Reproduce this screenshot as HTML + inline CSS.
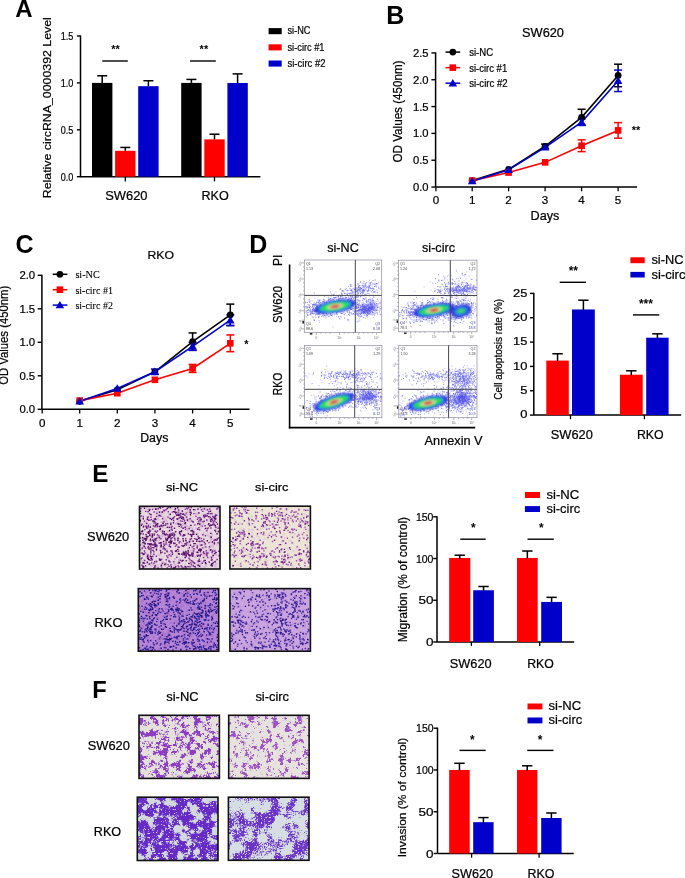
<!DOCTYPE html>
<html><head><meta charset="utf-8"><style>
html,body{margin:0;padding:0;background:#fff;}
svg{display:block;will-change:transform;filter:blur(0.35px);}
</style></head><body>
<svg width="685" height="878" viewBox="0 0 685 878">
<defs><filter id="soft" x="-5%" y="-5%" width="110%" height="110%"><feGaussianBlur stdDeviation="0.45"/></filter><filter id="fblur" x="-20%" y="-20%" width="140%" height="140%"><feGaussianBlur stdDeviation="0.9"/></filter></defs>
<rect width="685" height="878" fill="#fff"/>
<text x="15.3" y="17.1" font-size="24" text-anchor="start" font-family="Liberation Sans, sans-serif" font-weight="bold" fill="#000" >A</text>
<line x1="80.5" y1="35.4" x2="80.5" y2="177.29999999999998" stroke="#000" stroke-width="1.5"/>
<line x1="80.5" y1="176.7" x2="260.4" y2="176.7" stroke="#000" stroke-width="1.5"/>
<line x1="76.9" y1="36.0" x2="80.5" y2="36.0" stroke="#000" stroke-width="1.4"/>
<text x="73.4" y="39.8" font-size="10.6" text-anchor="end" font-family="Liberation Sans, sans-serif" textLength="12.6" lengthAdjust="spacingAndGlyphs" fill="#000" stroke="#000" stroke-width="0.22">1.5</text>
<line x1="76.9" y1="82.89999999999999" x2="80.5" y2="82.89999999999999" stroke="#000" stroke-width="1.4"/>
<text x="73.4" y="86.69999999999999" font-size="10.6" text-anchor="end" font-family="Liberation Sans, sans-serif" textLength="12.6" lengthAdjust="spacingAndGlyphs" fill="#000" stroke="#000" stroke-width="0.22">1.0</text>
<line x1="76.9" y1="129.79999999999998" x2="80.5" y2="129.79999999999998" stroke="#000" stroke-width="1.4"/>
<text x="73.4" y="133.6" font-size="10.6" text-anchor="end" font-family="Liberation Sans, sans-serif" textLength="12.6" lengthAdjust="spacingAndGlyphs" fill="#000" stroke="#000" stroke-width="0.22">0.5</text>
<line x1="76.9" y1="176.7" x2="80.5" y2="176.7" stroke="#000" stroke-width="1.4"/>
<text x="73.4" y="180.5" font-size="10.6" text-anchor="end" font-family="Liberation Sans, sans-serif" textLength="12.6" lengthAdjust="spacingAndGlyphs" fill="#000" stroke="#000" stroke-width="0.22">0.0</text>
<text transform="translate(51.2,17.2) rotate(-90)" font-size="11.8" text-anchor="end" font-family="Liberation Sans, sans-serif" textLength="181" lengthAdjust="spacingAndGlyphs" fill="#000" stroke="#000" stroke-width="0.22">Relative circRNA_0000392 Level</text>
<rect x="92.0" y="82.89999999999999" width="20.4" height="93.8" fill="#000"/>
<line x1="102.2" y1="75.77119999999998" x2="102.2" y2="82.89999999999999" stroke="#000" stroke-width="1.5"/>
<line x1="97.2" y1="75.77119999999998" x2="107.2" y2="75.77119999999998" stroke="#000" stroke-width="1.5"/>
<rect x="115.1" y="150.81119999999999" width="20.4" height="25.888800000000003" fill="#ff0000"/>
<line x1="125.3" y1="147.43439999999998" x2="125.3" y2="150.81119999999999" stroke="#000" stroke-width="1.5"/>
<line x1="120.3" y1="147.43439999999998" x2="130.3" y2="147.43439999999998" stroke="#000" stroke-width="1.5"/>
<rect x="138.2" y="86.18299999999999" width="20.4" height="90.517" fill="#0000ca"/>
<line x1="148.39999999999998" y1="80.7426" x2="148.39999999999998" y2="86.18299999999999" stroke="#000" stroke-width="1.5"/>
<line x1="143.39999999999998" y1="80.7426" x2="153.39999999999998" y2="80.7426" stroke="#000" stroke-width="1.5"/>
<rect x="181.2" y="82.89999999999999" width="20.4" height="93.8" fill="#000"/>
<line x1="191.39999999999998" y1="79.4294" x2="191.39999999999998" y2="82.89999999999999" stroke="#000" stroke-width="1.5"/>
<line x1="186.39999999999998" y1="79.4294" x2="196.39999999999998" y2="79.4294" stroke="#000" stroke-width="1.5"/>
<rect x="204.3" y="139.36759999999998" width="20.4" height="37.33240000000001" fill="#ff0000"/>
<line x1="214.5" y1="134.2086" x2="214.5" y2="139.36759999999998" stroke="#000" stroke-width="1.5"/>
<line x1="209.5" y1="134.2086" x2="219.5" y2="134.2086" stroke="#000" stroke-width="1.5"/>
<rect x="227.4" y="82.9938" width="20.4" height="93.7062" fill="#0000ca"/>
<line x1="237.6" y1="73.89519999999999" x2="237.6" y2="82.9938" stroke="#000" stroke-width="1.5"/>
<line x1="232.6" y1="73.89519999999999" x2="242.6" y2="73.89519999999999" stroke="#000" stroke-width="1.5"/>
<line x1="125.3" y1="176.7" x2="125.3" y2="181.4" stroke="#000" stroke-width="1.3"/>
<line x1="214.5" y1="176.7" x2="214.5" y2="181.4" stroke="#000" stroke-width="1.3"/>
<text x="126.4" y="199.7" font-size="12.3" text-anchor="middle" font-family="Liberation Sans, sans-serif" textLength="42.3" lengthAdjust="spacingAndGlyphs" fill="#000" stroke="#000" stroke-width="0.22">SW620</text>
<text x="215.1" y="199.8" font-size="12.3" text-anchor="middle" font-family="Liberation Sans, sans-serif" textLength="27.3" lengthAdjust="spacingAndGlyphs" fill="#000" stroke="#000" stroke-width="0.22">RKO</text>
<line x1="102.3" y1="61" x2="127.8" y2="61" stroke="#000" stroke-width="1.4"/>
<text x="115.6" y="53.2" font-size="11" text-anchor="middle" font-family="Liberation Sans, sans-serif" font-weight="bold" fill="#000" >**</text>
<line x1="190.1" y1="61" x2="215.8" y2="61" stroke="#000" stroke-width="1.4"/>
<text x="203.9" y="53.2" font-size="11" text-anchor="middle" font-family="Liberation Sans, sans-serif" font-weight="bold" fill="#000" >**</text>
<rect x="268.6" y="28.1" width="13.1" height="6.1" fill="#000"/>
<text x="287.5" y="34.4" font-size="11.6" text-anchor="start" font-family="Liberation Sans, sans-serif" textLength="23" lengthAdjust="spacingAndGlyphs" fill="#000" stroke="#000" stroke-width="0.22">si-NC</text>
<rect x="268.6" y="44.3" width="13.1" height="6.1" fill="#ff0000"/>
<text x="287.5" y="50.599999999999994" font-size="11.6" text-anchor="start" font-family="Liberation Sans, sans-serif" textLength="37" lengthAdjust="spacingAndGlyphs" fill="#000" stroke="#000" stroke-width="0.22">si-circ #1</text>
<rect x="268.6" y="60.5" width="13.1" height="6.1" fill="#0000ca"/>
<text x="287.5" y="66.8" font-size="11.6" text-anchor="start" font-family="Liberation Sans, sans-serif" textLength="38" lengthAdjust="spacingAndGlyphs" fill="#000" stroke="#000" stroke-width="0.22">si-circ #2</text>
<text x="386.3" y="24.1" font-size="25" text-anchor="start" font-family="Liberation Sans, sans-serif" font-weight="bold" fill="#000" >B</text>
<text x="543.0" y="36.5" font-size="12.4" text-anchor="middle" font-family="Liberation Sans, sans-serif" textLength="42" lengthAdjust="spacingAndGlyphs" fill="#000" stroke="#000" stroke-width="0.22">SW620</text>
<line x1="435.6" y1="52.32500000000001" x2="435.6" y2="187.05" stroke="#000" stroke-width="1.5"/>
<line x1="435.6" y1="187.05" x2="637.1" y2="187.05" stroke="#000" stroke-width="1.5"/>
<line x1="431.40000000000003" y1="187.05" x2="435.6" y2="187.05" stroke="#000" stroke-width="1.4"/>
<text x="428.6" y="191.05" font-size="11.4" text-anchor="end" font-family="Liberation Sans, sans-serif" textLength="15.6" lengthAdjust="spacingAndGlyphs" fill="#000" stroke="#000" stroke-width="0.22">0.0</text>
<line x1="431.40000000000003" y1="160.22500000000002" x2="435.6" y2="160.22500000000002" stroke="#000" stroke-width="1.4"/>
<text x="428.6" y="164.22500000000002" font-size="11.4" text-anchor="end" font-family="Liberation Sans, sans-serif" textLength="15.6" lengthAdjust="spacingAndGlyphs" fill="#000" stroke="#000" stroke-width="0.22">0.5</text>
<line x1="431.40000000000003" y1="133.4" x2="435.6" y2="133.4" stroke="#000" stroke-width="1.4"/>
<text x="428.6" y="137.4" font-size="11.4" text-anchor="end" font-family="Liberation Sans, sans-serif" textLength="15.6" lengthAdjust="spacingAndGlyphs" fill="#000" stroke="#000" stroke-width="0.22">1.0</text>
<line x1="431.40000000000003" y1="106.57500000000002" x2="435.6" y2="106.57500000000002" stroke="#000" stroke-width="1.4"/>
<text x="428.6" y="110.57500000000002" font-size="11.4" text-anchor="end" font-family="Liberation Sans, sans-serif" textLength="15.6" lengthAdjust="spacingAndGlyphs" fill="#000" stroke="#000" stroke-width="0.22">1.5</text>
<line x1="431.40000000000003" y1="79.75000000000001" x2="435.6" y2="79.75000000000001" stroke="#000" stroke-width="1.4"/>
<text x="428.6" y="83.75000000000001" font-size="11.4" text-anchor="end" font-family="Liberation Sans, sans-serif" textLength="15.6" lengthAdjust="spacingAndGlyphs" fill="#000" stroke="#000" stroke-width="0.22">2.0</text>
<line x1="431.40000000000003" y1="52.92500000000001" x2="435.6" y2="52.92500000000001" stroke="#000" stroke-width="1.4"/>
<text x="428.6" y="56.92500000000001" font-size="11.4" text-anchor="end" font-family="Liberation Sans, sans-serif" textLength="15.6" lengthAdjust="spacingAndGlyphs" fill="#000" stroke="#000" stroke-width="0.22">2.5</text>
<line x1="435.9" y1="187.05" x2="435.9" y2="191.3" stroke="#000" stroke-width="1.3"/>
<text x="435.9" y="204.4" font-size="11.6" text-anchor="middle" font-family="Liberation Sans, sans-serif" fill="#000" stroke="#000" stroke-width="0.22">0</text>
<line x1="472.2" y1="187.05" x2="472.2" y2="191.3" stroke="#000" stroke-width="1.3"/>
<text x="472.2" y="204.4" font-size="11.6" text-anchor="middle" font-family="Liberation Sans, sans-serif" fill="#000" stroke="#000" stroke-width="0.22">1</text>
<line x1="508.6" y1="187.05" x2="508.6" y2="191.3" stroke="#000" stroke-width="1.3"/>
<text x="508.6" y="204.4" font-size="11.6" text-anchor="middle" font-family="Liberation Sans, sans-serif" fill="#000" stroke="#000" stroke-width="0.22">2</text>
<line x1="545.1" y1="187.05" x2="545.1" y2="191.3" stroke="#000" stroke-width="1.3"/>
<text x="545.1" y="204.4" font-size="11.6" text-anchor="middle" font-family="Liberation Sans, sans-serif" fill="#000" stroke="#000" stroke-width="0.22">3</text>
<line x1="581.6" y1="187.05" x2="581.6" y2="191.3" stroke="#000" stroke-width="1.3"/>
<text x="581.6" y="204.4" font-size="11.6" text-anchor="middle" font-family="Liberation Sans, sans-serif" fill="#000" stroke="#000" stroke-width="0.22">4</text>
<line x1="618.1" y1="187.05" x2="618.1" y2="191.3" stroke="#000" stroke-width="1.3"/>
<text x="618.1" y="204.4" font-size="11.6" text-anchor="middle" font-family="Liberation Sans, sans-serif" fill="#000" stroke="#000" stroke-width="0.22">5</text>
<text x="544.9" y="219.6" font-size="12.4" text-anchor="middle" font-family="Liberation Sans, sans-serif" textLength="28.8" lengthAdjust="spacingAndGlyphs" fill="#000" stroke="#000" stroke-width="0.22">Days</text>
<text transform="translate(401.9,111.5) rotate(-90)" font-size="12.4" text-anchor="middle" font-family="Liberation Sans, sans-serif" textLength="102" lengthAdjust="spacingAndGlyphs" fill="#000" stroke="#000" stroke-width="0.22">OD Values (450nm)</text>
<polyline points="472.2,180.61200000000002 508.6,169.34550000000002 545.1,146.276 581.6,117.305 618.1,75.45800000000001" fill="none" stroke="#000" stroke-width="1.6"/>
<line x1="545.1" y1="144.13" x2="545.1" y2="148.42200000000003" stroke="#000" stroke-width="1.5"/>
<line x1="541.1" y1="144.13" x2="549.1" y2="144.13" stroke="#000" stroke-width="1.5"/>
<line x1="541.1" y1="148.42200000000003" x2="549.1" y2="148.42200000000003" stroke="#000" stroke-width="1.5"/>
<line x1="581.6" y1="109.25750000000002" x2="581.6" y2="125.3525" stroke="#000" stroke-width="1.5"/>
<line x1="577.6" y1="109.25750000000002" x2="585.6" y2="109.25750000000002" stroke="#000" stroke-width="1.5"/>
<line x1="577.6" y1="125.3525" x2="585.6" y2="125.3525" stroke="#000" stroke-width="1.5"/>
<line x1="618.1" y1="64.19150000000002" x2="618.1" y2="86.7245" stroke="#000" stroke-width="1.5"/>
<line x1="614.1" y1="64.19150000000002" x2="622.1" y2="64.19150000000002" stroke="#000" stroke-width="1.5"/>
<line x1="614.1" y1="86.7245" x2="622.1" y2="86.7245" stroke="#000" stroke-width="1.5"/>
<polyline points="472.2,180.61200000000002 508.6,172.5645 545.1,162.371 581.6,145.73950000000002 618.1,130.3956" fill="none" stroke="#ff0000" stroke-width="1.6"/>
<line x1="581.6" y1="139.83800000000002" x2="581.6" y2="151.64100000000002" stroke="#ff0000" stroke-width="1.5"/>
<line x1="577.6" y1="139.83800000000002" x2="585.6" y2="139.83800000000002" stroke="#ff0000" stroke-width="1.5"/>
<line x1="577.6" y1="151.64100000000002" x2="585.6" y2="151.64100000000002" stroke="#ff0000" stroke-width="1.5"/>
<line x1="618.1" y1="122.61635000000001" x2="618.1" y2="138.17485000000002" stroke="#ff0000" stroke-width="1.5"/>
<line x1="614.1" y1="122.61635000000001" x2="622.1" y2="122.61635000000001" stroke="#ff0000" stroke-width="1.5"/>
<line x1="614.1" y1="138.17485000000002" x2="622.1" y2="138.17485000000002" stroke="#ff0000" stroke-width="1.5"/>
<polyline points="472.2,181.1485 508.6,169.882 545.1,147.34900000000002 581.6,122.13350000000001 618.1,80.82300000000002" fill="none" stroke="#0000ca" stroke-width="1.6"/>
<line x1="581.6" y1="118.91450000000002" x2="581.6" y2="125.35250000000002" stroke="#0000ca" stroke-width="1.5"/>
<line x1="577.6" y1="118.91450000000002" x2="585.6" y2="118.91450000000002" stroke="#0000ca" stroke-width="1.5"/>
<line x1="577.6" y1="125.35250000000002" x2="585.6" y2="125.35250000000002" stroke="#0000ca" stroke-width="1.5"/>
<line x1="618.1" y1="70.093" x2="618.1" y2="91.55300000000001" stroke="#0000ca" stroke-width="1.5"/>
<line x1="614.1" y1="70.093" x2="622.1" y2="70.093" stroke="#0000ca" stroke-width="1.5"/>
<line x1="614.1" y1="91.55300000000001" x2="622.1" y2="91.55300000000001" stroke="#0000ca" stroke-width="1.5"/>
<circle cx="472.2" cy="180.61200000000002" r="3.4" fill="#000"/>
<circle cx="508.6" cy="169.34550000000002" r="3.4" fill="#000"/>
<circle cx="545.1" cy="146.276" r="3.4" fill="#000"/>
<circle cx="581.6" cy="117.305" r="3.4" fill="#000"/>
<circle cx="618.1" cy="75.45800000000001" r="3.4" fill="#000"/>
<rect x="468.9" y="177.312" width="6.6" height="6.6" fill="#ff0000"/>
<rect x="505.3" y="169.2645" width="6.6" height="6.6" fill="#ff0000"/>
<rect x="541.8000000000001" y="159.071" width="6.6" height="6.6" fill="#ff0000"/>
<rect x="578.3000000000001" y="142.4395" width="6.6" height="6.6" fill="#ff0000"/>
<rect x="614.8000000000001" y="127.0956" width="6.6" height="6.6" fill="#ff0000"/>
<path d="M472.2 176.94850000000002 L476.5 184.3485 L467.9 184.3485Z" fill="#0000ca"/>
<path d="M508.6 165.68200000000002 L512.9 173.082 L504.3 173.082Z" fill="#0000ca"/>
<path d="M545.1 143.14900000000003 L549.4 150.549 L540.8000000000001 150.549Z" fill="#0000ca"/>
<path d="M581.6 117.93350000000001 L585.9 125.33350000000002 L577.3000000000001 125.33350000000002Z" fill="#0000ca"/>
<path d="M618.1 76.62300000000002 L622.4 84.02300000000002 L613.8000000000001 84.02300000000002Z" fill="#0000ca"/>
<text x="636" y="133.6" font-size="11" text-anchor="middle" font-family="Liberation Sans, sans-serif" font-weight="bold" fill="#000" >**</text>
<line x1="445.5" y1="52.1" x2="460.2" y2="52.1" stroke="#000" stroke-width="1.5"/>
<circle cx="452.8" cy="52.1" r="3.4" fill="#000"/>
<text x="469.2" y="56.1" font-size="11" text-anchor="start" font-family="Liberation Sans, sans-serif" textLength="24" lengthAdjust="spacingAndGlyphs" fill="#000" stroke="#000" stroke-width="0.22">si-NC</text>
<line x1="445.5" y1="67.65" x2="460.2" y2="67.65" stroke="#ff0000" stroke-width="1.5"/>
<rect x="449.5" y="64.35000000000001" width="6.6" height="6.6" fill="#ff0000"/>
<text x="469.2" y="71.65" font-size="11" text-anchor="start" font-family="Liberation Sans, sans-serif" textLength="38" lengthAdjust="spacingAndGlyphs" fill="#000" stroke="#000" stroke-width="0.22">si-circ #1</text>
<line x1="445.5" y1="83.2" x2="460.2" y2="83.2" stroke="#0000ca" stroke-width="1.5"/>
<path d="M452.8 79.0 L457.1 86.4 L448.5 86.4Z" fill="#0000ca"/>
<text x="469.2" y="87.2" font-size="11" text-anchor="start" font-family="Liberation Sans, sans-serif" textLength="38.5" lengthAdjust="spacingAndGlyphs" fill="#000" stroke="#000" stroke-width="0.22">si-circ #2</text>
<text x="15.5" y="252.5" font-size="25" text-anchor="start" font-family="Liberation Sans, sans-serif" font-weight="bold" fill="#000" >C</text>
<text x="160.8" y="258.8" font-size="11.8" text-anchor="middle" font-family="Liberation Sans, sans-serif" textLength="26.5" lengthAdjust="spacingAndGlyphs" fill="#000" stroke="#000" stroke-width="0.22">RKO</text>
<line x1="41.9" y1="274.7" x2="41.9" y2="409.3" stroke="#000" stroke-width="1.5"/>
<line x1="41.9" y1="409.3" x2="249.5" y2="409.3" stroke="#000" stroke-width="1.5"/>
<line x1="37.699999999999996" y1="409.3" x2="41.9" y2="409.3" stroke="#000" stroke-width="1.4"/>
<text x="35.2" y="413.3" font-size="11.4" text-anchor="end" font-family="Liberation Sans, sans-serif" textLength="15.8" lengthAdjust="spacingAndGlyphs" fill="#000" stroke="#000" stroke-width="0.22">0.0</text>
<line x1="37.699999999999996" y1="375.8" x2="41.9" y2="375.8" stroke="#000" stroke-width="1.4"/>
<text x="35.2" y="379.8" font-size="11.4" text-anchor="end" font-family="Liberation Sans, sans-serif" textLength="15.8" lengthAdjust="spacingAndGlyphs" fill="#000" stroke="#000" stroke-width="0.22">0.5</text>
<line x1="37.699999999999996" y1="342.3" x2="41.9" y2="342.3" stroke="#000" stroke-width="1.4"/>
<text x="35.2" y="346.3" font-size="11.4" text-anchor="end" font-family="Liberation Sans, sans-serif" textLength="15.8" lengthAdjust="spacingAndGlyphs" fill="#000" stroke="#000" stroke-width="0.22">1.0</text>
<line x1="37.699999999999996" y1="308.8" x2="41.9" y2="308.8" stroke="#000" stroke-width="1.4"/>
<text x="35.2" y="312.8" font-size="11.4" text-anchor="end" font-family="Liberation Sans, sans-serif" textLength="15.8" lengthAdjust="spacingAndGlyphs" fill="#000" stroke="#000" stroke-width="0.22">1.5</text>
<line x1="37.699999999999996" y1="275.3" x2="41.9" y2="275.3" stroke="#000" stroke-width="1.4"/>
<text x="35.2" y="279.3" font-size="11.4" text-anchor="end" font-family="Liberation Sans, sans-serif" textLength="15.8" lengthAdjust="spacingAndGlyphs" fill="#000" stroke="#000" stroke-width="0.22">2.0</text>
<line x1="42.2" y1="409.3" x2="42.2" y2="413.5" stroke="#000" stroke-width="1.3"/>
<text x="42.2" y="426.5" font-size="11.6" text-anchor="middle" font-family="Liberation Sans, sans-serif" fill="#000" stroke="#000" stroke-width="0.22">0</text>
<line x1="79.7" y1="409.3" x2="79.7" y2="413.5" stroke="#000" stroke-width="1.3"/>
<text x="79.7" y="426.5" font-size="11.6" text-anchor="middle" font-family="Liberation Sans, sans-serif" fill="#000" stroke="#000" stroke-width="0.22">1</text>
<line x1="117.3" y1="409.3" x2="117.3" y2="413.5" stroke="#000" stroke-width="1.3"/>
<text x="117.3" y="426.5" font-size="11.6" text-anchor="middle" font-family="Liberation Sans, sans-serif" fill="#000" stroke="#000" stroke-width="0.22">2</text>
<line x1="154.9" y1="409.3" x2="154.9" y2="413.5" stroke="#000" stroke-width="1.3"/>
<text x="154.9" y="426.5" font-size="11.6" text-anchor="middle" font-family="Liberation Sans, sans-serif" fill="#000" stroke="#000" stroke-width="0.22">3</text>
<line x1="192.6" y1="409.3" x2="192.6" y2="413.5" stroke="#000" stroke-width="1.3"/>
<text x="192.6" y="426.5" font-size="11.6" text-anchor="middle" font-family="Liberation Sans, sans-serif" fill="#000" stroke="#000" stroke-width="0.22">4</text>
<line x1="230.3" y1="409.3" x2="230.3" y2="413.5" stroke="#000" stroke-width="1.3"/>
<text x="230.3" y="426.5" font-size="11.6" text-anchor="middle" font-family="Liberation Sans, sans-serif" fill="#000" stroke="#000" stroke-width="0.22">5</text>
<text x="154.3" y="442.0" font-size="12.2" text-anchor="middle" font-family="Liberation Sans, sans-serif" textLength="28.2" lengthAdjust="spacingAndGlyphs" fill="#000" stroke="#000" stroke-width="0.22">Days</text>
<text transform="translate(8.2,335.3) rotate(-90)" font-size="12.4" text-anchor="middle" font-family="Liberation Sans, sans-serif" textLength="99" lengthAdjust="spacingAndGlyphs" fill="#000" stroke="#000" stroke-width="0.22">OD Values (450nm)</text>
<polyline points="79.7,401.26 117.3,389.87 154.9,371.78000000000003 192.6,341.63 230.3,314.83000000000004" fill="none" stroke="#000" stroke-width="1.6"/>
<line x1="192.6" y1="332.92" x2="192.6" y2="350.34000000000003" stroke="#000" stroke-width="1.5"/>
<line x1="188.6" y1="332.92" x2="196.6" y2="332.92" stroke="#000" stroke-width="1.5"/>
<line x1="188.6" y1="350.34000000000003" x2="196.6" y2="350.34000000000003" stroke="#000" stroke-width="1.5"/>
<line x1="230.3" y1="304.11" x2="230.3" y2="325.55" stroke="#000" stroke-width="1.5"/>
<line x1="226.3" y1="304.11" x2="234.3" y2="304.11" stroke="#000" stroke-width="1.5"/>
<line x1="226.3" y1="325.55" x2="234.3" y2="325.55" stroke="#000" stroke-width="1.5"/>
<polyline points="79.7,400.59000000000003 117.3,393.22 154.9,379.82 192.6,368.43 230.3,343.305" fill="none" stroke="#ff0000" stroke-width="1.6"/>
<line x1="192.6" y1="364.41" x2="192.6" y2="372.45" stroke="#ff0000" stroke-width="1.5"/>
<line x1="188.6" y1="364.41" x2="196.6" y2="364.41" stroke="#ff0000" stroke-width="1.5"/>
<line x1="188.6" y1="372.45" x2="196.6" y2="372.45" stroke="#ff0000" stroke-width="1.5"/>
<line x1="230.3" y1="334.93" x2="230.3" y2="351.68" stroke="#ff0000" stroke-width="1.5"/>
<line x1="226.3" y1="334.93" x2="234.3" y2="334.93" stroke="#ff0000" stroke-width="1.5"/>
<line x1="226.3" y1="351.68" x2="234.3" y2="351.68" stroke="#ff0000" stroke-width="1.5"/>
<polyline points="79.7,401.26 117.3,388.53000000000003 154.9,371.78000000000003 192.6,346.32 230.3,320.19" fill="none" stroke="#0000ca" stroke-width="1.6"/>
<line x1="154.9" y1="369.1" x2="154.9" y2="374.46000000000004" stroke="#0000ca" stroke-width="1.5"/>
<line x1="150.9" y1="369.1" x2="158.9" y2="369.1" stroke="#0000ca" stroke-width="1.5"/>
<line x1="150.9" y1="374.46000000000004" x2="158.9" y2="374.46000000000004" stroke="#0000ca" stroke-width="1.5"/>
<line x1="192.6" y1="342.3" x2="192.6" y2="350.34000000000003" stroke="#0000ca" stroke-width="1.5"/>
<line x1="188.6" y1="342.3" x2="196.6" y2="342.3" stroke="#0000ca" stroke-width="1.5"/>
<line x1="188.6" y1="350.34000000000003" x2="196.6" y2="350.34000000000003" stroke="#0000ca" stroke-width="1.5"/>
<line x1="230.3" y1="314.83" x2="230.3" y2="325.55" stroke="#0000ca" stroke-width="1.5"/>
<line x1="226.3" y1="314.83" x2="234.3" y2="314.83" stroke="#0000ca" stroke-width="1.5"/>
<line x1="226.3" y1="325.55" x2="234.3" y2="325.55" stroke="#0000ca" stroke-width="1.5"/>
<circle cx="79.7" cy="401.26" r="3.4" fill="#000"/>
<circle cx="117.3" cy="389.87" r="3.4" fill="#000"/>
<circle cx="154.9" cy="371.78000000000003" r="3.4" fill="#000"/>
<circle cx="192.6" cy="341.63" r="3.4" fill="#000"/>
<circle cx="230.3" cy="314.83000000000004" r="3.4" fill="#000"/>
<rect x="76.4" y="397.29" width="6.6" height="6.6" fill="#ff0000"/>
<rect x="114.0" y="389.92" width="6.6" height="6.6" fill="#ff0000"/>
<rect x="151.6" y="376.52" width="6.6" height="6.6" fill="#ff0000"/>
<rect x="189.29999999999998" y="365.13" width="6.6" height="6.6" fill="#ff0000"/>
<rect x="227.0" y="340.005" width="6.6" height="6.6" fill="#ff0000"/>
<path d="M79.7 397.06 L84.0 404.46 L75.4 404.46Z" fill="#0000ca"/>
<path d="M117.3 384.33000000000004 L121.6 391.73 L113.0 391.73Z" fill="#0000ca"/>
<path d="M154.9 367.58000000000004 L159.20000000000002 374.98 L150.6 374.98Z" fill="#0000ca"/>
<path d="M192.6 342.12 L196.9 349.52 L188.29999999999998 349.52Z" fill="#0000ca"/>
<path d="M230.3 315.99 L234.60000000000002 323.39 L226.0 323.39Z" fill="#0000ca"/>
<text x="246.3" y="347.5" font-size="11" text-anchor="middle" font-family="Liberation Sans, sans-serif" font-weight="bold" fill="#000" >*</text>
<line x1="52.7" y1="274.3" x2="67.4" y2="274.3" stroke="#000" stroke-width="1.5"/>
<circle cx="59.9" cy="274.3" r="3.4" fill="#000"/>
<text x="75.4" y="278.2" font-size="11.2" text-anchor="start" font-family="Liberation Serif, serif" textLength="24.4" lengthAdjust="spacingAndGlyphs" fill="#000" stroke="#000" stroke-width="0.1">si-NC</text>
<line x1="52.7" y1="289.7" x2="67.4" y2="289.7" stroke="#ff0000" stroke-width="1.5"/>
<rect x="56.6" y="286.4" width="6.6" height="6.6" fill="#ff0000"/>
<text x="75.4" y="293.59999999999997" font-size="11.2" text-anchor="start" font-family="Liberation Serif, serif" textLength="37.5" lengthAdjust="spacingAndGlyphs" fill="#000" stroke="#000" stroke-width="0.1">si-circ #1</text>
<line x1="52.7" y1="305.1" x2="67.4" y2="305.1" stroke="#0000ca" stroke-width="1.5"/>
<path d="M59.9 300.90000000000003 L64.2 308.3 L55.6 308.3Z" fill="#0000ca"/>
<text x="75.4" y="309.0" font-size="11.2" text-anchor="start" font-family="Liberation Serif, serif" textLength="37.5" lengthAdjust="spacingAndGlyphs" fill="#000" stroke="#000" stroke-width="0.1">si-circ #2</text>
<text x="249.3" y="252.6" font-size="25" text-anchor="start" font-family="Liberation Sans, sans-serif" font-weight="bold" fill="#000" >D</text>
<text x="343" y="252.3" font-size="12.4" text-anchor="middle" font-family="Liberation Sans, sans-serif" textLength="31.5" lengthAdjust="spacingAndGlyphs" fill="#000" stroke="#000" stroke-width="0.22">si-NC</text>
<text x="438.5" y="252.3" font-size="12.4" text-anchor="middle" font-family="Liberation Sans, sans-serif" textLength="33" lengthAdjust="spacingAndGlyphs" fill="#000" stroke="#000" stroke-width="0.22">si-circ</text>
<text transform="translate(281.5,260.3) rotate(-90)" font-size="12" text-anchor="middle" font-family="Liberation Sans, sans-serif" fill="#000" stroke="#000" stroke-width="0.22">PI</text>
<text transform="translate(281.5,304.5) rotate(-90)" font-size="12" text-anchor="middle" font-family="Liberation Sans, sans-serif" textLength="37" lengthAdjust="spacingAndGlyphs" fill="#000" stroke="#000" stroke-width="0.22">SW620</text>
<text transform="translate(281.5,384) rotate(-90)" font-size="12" text-anchor="middle" font-family="Liberation Sans, sans-serif" textLength="22.5" lengthAdjust="spacingAndGlyphs" fill="#000" stroke="#000" stroke-width="0.22">RKO</text>
<line x1="289.6" y1="264.5" x2="289.6" y2="428.4" stroke="#000" stroke-width="1.6"/>
<line x1="288.8" y1="427.6" x2="475.2" y2="427.6" stroke="#000" stroke-width="1.8"/>
<text x="453.6" y="445.2" font-size="12.6" text-anchor="middle" font-family="Liberation Sans, sans-serif" textLength="58" lengthAdjust="spacingAndGlyphs" fill="#000" stroke="#000" stroke-width="0.22">Annexin V</text>
<path d="M301.7 262.9h2.6M303.0 266.9h1.3M303.0 270.9h1.3M303.0 274.9h1.3M301.7 278.9h2.6M303.0 282.8h1.3M303.0 286.8h1.3M303.0 290.8h1.3M301.7 294.8h2.6M303.0 298.8h1.3M303.0 302.8h1.3M303.0 306.8h1.3M301.7 310.8h2.6M301.7 320.2h2.6M301.7 328.9h2.6M316.3 332.5v2.4M320.9 332.5v1.2M325.6 332.5v1.2M330.2 332.5v1.2M339.5 332.5v2.4M344.2 332.5v1.2M348.8 332.5v1.2M353.4 332.5v1.2M358.7 332.5v2.4M363.4 332.5v1.2M368.0 332.5v1.2M372.6 332.5v1.2M376.4 332.5v2.4" stroke="#555" stroke-width="0.45" fill="none"/>
<text transform="translate(301.1,264.1) rotate(-60)" font-size="3.2" text-anchor="middle" font-family="Liberation Sans, sans-serif" fill="#666">10⁵</text>
<text transform="translate(301.1,280.1) rotate(-60)" font-size="3.2" text-anchor="middle" font-family="Liberation Sans, sans-serif" fill="#666">10⁴</text>
<text transform="translate(301.1,296.0) rotate(-60)" font-size="3.2" text-anchor="middle" font-family="Liberation Sans, sans-serif" fill="#666">10³</text>
<text transform="translate(301.1,311.9) rotate(-60)" font-size="3.2" text-anchor="middle" font-family="Liberation Sans, sans-serif" fill="#666">10²</text>
<text transform="translate(301.1,321.4) rotate(-60)" font-size="3.2" text-anchor="middle" font-family="Liberation Sans, sans-serif" fill="#666">0</text>
<text transform="translate(301.1,330.1) rotate(-60)" font-size="3.2" text-anchor="middle" font-family="Liberation Sans, sans-serif" fill="#666">-10²</text>
<text x="316.3" y="338.8" font-size="3.2" text-anchor="middle" font-family="Liberation Sans, sans-serif" fill="#666">0</text>
<text x="339.5" y="338.8" font-size="3.2" text-anchor="middle" font-family="Liberation Sans, sans-serif" fill="#666">10²</text>
<text x="358.7" y="338.8" font-size="3.2" text-anchor="middle" font-family="Liberation Sans, sans-serif" fill="#666">10³</text>
<text x="376.4" y="338.8" font-size="3.2" text-anchor="middle" font-family="Liberation Sans, sans-serif" fill="#666">10⁴</text>
<rect x="302.40000000000003" y="321.0" width="1.6" height="2.6" fill="#222"/>
<rect x="309.8" y="333.1" width="2.6" height="1.5" fill="#222"/>
<text x="305.9" y="264.5" font-size="3.6" text-anchor="start" font-family="Liberation Sans, sans-serif" fill="#444">Q1</text>
<text x="305.9" y="269.5" font-size="3.6" text-anchor="start" font-family="Liberation Sans, sans-serif" fill="#444">1.13</text>
<text x="380.1" y="264.5" font-size="3.6" text-anchor="end" font-family="Liberation Sans, sans-serif" fill="#444">Q2</text>
<text x="380.1" y="269.5" font-size="3.6" text-anchor="end" font-family="Liberation Sans, sans-serif" fill="#444">2.08</text>
<text x="305.9" y="325.0" font-size="3.6" text-anchor="start" font-family="Liberation Sans, sans-serif" fill="#444">Q4</text>
<text x="305.9" y="330.0" font-size="3.6" text-anchor="start" font-family="Liberation Sans, sans-serif" fill="#444">88.6</text>
<text x="380.1" y="325.0" font-size="3.6" text-anchor="end" font-family="Liberation Sans, sans-serif" fill="#44a">Q3</text>
<text x="380.1" y="330.0" font-size="3.6" text-anchor="end" font-family="Liberation Sans, sans-serif" fill="#44a">8.18</text>
<clipPath id="cP0"><rect x="304.3" y="260.0" width="77.39999999999998" height="72.5"/></clipPath>
<g clip-path="url(#cP0)">
<path d="M375.3 280h0m-14.7 2.1h0m2.7 1.2h0m0.7-1.7h0m2.3 1.3h0m3.8 0.4h0m0.7-0.6h0m2.3-2.2h0m3.5 3h0m-26.4 1.5h0m0.5 1.3h0m0.2-1.9h0m0.4 1.6h0m6.9-1.1h0m0.5 1.6h0m1-0.8h0m2.8-0.5h0m2.6 0.8h0m0-0.3h0m0.2-1.2h0m0-0.8h0m0.4 1.8h0m3.1-0.3h0m0.7 0.6h0m1.4-1.4h0m2.1-0.4h0m1.8 2.4h0m0.1-2.2h0m0-0.1h0m1.3-0.3h0m0.9 0.1h0m-37.1 5.3h0m0.6-0.3h0m4.5 0.5h0m9.8-1.1h0m2 0h0m1.1 0.6h0m0.2-1.6h0m0.5 2.2h0m0.3-2h0m0.1 0.3h0m0.7 1.5h0m0 0h0m0.3-0.6h0m0.2-1h0m0.2 0.2h0m0.7 0.6h0m0.4 0h0m1.1-1.5h0m1-0.2h0m0.9 0.3h0m1.3 1.5h0m0.4-1.2h0m1.9 0.2h0m0.2 0.6h0m0.9-1.5h0m1 1h0m0.1 0.9h0m1.2 0h0m0.8 0.2h0m1.2-0.3h0m5.1-0.4h0m1.5 1.1h0m-49.9 2.7h0m11.7-1.5h0m0.3 0.8h0m0.7-0.7h0m0.8 1.2h0m3.2-0.8h0m1-0.3h0m2.6-0.3h0m0.9-0.3h0m0.1 0.5h0m0.1-0.4h0m1.1 1.8h0m1.3-2.1h0m0.6-0.3h0m0.7 2.9h0m0.7-1.2h0m0.4 0.2h0m0.4-1.3h0m0.4-0.3h0m0.1 0.7h0m0.1 1.2h0m0.4 0.6h0m0.7-2.2h0m0.8 0.6h0m0.8 0.3h0m1.7 1.2h0m0.6-2.2h0m0.1 1h0m0.8-0.5h0m0-0.8h0m0.4-0.1h0m0.1 1h0m0.4-0.1h0m3 1.2h0m0.2-0.9h0m1-1h0m0.1 1.2h0m0.1-0.5h0m2.9 1.3h0m0.9-1.3h0m1.4 1.1h0m0.6 0.5h0m3.1 0.2h0m-63.3 0.8h0m18.9 1.4h0m0.5 0.9h0m8-2.2h0m0.1 0.8h0m0.3 0.2h0m2.4-1h0m0.5 0.3h0m1.8 0.6h0m0.6 0.3h0m1.7-0.7h0m0.9 0h0m0.7-0.5h0m0.8 2.1h0m0.2-2.2h0m1-0.3h0m0.3 0.2h0m0.3 2.1h0m2.8-0.2h0m1.1-1.8h0m0.2 1.5h0m0.9-1.2h0m0.4 1.9h0m1.6-1.7h0m0.4 0h0m1.6-0.4h0m0.8-0.4h0m0.5 0h0m1.7 2.3h0m0.4-0.8h0m2.4-0.8h0m5-0.7h0m-48.6 3.3h0m6.4 2.4h0m2.8-0.7h0m0.3-0.2h0m0.5 0.4h0m0.9-0.3h0m0.2-0.2h0m0.7-0.3h0m2.1-1.1h0m0 0.4h0m0.1-0.7h0m0.3 2.3h0m1.6-1.8h0m0.5 0.3h0m1.2 0.2h0m0.5 1.4h0m2.9-0.3h0m0.1-0.9h0m0.9 0.6h0m2.3 0.5h0m1.5-2.5h0m0.2 0.5h0m0.6 0.9h0m0.5 1.4h0m0.6-2.1h0m0.3 1h0m1.1 0.8h0m1.9-0.3h0m0.3 0.3h0m0.1-1h0m1 0.2h0m1-0.1h0m0.7-1.7h0m0 0.9h0m2 0.2h0m0.1 0.2h0m5.3 1h0m7.3-2h0m0.2 1.3h0m-64.3 2.6h0m0 1.6h0m8.7-1.3h0m1.5 0.8h0m0.6-0.6h0m3.3-0.9h0m1.3 0.8h0m3.8-0.1h0m0.1 0.9h0m0.4-1.6h0m1 0h0m0.1 1.4h0m0.4-2.1h0m0.6 2.4h0m0.8-0.8h0m0.7-1.1h0m0.4 0.6h0m3.9 0.2h0m0.8 1.6h0m0.7-0.3h0m0.1-1.2h0m0.5 1.1h0m0.3-0.4h0m0.1-1.7h0m0.3 1.2h0m0.8 0.6h0m0-2.2h0m1 2.9h0m0.4-1h0m1.4 0.6h0m0.5 0h0m0-0.4h0m4.3 0.8h0m0.6-2.2h0m1.1-0.2h0m0.5 2.2h0m0.4-0.6h0m0.3-0.4h0m0.1 1.1h0m0.1-2.8h0m3.3 2h0m2.6-0.5h0m0.4-0.2h0m1.4 0.5h0m1.3 0.4h0m2.6-0.5h0m0.6-1.6h0m1.1 0.4h0m0.7-0.1h0m1.5 1.1h0m1.9-0.3h0m0.7-0.4h0m1.7 1.6h0m0.1-1.9h0m1 1.9h0m0.3-2.2h0m0.3 1.4h0m0.8 0.3h0m3.9-1.4h0m4 2.3h0m-75.9 1.4h0m1.9-0.3h0m2.6 0h0m2.6 2h0m1.1-0.1h0m0.4-1.4h0m0.3 1.2h0m1.5-0.7h0m0.1 0.8h0m0.7-1.9h0m0.6 0.3h0m1.5 0h0m0 0.1h0m0.3 1.5h0m1.3-2h0m0.8 0.5h0m1.9-1.2h0m0.1-0.1h0m0.8 0.9h0m0.6-0.5h0m0 1.1h0m1.6-0.5h0m0.3 1.3h0m0.2-1.8h0m2.7-0.1h0m0.8 2.3h0m0.1-0.7h0m0.1 0.2h0m1.1 0h0m0.4 0.7h0m0.4-0.9h0m0.9-0.6h0m0.5 0.1h0m0.1-1.1h0m0.3 1.3h0m0.8-0.8h0m0.8-0.5h0m0.1 2.5h0m2.6-1.9h0m0.1 0.7h0m0.4-1.6h0m0.2 2.7h0m0.7-0.9h0m0.3 0.2h0m0.1 0.4h0m0.2-1.2h0m0.4-1.2h0m0.6 2.2h0m0.2-1h0m0.1 1.4h0m0.6-2.4h0m0.1 1.8h0m0.1-0.6h0m0.4 0.6h0m0.3-1.1h0m1.5 1.6h0m0.1-0.3h0m1 0.6h0m0.2 0h0m0.1-1.3h0m0.4 0h0m0.6 0h0m1.6-0.5h0m0.4-1h0m0.7 0.7h0m0.7 0.9h0m1.9 0.7h0m0.7-0.6h0m0.3 0.2h0m0.4 0.3h0m0.8-1.9h0m0.5 0.7h0m0.4 1.1h0m1.9-1.4h0m1.9 0.8h0m4.6 1.3h0m0.3-0.6h0m1.6 0.4h0m0.5-2.6h0m0.6 0.9h0m1.9-0.7h0m1.3 1.4h0m0.1-0.4h0m0-0.1h0m0.3 1.5h0m0.1 0.2h0m0.1-1.6h0m0 0.1h0m0.2 1.5h0m0.6-0.4h0m0.7-1.8h0m0.1 1.9h0m0.6-0.1h0m0.4-2.2h0m0.1 1.1h0m1.3 1h0m2-0.4h0m3.3-0.6h0m0.3 0.1h0m-74.1 3.7h0m1 0.4h0m1-2.4h0m1 2.6h0m0.1-1.1h0m0.2-1.2h0m3 1.6h0m0.4-0.7h0m0.9-1.1h0m0.2-0.1h0m1 0.3h0m0.2 0.3h0m1.3 0.1h0m0.2 1h0m0.6 0.1h0m0.4-1.4h0m1.7 2.2h0m0.9-1.6h0m0.2 1.8h0m0.2-2.6h0m0.2-0.2h0m0.6 0.9h0m1.4 1.9h0m0.3-0.8h0m0.7 0.3h0m0.2-0.7h0m0.1 0.8h0m1.1-0.5h0m0.1-1.3h0m0.5 0h0m0.5 0.3h0m0.1 1.6h0m0.3-0.5h0m0.4-2.1h0m0.8 0h0m1 1.7h0m0.1 0.7h0m0.4-2.4h0m0.1 1.5h0m0.2-0.8h0m1.2 2h0m0.1-1.5h0m0.1-0.7h0m0.3 0.7h0m0.5 0.7h0m0.2-0.2h0m0.2 0.7h0m0.2-0.5h0m0.1 0h0m0.1-1.5h0m0.1 0.1h0m0.6 1.9h0m0-0.2h0m0.2-1.9h0m0.1 2.1h0m0.5 0.3h0m0-1.4h0m0.7 1.3h0m0.7-1.2h0m0-1h0m0.2 1h0m0.2 0.7h0m0.1-1.7h0m0.6 1.9h0m0.5-1.8h0m0.4-0.6h0m0.3 2.6h0m0.1-2.3h0m0.2 2.2h0m0.2-1.5h0m0.1-0.6h0m0.2 1.6h0m0.3 0.9h0m0.3-1.4h0m0.2 0.6h0m1-1.3h0m0.1 0.3h0m0.2-1h0m0.3 1.5h0m1.3-0.6h0m0.9-0.3h0m1.1 1.6h0m0.2 0.1h0m0.5 0.4h0m1-0.9h0m0.4-1.5h0m0.2 1.5h0m0.4-0.3h0m0.2-0.1h0m0 0.3h0m1.4-0.2h0m2.5-1.5h0m2.3 1.9h0m2.4 0.9h0m0.3 0h0m0.1-1h0m0.4-0.5h0m0.5-1.4h0m0.7 0.1h0m0.4 0.6h0m0.1 1.5h0m0.2 0.6h0m0.1-2.4h0m0.4 0.3h0m1.8 1.4h0m0 0.1h0m1-0.1h0m0.7-1.7h0m0 0.6h0m0-1h0m0.3 2.2h0m0.1-0.3h0m0.1-0.1h0m0.1 0.3h0m0.3 0.3h0m0.6-1.4h0m0.2 1.6h0m0.3-0.7h0m0.1 0.8h0m0.2-0.1h0m0.2 0.1h0m0.6-0.5h0m0.2 0.5h0m0.4-1.4h0m0 1.1h0m0.3-2.2h0m1.4 0.9h0m0-0.9h0m0.1 0.4h0m0.5 2.1h0m1.1-0.6h0m1 0.7h0m0-1.4h0m0.1-1.2h0m0.8 1.4h0m0.4 0.2h0m0.5-1.2h0m0.1 2.1h0m0.2 0.1h0m0.1-0.8h0m1.5 0.2h0m0.1-1.6h0m0.7-0.1h0m0.8 1.4h0m1.1-0.9h0m0.4 1.6h0m0.1 0.3h0m1.3-0.3h0m1.4-1h0m-74.3 2h0m1.3 2.2h0m0.5-2.3h0m0.8 2.1h0m0.3-0.5h0m0.6-2h0m0.2 0.1h0m0.7 1.4h0m1.9 0.8h0m0.1-0.3h0m0.6 0.1h0m0-1.5h0m0.5-0.1h0m0.4 2h0m0.6-0.4h0m0.9-1.8h0m0.9 1.3h0m0.4 1.3h0m0.2-1.8h0m0.5 1.7h0m0.5-1.1h0m0.5-0.1h0m0.2-1.1h0m0.2 1.8h0m0.9-0.5h0m0.1 0.9h0m0-0.4h0m0.7-0.9h0m0.2 0.1h0m0.3 1.3h0m0.1-0.9h0m0.2-1.9h0m0.3 2.5h0m0.2-0.9h0m0 0.8h0m0.5-0.8h0m0.2 0.5h0m1.5-1.5h0m0 1.4h0m0.2 0.1h0m0.2-1h0m0.1 0.4h0m0.1-0.9h0m0.1-0.1h0m0.1 1.5h0m0.5 0.6h0m0.2-0.3h0m0.2-1.5h0m0.2-0.2h0m0.1-0.6h0m0.1 2.5h0m0.2-2.1h0m0.8 0.8h0m0-0.4h0m0.7-0.3h0m0.3-0.6h0m0.1 1.3h0m1.7 0.1h0m0.1 0h0m0.2 1.4h0m0.1-0.7h0m0.1-0.6h0m0.2 0.1h0m0.2-1.1h0m0.8 1.5h0m0.1-0.8h0m0.8-0.1h0m0 0.5h0m0.3-0.1h0m0.2-1.5h0m0.8 2h0m0.4-0.2h0m0.4 1h0m0-1.8h0m0.3 0.3h0m0.2 1.5h0m0.2-2.7h0m0.2 1.8h0m0 0.5h0m0.8-1.1h0m2.5 0.2h0m0.1-1.1h0m0.3 0.5h0m0.5-0.1h0m0.4 1.8h0m0.8-1.3h0m0.3 0.6h0m0.5-1.2h0m1.9 0h0m0.6-0.3h0m0.2 0.8h0m1.3-1h0m0.8 1.3h0m1.5-0.4h0m0 0.6h0m1.2-1.2h0m0.1-0.2h0m1 0.7h0m0.1 0.9h0m0.2-1.5h0m0 0.8h0m0.3 0.8h0m0.5 0.1h0m0.2-1.4h0m0.4 1.4h0m0.7-1.3h0m0.5 0.2h0m1.7-0.5h0m1.4 0.1h0m0 2.3h0m0.4-2.3h0m0.4 0.1h0m0-0.5h0m1.4 2.2h0m0.1-2.3h0m0.1 2.7h0m0-0.2h0m0.1 0.4h0m0.7-0.5h0m0.4-0.8h0m0.5-1.7h0m0.2 2.1h0m0.5 0.3h0m0.6 0.3h0m0.2-0.8h0m0.7-1.3h0m0.2 1h0m0.1 0.7h0m0.1-0.6h0m0.2 0.4h0m0.6-0.2h0m0.3-1.1h0m0.4-0.8h0m0.3 1.7h0m0.3 1h0m0 0h0m0.1-1.1h0m0.1-1.4h0m0 1.8h0m0.1-0.7h0m0 0.3h0m0.6 0.5h0m0.9-0.9h0m0.7 0.6h0m0.4-0.3h0m0.3 1.2h0m0.3-1.8h0m0 1.6h0m0.1-1.8h0m0.1 2.2h0m0.1-1.3h0m0.1 1h0m0-0.4h0m0.1-2.1h0m0.3 0.3h0m0.3-0.4h0m0 0.5h0m0.1 0.1h0m0.1-0.6h0m0.7 0.7h0m0.4 1.4h0m0.1-1.7h0m0 1.8h0m0.5-2.1h0m0.2 0.9h0m0.1 1.1h0m0.1-1.5h0m0.4-0.2h0m0-0.3h0m0 0.4h0m0.4 0.3h0m0.1 1h0m0.3 0.5h0m0.2 0.3h0m0.5-2.5h0m0.2 0.8h0m0.7 1.6h0m1 0.3h0m0.8 0h0m0.1-0.1h0m0 0.2h0m0.3-2.4h0m3 2.2h0m1.1-1.8h0m-75 2.9h0m0.9-0.5h0m0.9 1.7h0m2-1.9h0m0.5 0.6h0m0.4 1h0m0 1.3h0m1.2-2.5h0m0.1 2h0m0.1-1.7h0m0.4 0h0m0 2h0m1.2-2.8h0m0.2 0.5h0m0.6 0.3h0m0.1 1.9h0m0.4-2.3h0m0.2 0.9h0m0.2-1.1h0m0 0h0m0.4 0.1h0m0.1 0.5h0m0.4 0.6h0m0.5 0.8h0m0.1 0.7h0m0.1-1.9h0m1.4 0.8h0m0.1 1.1h0m0.1-1.9h0m0.5-0.9h0m0.3 1.7h0m0.1 1h0m0.3-0.3h0m0.3-2.4h0m0.3 1.5h0m0.1-1h0m0.1 0.3h0m0.2 0.4h0m0.9 1.6h0m1-2.3h0m0.1 1.6h0m0.4 0.4h0m0.2-0.9h0m0.4-1.2h0m0.5 0.6h0m0.3 0.1h0m1.5 0.4h0m0.1 1.3h0m0 0h0m0.2-2h0m1.1-0.7h0m2.7 1.4h0m0.2-0.7h0m0.2 1.9h0m1.6-0.5h0m0.2-0.6h0m0.1-0.7h0m0.6-0.3h0m0.8 1.4h0m0.1-1.4h0m0.2 0.1h0m0-0.7h0m0.4 0.1h0m1.1 0.9h0m0.7 0.8h0m0.4-1.9h0m0 1.7h0m0.2-1.3h0m0.1-0.3h0m0.5 0.4h0m0.1 1.2h0m0.5-0.5h0m1 0.1h0m1.4-0.1h0m1.1 1.8h0m0.3-1.6h0m1.8 0.3h0m0.8-1.7h0m2.9 0.4h0m1.4-0.4h0m0.6 1.8h0m1.5 0.4h0m1.9-1.9h0m1.3 0.8h0m0.5 1.3h0m0.3-2h0m1.1 0.2h0m0.7-0.2h0m0.3 0.4h0m0.1-0.7h0m2.2 2.7h0m0.5-2.2h0m0.7 2.3h0m0.9-1.2h0m0.1 0.9h0m0.6-1.4h0m0.2-1.2h0m0.7 1.8h0m0.3 0.3h0m0.1-0.8h0m0 1h0m0.3 0.1h0m0.2-1.4h0m0.1 0.2h0m0.3 0.7h0m0 0.5h0m0.1-0.9h0m0.3 0.5h0m0-1.2h0m0.4-0.2h0m1 0h0m0.2 0.6h0m0.2-0.9h0m0.4 1.5h0m0.3-1.7h0m0.1 2.9h0m0.2-1.3h0m0.2 0.3h0m0-0.7h0m0.3 1.4h0m1.3-1.6h0m0.3-0.7h0m0 1.2h0m0.4-1.5h0m0 2.5h0m0.5-0.3h0m0.6-1.4h0m1.1 0.4h0m0 0.5h0m0.5 0.3h0m0.1-0.3h0m3.2 0.5h0m1.3 0.2h0m2-1.1h0m-71.9 2.9h0m0.2 0.7h0m3.1-0.8h0m1.8-1.1h0m0.7 0.1h0m2.6 0.5h0m1.6 0h0m0.4-0.3h0m0.7 0.6h0m0.3 1.9h0m1-1.8h0m1.7 1.6h0m0.6-2.5h0m1.8 1.7h0m0-1.7h0m0.8 1.9h0m2.3-0.4h0m1.1-1.5h0m2.4 1h0m0.6 0.8h0m0.4 0h0m4.7-1.9h0m0.4 2.6h0m3.4 0.2h0m4.1-2h0m4.4 0.1h0m0.4-0.7h0m0.4 1.5h0m3.7-1.6h0m0.3 0h0m0.5 0.6h0m2.8-0.2h0m0.4-0.5h0m0.4 1.3h0m0.9 0.1h0m0.2 1.1h0m1.8-1.7h0m0.5 1.8h0m2.7-2.7h0m0.6 1.7h0m1.2-1.6h0m1.4 1.4h0m0-0.1h0m0-0.9h0m0.6 1.5h0m0.8-1.6h0m0.4 0.3h0m0.7-0.6h0m0.6 1h0m1.7-0.5h0m2.9 1.1h0m5.6-1h0m-61.6 3.2h0m5.2-0.7h0m2.1 1.1h0m2.9-1.3h0m9.7 0.5h0m1.2 1.3h0m4.8-0.3h0m3.7 1.4h0m11.9-2.6h0m3.7 0.7h0m-49.9 2.5h0m0.6 0.2h0m33.2-0.2h0m9.5 1.9h0" stroke="#3434dc" stroke-width="0.75" stroke-linecap="square" opacity="0.8"/>
<path d="M369.4 280.2h0m-11.8 3.2h0m2.9-1.5h0m6.2 0.8h0m2.5 0.1h0m2.5-0.5h0m1.5 1.2h0m5.3-0.7h0m2.6-0.8h0m-32.5 4.4h0m6.8-1.7h0m0 0.5h0m0.5 0.2h0m1.8-1.5h0m1.3 1.6h0m0.1-1.8h0m0.7 2.1h0m2.1-0.1h0m0.7 0h0m0.9-0.4h0m0.2 1.1h0m5.5-0.6h0m0.9-1.9h0m0.4 1.5h0m1.5 0.9h0m2.5 0.2h0m0.8-0.6h0m1.1 0.4h0m0.4-0.5h0m3.9 0.5h0m-34.4 2.8h0m0-0.7h0m3.3-0.2h0m0.5 0.6h0m0.3 0h0m2.4 0.1h0m0.4-0.4h0m2.9 0.4h0m0.7-1.3h0m1.5-0.9h0m0 0.9h0m1.9 0.7h0m0.2-1h0m0.8 1.9h0m0.8 0.2h0m1.5-1.7h0m0.3 1.5h0m0.1-1.1h0m2.3-1.5h0m1.3 0.1h0m0.1 0.1h0m0.8-0.2h0m0.4 1.2h0m0.1-0.2h0m0.1 0.5h0m0.3-1h0m0.6 2h0m2.8-1.8h0m0.3 1.1h0m0.3 0h0m1.4-1.9h0m1.6 0.7h0m2.3-0.3h0m0.4 1.1h0m1.9 0h0m-45 3.8h0m11.5-1.6h0m3.9-0.2h0m0.3 1.3h0m1-0.3h0m1 0.8h0m1.6-0.8h0m0.5 0.4h0m1.8-0.7h0m0.7 1.7h0m0.2-2.4h0m1 2h0m0.4-1.7h0m0.7 1h0m0.1 0.6h0m0.5-1.9h0m0.8 0.3h0m0.1 1.5h0m0.1 0.1h0m0.4 0.1h0m1-1.7h0m0 1.2h0m0.3-0.6h0m0.3-1.3h0m0 0.9h0m0.5 1.3h0m0-0.6h0m0.9-1.5h0m0.8 0.6h0m1.4 0.5h0m2.5-0.2h0m3.3-0.7h0m0.7-0.4h0m0.1 2.2h0m0.7-0.4h0m0.7-0.4h0m1-1.2h0m1.1 0.6h0m-46.3 3.6h0m3 0.2h0m13.2-0.8h0m1.3 0.1h0m0.7-0.2h0m2.3 2.1h0m2-1.2h0m8.2-1.5h0m0.2 2.2h0m2.2-0.2h0m2.5-1.1h0m2.3-0.1h0m6.6-0.6h0m1.4 2.6h0m-62.6 2.6h0m13.4 0.2h0m0.5-1.1h0m0.2 1h0m2.4-1.4h0m6.5 0.4h0m0.1-1.6h0m0.8 2.6h0m1.7-0.6h0m2 0.7h0m1.2 0.3h0m0.1-0.6h0m2 0.6h0m2.8-1.5h0m0.3-0.2h0m2-1.1h0m0.1 1.6h0m0.1 1.1h0m1.8-2.1h0m1.1 1.9h0m0.5-0.9h0m0.8-0.8h0m0.5 0.6h0m0.9-0.7h0m0.1 0.1h0m0.4-0.1h0m6.6-0.5h0m5.9-0.1h0m5.4 1.5h0m-64.8 3.8h0m2-0.4h0m6.1 0.5h0m0.7 0.3h0m0.4-0.2h0m0-1.2h0m4.1-0.1h0m0.8 0.7h0m2.1 0.3h0m0.8-0.5h0m1.4 0.2h0m1.4-1.3h0m0-0.1h0m0.1 2h0m1.5-1.4h0m0.7 1.3h0m0.6-0.3h0m0.5-1h0m0.1-0.3h0m0.5-0.1h0m0.4 1.2h0m0.6 0.7h0m1.8-0.3h0m0.3 0.3h0m0.7-0.6h0m0.4-1.9h0m0.5 1.2h0m0.1 0h0m1.7 1.2h0m0.4-2.5h0m0.4 0h0m0.4 0.5h0m1 0.5h0m1.1-0.9h0m0.4 2.4h0m0.6-0.2h0m0-0.7h0m0.4 0.9h0m0.1 0.1h0m2.1-1.3h0m0.2 0.8h0m0.6-0.4h0m0-0.7h0m0.1-0.4h0m0.2 1.7h0m1.8-2h0m0.1 0.8h0m0.5 0.1h0m0.7-0.7h0m0.3 1.2h0m0.1 0.1h0m1.1-1h0m0.1 1.1h0m1 0.1h0m1.1-1h0m0.7 1.7h0m2.2-1.7h0m0.8 1.4h0m0.4-0.3h0m3.7-1.9h0m1.8 0.4h0m1.4 1.1h0m0.6 0.9h0m0.8-0.3h0m0.5-0.3h0m0.2 0.2h0m1.5-0.5h0m0.6-0.9h0m0.1 1.5h0m1.9-0.4h0m1.4 0.3h0m3.7-1.3h0m0.5 1.6h0m2.4-1.2h0m-74.7 2h0m5.4 1.5h0m8.2-0.1h0m0.3-0.1h0m2.1 0.3h0m0.6-0.3h0m0-1.3h0m0.4 2h0m2-0.3h0m0.6-0.4h0m0.4-0.8h0m0.8 0.2h0m0.4-0.6h0m0.1 0.4h0m0.2 1.5h0m0.3-0.6h0m0.3-2h0m0.2 1.6h0m1-1.5h0m0 1.9h0m0.1 0.9h0m0.5-0.1h0m0-0.2h0m0.2-0.5h0m0.3-1.3h0m0.6-0.6h0m0.9 2.1h0m0-1.5h0m1 2h0m0.2-0.2h0m0.9-2.4h0m0.1 0.9h0m0 1.1h0m0.2 0.6h0m0.2 0h0m0.8-2.5h0m1.1 0.3h0m0.7 2h0m0.5-1.8h0m0 1.6h0m0.3-0.1h0m0.1-0.6h0m0.6-0.7h0m0.4-0.7h0m0.1 1.1h0m0.7 0.1h0m1.1-0.5h0m0.1 0.9h0m0.2-1.7h0m0.3 1.4h0m0.2-0.4h0m0.1 1.6h0m0.2 0.1h0m0-1.2h0m0-0.4h0m0.2 0.9h0m0.2-0.9h0m0.1 0h0m0.3 1.4h0m0.3-1.4h0m0.3-0.4h0m0.1 1.5h0m0.1-1.7h0m0.1 0.7h0m0.4-0.4h0m1.1-1h0m0.4 0.9h0m1.9-0.4h0m0.1 0.6h0m0.6 1.3h0m0.2-0.8h0m3.2 1.1h0m0.9 0.1h0m0.6-1.3h0m1.8 1h0m0.1-1.6h0m0.3 1.8h0m0.5 0h0m0.6-0.7h0m0 0h0m0.9-1.1h0m0.6 1h0m1.4 0.2h0m2.7-0.5h0m0.6 1h0m0.7-2h0m0.1 0.5h0m0.1 1.3h0m2.9-2h0m0.6 1h0m0.9 0.8h0m1 0.2h0m0.4-0.7h0m2.4 1.2h0m0.2-0.4h0m0-0.4h0m0.1-0.4h0m1.9-1h0m0.2 1.9h0m0-0.3h0m0.4-0.3h0m0.2-0.1h0m0.4-0.7h0m0.1-0.9h0m0.7 2.4h0m0.5-0.7h0m0.1-1.9h0m1.5 2.8h0m0.3-0.8h0m0 0.5h0m2.1-0.1h0m-74.8 2.6h0m1.7 0.4h0m0.1-0.3h0m2.9-0.4h0m0.3 0h0m2.5-1h0m0.1 0.9h0m0.9-1.6h0m0.9 1.4h0m0.6-1.4h0m0.5 0.1h0m0.6 0.1h0m0 2.2h0m1-0.1h0m0.2-1.6h0m0.2 0.7h0m0.1 1.2h0m0.8-1.1h0m1.2-0.5h0m0.7 1.2h0m0.3 0.2h0m0.1-0.7h0m0-0.9h0m0.9 1.9h0m0.5-0.4h0m0.6-0.3h0m0.4-1.7h0m0 0.6h0m0.5 1.9h0m0.1-0.6h0m0.1-1.4h0m1.5 0h0m0.3 0.4h0m0-0.4h0m0.6-0.1h0m0.6-0.7h0m0.3 2.9h0m0.1-1h0m0.5-0.1h0m1.3 0.2h0m0.4-1.6h0m0 1.2h0m1.5 0.4h0m0-1.7h0m0.1 2.4h0m0.3-1.2h0m0.1-0.5h0m1.4 1.4h0m0.1-0.7h0m1.3 1.2h0m0.1-2.3h0m0.3 1h0m0.4 0.7h0m0.2-0.5h0m0.2 0.2h0m0.9-1.9h0m0.6 2h0m0.1 0.2h0m0.1-2h0m0 1h0m0.1 0.2h0m0.5-0.4h0m0.1 1.1h0m0.2 0.2h0m0-0.2h0m0.2 0.4h0m0.1-2.6h0m0 1h0m1-0.8h0m0 2.2h0m0.1 0.2h0m0.2-0.1h0m0 0.1h0m0.2 0h0m0.1-0.6h0m1-1.6h0m1.5 1.8h0m0.1-1.2h0m0 1.7h0m0.3 0h0m0-1h0m0.6-0.4h0m0.8-1h0m0.4-0.3h0m1.6 1.9h0m0.2 0.1h0m0.1 0.6h0m0.3-2.7h0m0.7 2.9h0m0-1.4h0m0.9-1.4h0m0.3 1.6h0m1.5 0.1h0m0.1-1.6h0m0 1.9h0m0.8-0.4h0m0.4 0.4h0m0.5-1.9h0m0 0.7h0m0.3-0.3h0m0.4-0.6h0m0.6 0.5h0m1.3 1.9h0m0.4 0.1h0m0.6-0.8h0m0.6-0.1h0m0.1-1.2h0m0.5-0.3h0m0 1.9h0m0.4-1.3h0m1.2 2h0m0.1-2.1h0m0.1-0.3h0m0.5 1h0m0.7-0.7h0m0.5 0.2h0m0.1 0.1h0m0.2-0.3h0m0.4-0.1h0m0.1 1.9h0m0.3-1.5h0m0.1 0.3h0m0.5-1.1h0m0.4 2.7h0m0-0.9h0m0.1 1h0m0.8-0.7h0m0.2-0.9h0m0.1 0.7h0m0 0.9h0m0.2-0.5h0m0.1-0.2h0m0.2-0.3h0m0.2-0.6h0m0 0.9h0m0.4-1.1h0m0.1-0.9h0m0.2 2.1h0m0.2-0.2h0m0.8 0.1h0m0.7-0.2h0m0.2-0.9h0m0.5-1h0m0.1 1.7h0m0.2-0.7h0m0 0.7h0m0.1-1.4h0m0.4-0.1h0m0 2.7h0m0-0.2h0m0.2-1.2h0m0.2 1.4h0m0.6-2.6h0m0.4-0.1h0m0-0.1h0m0 2.6h0m0.5-0.6h0m0.4-0.6h0m0.2-0.7h0m0.2-0.4h0m0.4 2.4h0m0.6-1h0m0.2-1.3h0m0.7 0.8h0m0.4 0.3h0m0.4-1.3h0m0.2 1.2h0m1.4 0.8h0m0.2-1.6h0m0.4-0.7h0m0.6 0.8h0m0.1-0.1h0m-69.1 5h0m4-2.6h0m0.4 0h0m0.9 2.1h0m0.5-0.9h0m0.8 1.2h0m1.6-2.1h0m0.1 1h0m0.7-0.8h0m0.2-0.3h0m0 1.1h0m0.6 1h0m0.1-0.2h0m0 0.1h0m1.1-2.1h0m0 1.7h0m0-1.7h0m0.3 2.3h0m0.5-1.7h0m0.1-0.3h0m0.8 0.8h0m0.3 0.4h0m0.5-1.7h0m0.1 0.1h0m0.4 0.5h0m0.5 0.9h0m0.2 1.4h0m0.3-0.9h0m0.3-1h0m0.2-0.9h0m0.1 1.5h0m0-0.7h0m0.2-0.3h0m0.2-0.6h0m0.2 1.6h0m1.5-1.6h0m0.4 2.2h0m0.2-0.8h0m0-0.9h0m0.1-0.4h0m0.1 0.3h0m0.1 2.1h0m0.6 0.3h0m0.2 0h0m0.4-0.8h0m0 0.1h0m0.2-1.3h0m1.4 0.1h0m0.4 1.5h0m0.5-0.1h0m0.6-1.7h0m0-0.1h0m1.2-0.3h0m0.9 1.9h0m0.2-0.1h0m0-1.2h0m0.2 1.1h0m0-1.8h0m0.2 1.8h0m0.1 0.8h0m0.1-2.2h0m0.7 0.6h0m0.5 0.8h0m0.6-0.4h0m0.4-1.4h0m0 0.4h0m0.3-0.5h0m0.2 1.6h0m0.6-0.8h0m0 1.6h0m0.1-1.9h0m0.1-0.3h0m0.2 1.4h0m0.7-0.8h0m0.6 0.5h0m1.7-0.8h0m0.7 1h0m1-0.9h0m0.4 0.6h0m0.4 1.2h0m0.3-2.1h0m2.6 1.4h0m0.5-1h0m0.1 1.9h0m1.4-1.7h0m0.1 1.5h0m1.2-2.4h0m1.2 1h0m0.7 0.9h0m3.1 0.5h0m0.1-0.6h0m0.5-0.9h0m1.5 0h0m0.6 0.3h0m0.5-1h0m0.1-0.2h0m0.1 0.5h0m1.1 2.2h0m0.5-1.3h0m0.9 0.2h0m0.1-1.1h0m0.9 1.3h0m0.1 0.7h0m0.4-1.7h0m0.6 1h0m0.3-0.3h0m0.1 0.5h0m0-0.3h0m0.7 1h0m0.2-0.2h0m0.2-1h0m0.1 0.1h0m0.3-0.5h0m0.5-0.5h0m0-0.5h0m0.4 2h0m0.3 0.6h0m0.1-0.3h0m0.4-0.5h0m0.6-1.5h0m0.7 1h0m0-1.3h0m0.1 0.5h0m0 1h0m0.1 0.3h0m0.3 0.5h0m0.3-1h0m0.2 1.1h0m0 0h0m0 0h0m0.1-1h0m0-0.5h0m0.2 0h0m0 0.2h0m0.3-1.2h0m0.4 0.4h0m0.3-0.3h0m0.3 2.6h0m0.1 0.1h0m0.1-0.4h0m0.5 0.3h0m0.1-1.3h0m0.2-0.4h0m0.2 0.4h0m0.2 0.7h0m0.2-1.1h0m0.7 0.6h0m0.3-0.2h0m1 0.2h0m0.8 1.2h0m0.2-2.2h0m0.7 1.6h0m0-2h0m0 0.5h0m0.1-0.6h0m0.4 0.4h0m0.1 1.5h0m1.7-0.6h0m2.2-1.2h0m0.9 0.9h0m0.2 0.2h0m-75.9 3.3h0m1.5 0.3h0m1.8 0.1h0m1.9-0.9h0m0.7-0.7h0m0.2 2h0m0.8-1.5h0m0.2 1.2h0m0 0.3h0m0.7-1.1h0m0.8-0.8h0m0.1 0.8h0m1.7-0.2h0m0.2-0.3h0m1.9-0.1h0m0.8-0.6h0m0.8 2.8h0m0.3-1h0m0.2-1.6h0m0.4 0.6h0m0.3 1.2h0m0.5-1.3h0m0.4-0.6h0m0 1.7h0m0.5-0.2h0m0.2-0.6h0m0.2-0.7h0m0.8 0.4h0m0.2 0.6h0m0.2 1.1h0m0.1-0.9h0m0.1-1.2h0m0.6 2h0m0.5 0.1h0m0.4-1.4h0m0.2-0.4h0m1 0.7h0m1.5 0.8h0m0-1.2h0m2.5-0.9h0m0.3 2.3h0m0.3 0.4h0m0.8-1.5h0m0.2-0.8h0m0.7 0.1h0m0.1 0.6h0m5.3-0.3h0m3.1 0.2h0m0.1 1.6h0m0.4-1.6h0m0.6 1.7h0m0.2-2.8h0m0.9 0.8h0m0.2 1.6h0m0.1-2.4h0m1.1 0.3h0m2.3 0.1h0m0.8 0.2h0m0.2 1.2h0m0.1-0.2h0m0.5-0.1h0m1.2-0.1h0m0.3-0.2h0m1.9 1.5h0m5.1-1.3h0m0.4 0.6h0m0.2-0.8h0m0.5-0.8h0m0.1-0.2h0m0.5 0.2h0m0 1.1h0m0.3 1h0m0.1-2h0m0.1-0.5h0m0 2.3h0m0.4-2h0m0.6 0h0m0.5 2.2h0m0.9-0.9h0m0.2 1.2h0m0.3-0.8h0m0.4 0.6h0m0-2.7h0m0.1 2.6h0m1.4-1.4h0m0-0.2h0m0.2-0.6h0m0.1 1.8h0m0.3-1.2h0m0.5 0.1h0m0 0.7h0m0-0.2h0m0.1 1.3h0m0.1-0.9h0m1-1.6h0m0-0.1h0m0.1 1.4h0m0.1 0.2h0m0.4-1.2h0m0.6 2.2h0m0.3-1.6h0m0.1 0h0m0 1.5h0m0.6 0.1h0m0.3-2.5h0m0 1.1h0m0.2-0.4h0m0.2 1.7h0m0.5-1.4h0m0.4-0.9h0m0.2 0.4h0m0.1-0.5h0m0.1 0.2h0m0.2-0.3h0m0.2 1.2h0m2 0.5h0m2 0.3h0m0-2.3h0m0.5 0.2h0m0.2 2.7h0m0-2h0m1.8-0.5h0m1.2-0.4h0m-72 5.9h0m0.9-2.8h0m0.2 0.3h0m0.9 0.9h0m1.7-0.4h0m0.7-0.7h0m0.4 1h0m2.2 1.3h0m2.5-0.9h0m0-0.4h0m0.5-0.1h0m1.5-0.2h0m1.7-0.3h0m3.3 1.4h0m0.8-0.8h0m1.5 0.5h0m0.9 1h0m0.4-2h0m0.8 1.7h0m0.3-1.5h0m1.8 1.3h0m1-1.4h0m0.2 0.8h0m1.9-0.5h0m0.4 1.4h0m0.1-1.6h0m1.9 0.3h0m1.4-0.3h0m0.2-0.8h0m1.1 0.4h0m0.3 0.6h0m4.3-1.1h0m2.5 1.3h0m1.1-1.2h0m1.4 2.2h0m4.4-1.9h0m0.8 0.3h0m4-0.4h0m1.3 0.3h0m0.1 1.6h0m0.3-1.8h0m1.1 0.5h0m0.5 1.4h0m1-1.4h0m1 1.7h0m0.4-1.9h0m0.2 1.8h0m4-0.6h0m0.5 0.7h0m1-2.6h0m0.3 2.9h0m1.5-2.8h0m3.1 1.6h0m0.3-1.3h0m1 0.8h0m0-1h0m1.2 0h0m2.7 0.7h0m2.8 0.3h0m-75.9 2.6h0m2.4-0.3h0m5.5 0h0m0.7 0.5h0m1.9-0.7h0m0.9 0.9h0m2.5 0.1h0m0.6-0.7h0m22.4-0.1h0m15.6 1.3h0m2.5 0.1h0m2.7-1.4h0m3.1 1.3h0m1.9-1h0m6.2 0.2h0m-54.3 3h0m0.3 1.9h0m20.7-2.8h0m8.7 1.3h0m9.7 0.2h0m0.3-1h0m1 1h0m-27 5.9h0" stroke="#7070f0" stroke-width="0.75" stroke-linecap="square" opacity="0.65"/>
<g filter="url(#fblur)">
<ellipse cx="335" cy="306.5" rx="21.00" ry="6.20" transform="rotate(-10 335 306.5)" fill="#2a30dc" opacity="0.95"/>
<ellipse cx="335" cy="306.5" rx="16.80" ry="4.71" transform="rotate(-10 335 306.5)" fill="#1aa0e8" opacity="1"/>
<ellipse cx="335" cy="306.5" rx="14.70" ry="3.97" transform="rotate(-10 335 306.5)" fill="#25d85a" opacity="1"/>
<ellipse cx="335" cy="306.5" rx="9.24" ry="2.60" transform="rotate(-10 335 306.5)" fill="#9af08a" opacity="1"/>
<ellipse cx="335" cy="306.5" rx="6.30" ry="1.98" transform="rotate(-10 335 306.5)" fill="#f4a0a0" opacity="1"/>
<ellipse cx="335" cy="306.5" rx="3.99" ry="1.36" transform="rotate(-10 335 306.5)" fill="#e4283c" opacity="1"/>
<ellipse cx="367" cy="309" rx="8.00" ry="3.60" transform="rotate(-12 367 309)" fill="#3a3ce0" opacity="0.45"/>
</g></g>
<rect x="304.3" y="260.0" width="77.39999999999998" height="72.5" fill="none" stroke="#8a8a9a" stroke-width="0.7"/>
<line x1="355.3" y1="260.0" x2="355.3" y2="332.5" stroke="#45454f" stroke-width="1.0"/>
<line x1="304.3" y1="295.4" x2="381.7" y2="295.4" stroke="#45454f" stroke-width="1.0"/>
<path d="M395.9 263.1h2.6M397.2 267.0h1.3M397.2 270.9h1.3M397.2 274.9h1.3M395.9 278.8h2.6M397.2 282.8h1.3M397.2 286.7h1.3M397.2 290.6h1.3M395.9 294.6h2.6M397.2 298.5h1.3M397.2 302.4h1.3M397.2 306.4h1.3M395.9 310.3h2.6M395.9 319.6h2.6M395.9 328.2h2.6M410.7 331.8v2.4M415.4 331.8v1.2M420.1 331.8v1.2M424.8 331.8v1.2M434.2 331.8v2.4M438.9 331.8v1.2M443.6 331.8v1.2M448.3 331.8v1.2M453.7 331.8v2.4M458.4 331.8v1.2M463.1 331.8v1.2M467.8 331.8v1.2M471.7 331.8v2.4" stroke="#555" stroke-width="0.45" fill="none"/>
<text transform="translate(395.3,264.3) rotate(-60)" font-size="3.2" text-anchor="middle" font-family="Liberation Sans, sans-serif" fill="#666">10⁵</text>
<text transform="translate(395.3,280.0) rotate(-60)" font-size="3.2" text-anchor="middle" font-family="Liberation Sans, sans-serif" fill="#666">10⁴</text>
<text transform="translate(395.3,295.8) rotate(-60)" font-size="3.2" text-anchor="middle" font-family="Liberation Sans, sans-serif" fill="#666">10³</text>
<text transform="translate(395.3,311.5) rotate(-60)" font-size="3.2" text-anchor="middle" font-family="Liberation Sans, sans-serif" fill="#666">10²</text>
<text transform="translate(395.3,320.8) rotate(-60)" font-size="3.2" text-anchor="middle" font-family="Liberation Sans, sans-serif" fill="#666">0</text>
<text transform="translate(395.3,329.4) rotate(-60)" font-size="3.2" text-anchor="middle" font-family="Liberation Sans, sans-serif" fill="#666">-10²</text>
<text x="410.7" y="338.1" font-size="3.2" text-anchor="middle" font-family="Liberation Sans, sans-serif" fill="#666">0</text>
<text x="434.2" y="338.1" font-size="3.2" text-anchor="middle" font-family="Liberation Sans, sans-serif" fill="#666">10²</text>
<text x="453.7" y="338.1" font-size="3.2" text-anchor="middle" font-family="Liberation Sans, sans-serif" fill="#666">10³</text>
<text x="471.7" y="338.1" font-size="3.2" text-anchor="middle" font-family="Liberation Sans, sans-serif" fill="#666">10⁴</text>
<rect x="396.6" y="320.3" width="1.6" height="2.6" fill="#222"/>
<rect x="404.0" y="332.40000000000003" width="2.6" height="1.5" fill="#222"/>
<text x="400.1" y="264.7" font-size="3.6" text-anchor="start" font-family="Liberation Sans, sans-serif" fill="#444">Q1</text>
<text x="400.1" y="269.7" font-size="3.6" text-anchor="start" font-family="Liberation Sans, sans-serif" fill="#444">1.24</text>
<text x="475.4" y="264.7" font-size="3.6" text-anchor="end" font-family="Liberation Sans, sans-serif" fill="#444">Q2</text>
<text x="475.4" y="269.7" font-size="3.6" text-anchor="end" font-family="Liberation Sans, sans-serif" fill="#444">1.72</text>
<text x="400.1" y="324.3" font-size="3.6" text-anchor="start" font-family="Liberation Sans, sans-serif" fill="#444">Q4</text>
<text x="400.1" y="329.3" font-size="3.6" text-anchor="start" font-family="Liberation Sans, sans-serif" fill="#444">78.3</text>
<text x="475.4" y="324.3" font-size="3.6" text-anchor="end" font-family="Liberation Sans, sans-serif" fill="#44a">Q3</text>
<text x="475.4" y="329.3" font-size="3.6" text-anchor="end" font-family="Liberation Sans, sans-serif" fill="#44a">18.8</text>
<clipPath id="cP1"><rect x="398.5" y="260.2" width="78.5" height="71.60000000000002"/></clipPath>
<g clip-path="url(#cP1)">
<path d="M471.9 270.3h0m-9.6 3h0m2.6 1.1h0m-26.4 0.3h0m6.4 2.5h0m17.8-2.2h0m3-0.3h0m11.3 1h0m-41.5 3h0m7.3 1.5h0m2-1.3h0m8.1 0.8h0m5.1-1h0m2.5-0.5h0m11.4 1.2h0m4.4 0.7h0m-34.7 0.4h0m2.8 2.2h0m4-0.4h0m2.1-1.4h0m1.3 2.3h0m0.4-0.5h0m0.9 0.8h0m1.6-1.7h0m7.1 0.9h0m0.5-0.6h0m1.6 0.6h0m2.6 0h0m-23.7 1.9h0m2.6-0.4h0m0 1.8h0m0.8 0.5h0m0-0.1h0m0.7-2.4h0m1.8 0h0m3.6 0.1h0m0.1 0.1h0m2.5 0h0m0.5-0.3h0m1.6 0.8h0m0.3 1.8h0m0.1-0.2h0m0.3 0.1h0m0.6-0.2h0m0.3-2.4h0m0 1.7h0m2.9-0.9h0m1.2 1.8h0m2.3-0.3h0m0.3 0h0m0.2-0.5h0m0.4 0.4h0m0.1-0.5h0m1.2-1.4h0m0.1 1h0m0.1 0.5h0m0-2.1h0m0.9 1.4h0m0.4 0.5h0m1.4 0.7h0m0.1-0.3h0m1-1.1h0m2.5 0.6h0m0.3 0.6h0m-36.1 0.7h0m2.3 0.2h0m4.4 2.3h0m1.2-2.4h0m0.7 2.6h0m0.6-2.7h0m0.2 2.1h0m0.8-0.5h0m0 1.3h0m1.2-0.2h0m0.8-0.4h0m2.4 0h0m0.2-0.9h0m0 0.1h0m0.5-1.4h0m0.4 2.1h0m1.5-0.8h0m0 0.2h0m0.6-1h0m0.5 2.3h0m0-1.1h0m0.1 0.4h0m0.2 0.4h0m0 0.2h0m0.1-2.7h0m0.6 0.6h0m0.5-0.3h0m0.3 1.5h0m1.3-1h0m0.2-1h0m1.3 0.7h0m0.8 1.9h0m1.3-0.6h0m0.2 0.4h0m0.4 0.1h0m0.4-1h0m0.1 0.2h0m0.3-1.3h0m0.2 2.5h0m0-0.7h0m0-1.2h0m0.3 0.2h0m1.3 1.6h0m0-2.7h0m0.8 0.8h0m0.1 0.5h0m0.5-1.1h0m0 1h0m0.1 0.5h0m0.4-0.3h0m0.8 1h0m0 0.3h0m0.2-0.9h0m0.7-0.1h0m0-0.4h0m0.3-0.7h0m0.1 1.7h0m1-0.8h0m0.8-1h0m0.3 1.9h0m0.7-1.2h0m0.2-0.7h0m0.6 0.9h0m0.3-0.9h0m0.1 2.1h0m0.1 0h0m0.6 0.2h0m1.1-1.7h0m0.1-0.2h0m-41.6 3.8h0m0.8-0.4h0m2.3 1.6h0m0.3-2.9h0m1.1 1.4h0m0.4-0.1h0m0.2 1.4h0m0.8-1.5h0m0.1 0.9h0m0.2-0.1h0m0.1-0.1h0m1.5-1.3h0m2.2-0.5h0m1.5 1.4h0m1.7-0.1h0m0.3 1h0m1.4-1h0m0.3 1h0m0.5-1.6h0m0.8-0.4h0m0.7 0.1h0m0.6 0.9h0m0.2 0.4h0m0.8-0.5h0m0-0.8h0m0.3-0.1h0m0.4 1.8h0m0.2 0.6h0m0.5-2.5h0m0.2 0.7h0m0.1-0.3h0m0.5-0.4h0m0.3 0.4h0m0.3-0.4h0m0.2 0.5h0m0.1 1.9h0m0-1.6h0m0.3 0.7h0m0.5-0.6h0m0.4 0.1h0m0.2 1.6h0m0.5-2.6h0m0.1 1.6h0m0.7-1.8h0m0.5 0h0m0 1.1h0m0.1 0.4h0m0.3-1.5h0m0.2 0.6h0m0.7 0.3h0m0.5 0.2h0m0.2-1.2h0m1.1 1h0m0.2-0.7h0m0.1 1.4h0m0.2-1.3h0m0.3 1h0m0.7-1.1h0m0.4 0.7h0m0.1 0.3h0m0.1 0.5h0m0.9-1.8h0m0.6 1.5h0m0-0.8h0m0.3 1.2h0m0.5-0.4h0m0.1-0.8h0m0.4-0.2h0m0.8 1.3h0m1.4 0h0m2.5-1.1h0m1 1.4h0m1.5-1.8h0m1 0.7h0m0.2-1h0m-35.5 3.6h0m3.9 0.5h0m0.5-1h0m3.9 0.6h0m2.9 1.4h0m2-1.3h0m1.3 1h0m0.1-1.8h0m1.6 2.2h0m0 0.3h0m0.3 0.2h0m2-1.9h0m1.4-0.2h0m1.1 1.3h0m0.1-0.2h0m1.7-1.1h0m0.1-0.3h0m0.5 0.5h0m0.5 1.4h0m0 0.4h0m3.2-0.7h0m2.6-1.5h0m2-0.2h0m4.3 0.1h0m0.5 1.3h0m-60.2 3.1h0m17.2 1h0m7.4-0.8h0m1.1 0.1h0m0.8 0.3h0m2.1-2.2h0m6.4 1.3h0m0.4 0.2h0m4.5 1.3h0m0.3-2.2h0m17.3-0.5h0m-46.8 4.6h0m3.4-1.9h0m1.7 1h0m1.1 0.3h0m4.6 1.5h0m4.3-1h0m4.1-1.1h0m0 1.8h0m10.4 0.1h0m3.6-0.3h0m1.6-1.5h0m1.2 0.9h0m0.2 0.5h0m0.4-0.4h0m0-0.7h0m1.2 1h0m3-0.2h0m1.7 1.1h0m-62 1.4h0m2.9-0.1h0m2.5 1h0m0.4-1h0m0.2-0.2h0m0.9 1.9h0m6.7-1.6h0m0.9-0.2h0m0.2 1.1h0m4.6-0.4h0m0.5-0.9h0m0.6 0h0m1 2h0m0.4-3h0m0.6 0.5h0m3.4 1.9h0m0.1-1.2h0m0.3 1.6h0m0.5-0.6h0m3.6-0.4h0m1.1 0.4h0m1.1-1.2h0m1.3 1.4h0m0.9-1.2h0m0.2 0.2h0m0.2-0.3h0m0.2 1.1h0m0-0.7h0m0.3-1.2h0m0.7 1.7h0m0.8 0.5h0m0.4-0.8h0m0.1 1.1h0m0.8-1.2h0m2.3 0.6h0m0.6 0h0m2.6-1.8h0m0.7 2.1h0m0.8 0.4h0m3.3-2.6h0m0.9 0.9h0m0.1 1.2h0m0.4-1.9h0m0.3-0.3h0m0.6 1.2h0m0.4 1.2h0m2.1-2.2h0m0.4 1.9h0m1.5-0.7h0m0.5 0h0m1.7 1.1h0m1 0.3h0m0.6-0.6h0m0.9-0.3h0m0.7-0.2h0m0.4 0.6h0m2.1-0.5h0m0.3 0.1h0m0.1-0.9h0m1.3 1.6h0m0.1-0.8h0m2.7 0.5h0m-71.8 3.4h0m4.5-2.3h0m0.2 1h0m0.3-0.1h0m2.9 0.3h0m1.1-1.1h0m0.6 1.6h0m0.4-1.2h0m1-0.5h0m1.7 1h0m0.6 0.7h0m0.1 0.3h0m0.4-1.9h0m0.6 1.9h0m0.5-0.2h0m0.3 0.5h0m1.1-1.6h0m1.1-0.3h0m0-0.1h0m0.2 0h0m0.6-0.5h0m1.2 0.4h0m0.1 1.3h0m0.5 0h0m0.8-0.8h0m0.4 1.6h0m0.2 0h0m0.5-1.5h0m0.4-1.1h0m0.4 0.9h0m0.2 1.2h0m0.1-1.7h0m0.1 0h0m0.5 0.5h0m0.5 1.6h0m1-0.9h0m1.3-1h0m0.3 0.4h0m0.4 0.8h0m2 0.4h0m0.4-2.3h0m0.5 0.7h0m0.1 1.8h0m0.2 0.2h0m0.9-0.2h0m0-1h0m0 0.8h0m0.3-0.5h0m0.6-0.5h0m0.2 1.2h0m0.3-1.9h0m0.8-0.7h0m0.2 2.7h0m0.2-1.4h0m0.5 1h0m0.7-0.4h0m0.6 0h0m0.2 0.6h0m0.2 0h0m1.1-0.1h0m2.5-0.6h0m0.3 0h0m0-1h0m1-0.1h0m0.4 1.7h0m0.4-2.5h0m0.2 0.6h0m0.5 1h0m0.1-0.3h0m0.2-1h0m0.4-0.3h0m0.1 1.1h0m1 0.4h0m0.8-0.5h0m0.6 0.5h0m0.3-1.1h0m1.2 1.5h0m1.6-1.1h0m0.6 0.1h0m0.5 2h0m0.6-1h0m0.9-1.4h0m0.2 1.6h0m0.5-0.8h0m0.1 0.9h0m0.1 0.2h0m0.3 0.3h0m0.1-1.6h0m0.2-0.1h0m0.4 1.4h0m0.3-0.8h0m0.8-1.5h0m0.1 2.1h0m1.2 0.7h0m1.9 0h0m0.4-0.7h0m0.5-1.2h0m0.1 1.8h0m0.7-0.7h0m0.1 0.4h0m0 0.1h0m0.6-1h0m0.8-0.2h0m0.1-0.2h0m0 1h0m0.8-0.4h0m0.2 0.8h0m0.1-0.8h0m0.1 0.4h0m0.2 0.2h0m2.1 0.1h0m0.2-1.7h0m0.8-0.8h0m2.1 2.1h0m0.3-1.7h0m0.5 1h0m3.7 0.5h0m-73.2 3.1h0m3.6-0.2h0m0.3-1.8h0m0.3 2.7h0m1-1.4h0m3.5-0.5h0m0 1.3h0m0.7-0.7h0m0.2 0.4h0m0.5-1.2h0m1.2 1.1h0m1 0.2h0m0 0.2h0m0.1 0.7h0m0.4 0.2h0m0.1-0.2h0m0.7 0.1h0m0.6-0.9h0m0.5-0.3h0m0.7-1h0m0.3-0.3h0m0.1 2.5h0m1 0h0m0.7-1.1h0m0.4-1.1h0m0.3 0h0m1.4 2.1h0m1-1.8h0m0.1 0.5h0m0.2-1.2h0m0.5 0.2h0m0.9 0h0m0.4 0.2h0m0.5-0.1h0m0.1 0.1h0m0.1 0.8h0m0.2-1.2h0m0.2 2.4h0m0.2-0.8h0m1.1-1.3h0m0.1 1.6h0m0.3 0.6h0m0.2-0.8h0m0-1.3h0m0.1-0.5h0m0.4 0h0m0.9 2.6h0m1.1-0.8h0m0.2-1.6h0m1.9 1.5h0m0.3 1h0m0.8-0.9h0m0.5-2h0m0.3 2.9h0m0.3-1.5h0m0.1 0.8h0m0.3-0.3h0m0.1 0.2h0m0.3-0.2h0m0.3-1.2h0m0.1 0.9h0m1.5-0.4h0m0.2-1.1h0m0.4 2.1h0m0.4 0.1h0m0.9-1.2h0m0.4 1.6h0m0-2.1h0m0.4 0.3h0m0.1 2.1h0m0-2h0m0.9-0.3h0m0.2 0.8h0m0.2 0.8h0m0.6-0.7h0m0.6 1.2h0m0.6-2h0m0.7-0.6h0m1.3 0.9h0m0.1-0.5h0m0.3-0.2h0m0.1 0.3h0m0.2 0.2h0m0.1 1.5h0m0.6-2.4h0m0.1 1.1h0m0.3-0.6h0m0.2 1.8h0m0.1-1.6h0m0 0.2h0m0.1-0.3h0m1.1 1.4h0m0 0.7h0m0.2-2.2h0m0.6 1.1h0m1.3-0.6h0m0 1.6h0m0.3 0.3h0m0-0.9h0m0.1 0.9h0m1-1.3h0m0.4-1h0m0-0.3h0m0.2 1.5h0m0.1-1.5h0m0.1 1.1h0m0.4 0.4h0m0.2-0.3h0m0.2 1.1h0m0.9 0.3h0m0.2-0.6h0m0-1.2h0m0.2-0.2h0m0.2 1.5h0m1.4 0h0m0.2 0.2h0m0.4-0.3h0m1.4-0.4h0m0.8-0.6h0m0.2 1.4h0m0.2-0.7h0m0.1-0.6h0m0.3-0.1h0m0.1 1.1h0m0.4-0.4h0m0.1 0.9h0m0.1-1.4h0m0.2-0.3h0m0.5 1.8h0m0.2-0.8h0m0.1-0.1h0m0.1-1.4h0m0.2 2.1h0m0.3-1.5h0m0.9 1.1h0m0-1.6h0m0 1.6h0m0.1-0.6h0m0.2-0.6h0m0.2 0.6h0m0.5 0h0m0.1 0.4h0m0.5-0.8h0m0-0.8h0m0.8 0.1h0m0.4-0.4h0m0.3 1.4h0m0.9-0.6h0m0.1-0.4h0m0 1.7h0m0.2-0.2h0m0.3 0.8h0m0.1-1h0m1.1-0.4h0m0 1.1h0m0.1-2.2h0m0.3 1.5h0m0 0.5h0m0.2-2h0m0.8-0.4h0m3.3 1.5h0m1.7-0.3h0m-76.4 3.8h0m1.7 0.1h0m0.8-2.2h0m1.6 1.4h0m0.4-1.1h0m0.4 2.2h0m0.3-2.2h0m1.7 1.2h0m0.3-0.1h0m1.8-0.2h0m0 1h0m0.6 0.5h0m0.9 0.3h0m0-1.1h0m0.8-0.7h0m0.5 0.5h0m0.2-0.1h0m0.3-0.3h0m0.4 0.4h0m0.3 1.1h0m0.5-1h0m0.3 0.2h0m0.2-1h0m1.4 0.6h0m0 0.8h0m0-2.4h0m0.7 0.3h0m0.6 1.5h0m0.1 0.5h0m0.1-0.7h0m1.4 1.1h0m0.7-1.8h0m0-0.3h0m0.2-0.4h0m0.7 1.4h0m0.3-0.3h0m0.3-0.6h0m0.6 1.6h0m0.8-0.7h0m2-1.5h0m0 2.9h0m0.7-1h0m0 0h0m0.3 0.5h0m0.1-0.4h0m0.5-0.1h0m0.1-0.2h0m0-1h0m0.4 1.1h0m0.3-0.5h0m0.1 0.9h0m0.5-1.3h0m0.1 0h0m0.1-0.6h0m0 2.6h0m0.1-1.7h0m0 0.2h0m0.5 0.2h0m0.3 0.5h0m0.2-1.7h0m0.4 0.9h0m0.1-0.7h0m0.2-0.7h0m0.4 1.3h0m0.1-0.6h0m0 1.8h0m0.2 0.2h0m0.1-1.1h0m0 1.3h0m0.8-0.6h0m0.1 0.3h0m0.3-2.4h0m0.1 0.1h0m0.8 1.6h0m0.3-1.1h0m0.1 1.7h0m0.3-0.3h0m0.1-1.3h0m0.2 0.2h0m1.6 0.5h0m0.3 1.1h0m0.1-0.8h0m0.1 0.2h0m0.7-0.4h0m0.1 0.6h0m0.3-1.8h0m0 0.4h0m0.2 0.2h0m0.4 0.6h0m0.1 1.3h0m0.5-1.4h0m0.2-0.7h0m0.1-0.2h0m0.8 2.3h0m0-2.4h0m1.4 1.4h0m0.3-1.8h0m0.1 2.5h0m0.3-1.4h0m0 0.7h0m0.4-1.9h0m0.4 2.5h0m0.1-0.1h0m0.2-0.5h0m0.4 0.3h0m0.4-0.2h0m0-0.8h0m0.3 0.3h0m0-0.2h0m0.3 0.6h0m0.5 0h0m0.2 0.1h0m0.3-0.5h0m0.1-0.9h0m1.7-0.3h0m0.5 0.6h0m0 0.5h0m0-0.7h0m0.3 0.3h0m0.1 0.6h0m0.4-0.2h0m0.3 1.5h0m0.3-0.7h0m0.1-1.6h0m0.9 0.2h0m0.1 1.6h0m0.3-0.5h0m0.3-1.9h0m0.3 1.4h0m0.4-1.1h0m0.2 2.3h0m0-0.9h0m0.4-0.1h0m0.3-0.9h0m0.1 1h0m0.1-0.9h0m0.6-0.4h0m0.2 1.5h0m0.2-0.9h0m0.1-0.2h0m0 1.3h0m0.9-2.1h0m0.5 1.4h0m0.4-1.5h0m0.5 1.1h0m0.5-0.7h0m0.1 1.3h0m0.1 0.6h0m0.9-2h0m0.1 1.9h0m0.5-1.1h0m0.1 0.3h0m0.8-1.3h0m0 2.2h0m0.2-1h0m0-0.6h0m0 0.8h0m0.1-0.1h0m1.3-0.3h0m0.2 1.9h0m0.2-1h0m0 0.3h0m0.2 0.6h0m0.6-0.3h0m0 0.2h0m0.2-0.7h0m0.1-0.1h0m0.5 0.4h0m0.9-2h0m0.3 1.4h0m0-1h0m0.1 0h0m0.3 1.1h0m0.2-1.6h0m0.1 2.5h0m0.1-2.7h0m0 1.9h0m0.4-1.9h0m0.1 1h0m0 1.7h0m0.1-2h0m0-0.6h0m0.3 0.3h0m0-0.5h0m0.3 2.3h0m0.5-0.2h0m0-0.1h0m0.1-0.5h0m0.6-0.1h0m0.1 0.6h0m0.3-2h0m0.4 0.7h0m0 0.4h0m0.3-0.7h0m0.3 1.6h0m0.2-0.6h0m0.6-1h0m1.7 2h0m0.8-2.3h0m0.2 2.1h0m1.2-0.4h0m0.1-0.6h0m1 1.7h0m0.9 0h0m-73.5 2.9h0m0.4-2h0m2 1h0m4.7 0.4h0m1.1-0.2h0m1.5-0.5h0m0.4 0.1h0m0.7-0.2h0m0.1 0.6h0m1.2-0.9h0m0.3-0.4h0m0.2 1.7h0m1.3-1.7h0m0.1 0.7h0m1.5 0.3h0m0.5-1.5h0m0.5 0.4h0m0.1 0.8h0m1.2 0.3h0m0.1-0.2h0m0.7-1.4h0m0.6 0.1h0m0.2 0.5h0m0.4-0.4h0m0.7 2.1h0m0.4-0.9h0m0.2 0.2h0m0.3-0.3h0m1.3 0.2h0m0 1h0m0.1 0.2h0m0.1-2.1h0m2.3 0.8h0m0.2-0.9h0m0 1.8h0m0.9-0.3h0m0.8-1.6h0m0.4 0.9h0m0 0.5h0m0.2-1.1h0m0.1 0.5h0m0.2-0.1h0m0.4-0.2h0m0.6 0.7h0m1.2-0.7h0m0.8-0.7h0m0.3-0.1h0m0.9 2.3h0m1.2 0.5h0m0-1.9h0m0.8-0.4h0m2.1-0.6h0m1.5 0.9h0m0.3 1.8h0m0-0.9h0m0.4-1h0m1.3 0.7h0m0.7-0.4h0m0.1 0.5h0m0.2-0.3h0m0.7-0.5h0m2.1 1h0m0.1 0.3h0m0.5-0.1h0m2.2-1.6h0m1.2 1.4h0m2.2-0.7h0m0.8-0.5h0m0.6 2h0m1.4-1h0m1.1-0.1h0m1.9 0.5h0m0.2-1.3h0m0.3 1.1h0m0.3-0.4h0m0.6-0.6h0m0.2 0.3h0m0.1-1h0m0.6 0.1h0m0.2 2.1h0m0.2-0.1h0m0 0.2h0m0.2 0.1h0m0.1-0.7h0m0.1 0.9h0m0.3-0.6h0m0.9 0.3h0m0.4-1.5h0m0.2 1.9h0m0.2-2.6h0m0.2 1.8h0m0.7-2h0m0.6 1.4h0m0.5 0.6h0m0.4-1.6h0m0.9 1h0m0.5-0.3h0m1.4 0h0m0.6 1.7h0m0.5-2.3h0m0.3 0.3h0m0.5 1h0m1.2-0.3h0m1.2-1h0m0 1.2h0m1.3-0.1h0m5.2 0.2h0m-73.5 3.4h0m0.7-0.4h0m2.6 0.5h0m0.2-0.8h0m7.4-1.1h0m2.6 0.5h0m4.5 1.3h0m1.5 0h0m0.9-1.4h0m0.2 2h0m0.2 0.1h0m3.1-0.3h0m0.3-1.6h0m0.3 0.4h0m1.2 0.6h0m0.3 0h0m0.3-1h0m0.3 0.8h0m0.8 0.2h0m0.3-1.7h0m1.7 1.4h0m0-0.2h0m0.6 1.4h0m0.2-0.6h0m2.3-1.6h0m0.1 0.1h0m1.7-0.5h0m0.3 0h0m0.5 1.3h0m1.1-1.4h0m0.2 1.2h0m4.6-1.2h0m0.4-0.1h0m0.6 1.2h0m3.2-0.4h0m0 1.5h0m1-1.1h0m2.3 0.9h0m0.4-0.8h0m0.2 1h0m1-1.5h0m0.3 1.7h0m1-1.3h0m0.9 1.1h0m0.4-1.1h0m0.5-0.3h0m0.1 1.1h0m0.2-0.8h0m0.4-1h0m0.4 1h0m0.3-1.4h0m1.1 1.7h0m1.3 0.4h0m0.4-1.9h0m0.8 1.3h0m0.5-0.5h0m1-0.4h0m0.8 0.9h0m0.3-0.1h0m2.5-0.6h0m2.5 0.7h0m0-1.1h0m2.3 0.4h0m-64.7 4.7h0m3.6 0h0m4.2 0.1h0m1.8-0.8h0m0.1-1.3h0m0.7 0h0m2.4-0.1h0m1.6 1.1h0m0.1 0h0m1.5 0.3h0m2.5-1.3h0m1.1-0.3h0m0.6 0h0m5.1 0h0m3.2 0.3h0m0.1 1.8h0m1.7-1.5h0m6.4-0.2h0m5.7 0.2h0m2.5 0.9h0m3 0.4h0m0.7-2h0m6.5 0.3h0m-61.1 3h0m10.2 0.4h0m3.2-0.6h0m6.4 2.8h0m11.5-2.3h0m0.2 0.5h0m2.6-0.8h0m9.3 0.7h0m16.5-1.1h0m-49.3 4.2h0m42.3-0.9h0" stroke="#3434dc" stroke-width="0.75" stroke-linecap="square" opacity="0.8"/>
<path d="M456.4 270.1h0m0 1.5h0m6.2 1.7h0m4.3-1.4h0m-23.4 4.2h0m4 0.2h0m1-1.3h0m2.7 0.6h0m7.8 1.4h0m5.3-0.9h0m4.8-0.1h0m-30.6 4.4h0m0.3-0.4h0m0.2 0.5h0m8.8-0.4h0m3-1h0m1.6 0.2h0m4.1-0.7h0m9.5 0.4h0m5.1 0.3h0m-41.1 2.8h0m2.5 1h0m3 0.4h0m2-1.1h0m1.4-1h0m9.8 1.7h0m5.9-1.6h0m2.6 0.7h0m1.7-1.5h0m0.4 0.3h0m2.6 2.4h0m2.2-2.7h0m2.9 1.9h0m-25.2 1.4h0m4.1 2.3h0m1.8 0.2h0m4.4-2.5h0m6.5 1.6h0m0.5 0.1h0m0.1-1.7h0m0.8 2.5h0m1.3-1.6h0m1.9-0.2h0m2.2 1.1h0m0.4-2.1h0m1.5 0h0m1.8 0.8h0m1.5-0.9h0m-46.5 3.3h0m10.8 1.6h0m5-0.9h0m0.7 1.7h0m1.2-1.1h0m1.8-1.5h0m0.7 1.3h0m0.9-1h0m0.6 1.4h0m1.1 0.8h0m2.9-0.8h0m1.4-0.3h0m0.4-0.3h0m0.1 0.7h0m0.3 1h0m0.8-0.2h0m2.5-2.1h0m1 0.2h0m0.8-0.5h0m0.7 2.5h0m0.2-2.5h0m0.1 1.1h0m0.4-1.5h0m0.2 0.5h0m0.1 1h0m0.3-0.2h0m0.8 0.1h0m0.2 1.5h0m0.1-0.5h0m0-0.9h0m0.4 0.8h0m0.2-1.1h0m0.2 1.6h0m0.3-1.7h0m1.2 1.3h0m0.1 0.4h0m0.3-2.3h0m0.1 0.1h0m0.8-0.3h0m0.1 2.5h0m0.9-0.9h0m1-0.2h0m0.7 0.2h0m0.4 0.1h0m0.4-0.2h0m0 0.7h0m0.4-0.8h0m0-0.8h0m0.5 0.3h0m0.4 1.5h0m0.5-0.7h0m0.1-1.2h0m0.1 0.6h0m0.7 0.9h0m0.6 0.3h0m0 0.1h0m0.2-1.3h0m1.7 0.9h0m0.1 0.4h0m0.3-0.5h0m0.1-1.9h0m0.3 1.9h0m0.1 0.5h0m1.5-2h0m0.2-0.5h0m-60.2 4.6h0m16-1h0m6-0.5h0m1.4 0h0m0 0.7h0m0.8 1.2h0m0.7-1.7h0m0 0.9h0m5.7-0.1h0m1.9-0.5h0m0.8 1h0m1.2 0.7h0m0.2-1h0m0.3-0.9h0m0.4 0.2h0m0.2 0.4h0m0.2 0.2h0m0.5-0.2h0m1.3 1.2h0m0.1-2.3h0m0.2 1.9h0m0.7-1h0m0.1 1.3h0m0.3-1h0m0.4-1.3h0m1 1.5h0m0.8-1.5h0m0.7 0.3h0m0.2 2.7h0m0.2-1.5h0m0-0.2h0m0.5-0.7h0m0.3 1.9h0m0.1-1.7h0m0.2 1.5h0m0.1-1h0m0.5-1.1h0m0.7 1h0m0-0.6h0m0 1.2h0m0.3 0.8h0m0-0.4h0m0.1 0h0m0.1-0.3h0m0.1-1.6h0m0.7 2.5h0m0.4-0.8h0m0.3-0.4h0m0.6-0.3h0m0.3-0.3h0m0.1-0.4h0m0.2 0.3h0m0.4 0.9h0m0.4 1.2h0m0-1.6h0m0.7 0.5h0m0.7-0.9h0m0.3 0.3h0m0.2 0.9h0m0.3 0h0m0.2-1.9h0m0.1 1.4h0m0.1-1.6h0m0.5 1.6h0m0.2 0.7h0m0-1.8h0m0.4 1.8h0m0.6-2.3h0m0.3 2.1h0m1-0.8h0m0.2-1.3h0m0 1.8h0m0.6 0.4h0m1.1-1.6h0m0.1 0.4h0m0.2 1.6h0m0-1.2h0m0.7 1h0m0.1-2.4h0m0 1.1h0m0.8-1.2h0m0.2 0.1h0m1.5 0.1h0m0.8 0.1h0m1.1 0.3h0m-38.4 2.9h0m2.9 1.9h0m0.2-1.5h0m1.9 1.4h0m1.3-1.5h0m0.1 0.3h0m1 0.1h0m0.1-0.3h0m3-0.4h0m0.3-0.2h0m0.1 1.5h0m4.1-1h0m1.2 0.4h0m0.2-0.8h0m3.2 0.7h0m0.9-0.9h0m0.2 0.2h0m2-0.1h0m0.8-0.1h0m0.5 1h0m0.6 0.5h0m0.3-0.6h0m0 0.1h0m0.3-0.5h0m1.2 1.3h0m0.7 0.6h0m0.1-0.6h0m1.8-1.9h0m1.6 0.6h0m4.9 0.2h0m-41.2 4.5h0m0.7 0.2h0m4.9-2.3h0m3.8 1.9h0m0.2 0.2h0m4.8-2.1h0m1.1 0.6h0m2.5-0.7h0m4.7 1.4h0m0.6 1.3h0m2.2-2.8h0m0.2 2.6h0m3.5-0.4h0m2.3-0.8h0m1.3 1.5h0m0.1-1.4h0m0.6-0.4h0m0.2 1.5h0m1.7-1.9h0m6 0h0m-60.1 3.2h0m8.6 0.5h0m5.9-0.1h0m3.6 1.5h0m5.9-1.9h0m7.2 1.5h0m0.6-0.1h0m0.9-1.9h0m0.6 1.6h0m2-0.5h0m10.5 0.2h0m1 1.1h0m1.2-0.2h0m1.3-1.8h0m2.7 1.5h0m4.9-1.2h0m-63.4 4.4h0m5-2.3h0m0.4 1.3h0m1.7-0.3h0m0.4-0.6h0m1.6 0.7h0m0.1 0.4h0m3.6-1.6h0m0.5 2.2h0m1.1 0.4h0m1.3-1.6h0m5.1 0h0m0.9-1.1h0m0.7 1.2h0m0.8 0h0m0.5 1.2h0m1.4-1.9h0m1.2 2h0m1.7-0.7h0m1.7-1.4h0m1.6 1.1h0m1.9 0.6h0m0.4-0.2h0m0.4-1h0m0.6 0.1h0m1.1-1h0m2 2.7h0m1.8-0.6h0m0.3 0.2h0m0.3-0.6h0m1.4 0.1h0m0.6-1h0m0.8-0.5h0m0.6 2.1h0m0.1-0.7h0m0-1.1h0m2.4 2h0m0-1.9h0m0.1-0.3h0m1.1 2.1h0m0.8-0.8h0m0.6-1.1h0m2.1 1.4h0m0.1-0.7h0m0.1 0.3h0m0.2-1.1h0m0.3 0.1h0m2.8 1.6h0m1 0.6h0m0.1-1.1h0m0.1 0.8h0m0.4-0.2h0m0.6-0.5h0m1.1 0.1h0m1-1h0m0.1 0.9h0m0.8 0.7h0m0.2 0.4h0m0.1-2.5h0m0.2 0.3h0m1.2 2.2h0m2.9-2h0m2.4 0.1h0m-71.8 4h0m11 0.8h0m0.7-1.8h0m1.1-0.5h0m0.6 0.6h0m0.7-0.9h0m0.5 1.9h0m2.3-1.2h0m1.7-0.3h0m0.1 1.4h0m0.2-0.6h0m0.1 0.8h0m1.8-1.4h0m0.1 1.8h0m0 0.2h0m2.9-0.4h0m0.2-2.2h0m0.8 0.9h0m0.2 0.1h0m0.7 0.2h0m0.2-0.3h0m0.4-0.8h0m1 0.8h0m0.2 1.5h0m0.6-1.1h0m0.5 0.2h0m0 0.2h0m0.2-1.6h0m0 0h0m0.5 2.3h0m0.6-1.2h0m0.2 1.2h0m0.5-1.4h0m0.3 1.3h0m0.6-0.5h0m1.3-0.7h0m0.1 1.2h0m0.3-1.6h0m0.4 1.5h0m0.4 0h0m0.2-1.5h0m0.1 1.2h0m0-1.8h0m0.2-0.1h0m0.7 1.4h0m0 1.1h0m0.5-0.5h0m0.3-0.9h0m0.2-0.2h0m0-0.2h0m0.2-0.4h0m0.1 0h0m0.1 0.9h0m0.1-0.2h0m0.1-0.2h0m0.4 1.9h0m1.1-2.3h0m0.5 1.4h0m0.2-0.9h0m0.4 0.4h0m0.6 0.9h0m0.5 0.2h0m0.2-1.4h0m0-0.1h0m0.1-0.6h0m1.1-0.6h0m0.6 1.4h0m0 1.2h0m0.5-1.5h0m0.3 1h0m0.4 0.3h0m0.1 0.5h0m0-1.5h0m0.2-0.6h0m0.4 1.1h0m0.2 0.2h0m0.8 0.1h0m0.5-0.5h0m0.2-1.3h0m0.6 0.8h0m1.7-1h0m0.2 2h0m0.9-0.6h0m0.6-1.5h0m0.3 1.8h0m0 0.8h0m0 0.1h0m0.3 0h0m0.1-0.4h0m0.5-2.3h0m0.4 1.6h0m1-0.7h0m0.2 0.4h0m0.9 0.3h0m0.5 0.3h0m0.3 0.8h0m0.2 0.1h0m0.3-0.4h0m0.3-0.9h0m1.7-0.1h0m0.9-0.7h0m1.1-0.8h0m0 0.9h0m0.1 0.1h0m1 1.9h0m0.6-0.1h0m0.3-2.6h0m0.4 0.3h0m0.8 1.1h0m0.7-1.3h0m0 1.9h0m0.5 0.2h0m0.2-1.3h0m0.2 0.8h0m0.4 1.1h0m0.6-1.8h0m0.1 0.2h0m0.1-0.7h0m0.1 1.8h0m0.2-2.1h0m0.3 0.8h0m0.7 1.2h0m0.8-1.2h0m0.1 1.2h0m0.9 0.4h0m0.9-1.7h0m2.3-0.2h0m0.2 1.9h0m2.9 0.1h0m-73.4 0.4h0m2.6 0.1h0m2.8 0.4h0m0.6 0.4h0m0.5-0.1h0m0.8-0.8h0m0 1.3h0m0.4 0.9h0m0-0.3h0m0.4-0.8h0m1.8 0.4h0m1.1-1.4h0m0.5 1.1h0m1.1 0.5h0m0.3-0.5h0m0.1-0.9h0m0 1.5h0m0.7-0.2h0m0.3-0.2h0m0.3 0.3h0m0.7 0.9h0m0.5-2.1h0m0.1 0h0m2.4-0.7h0m0 1.4h0m0 0h0m1.3 0.4h0m0.6-0.2h0m0.3 1.1h0m0.3-1.5h0m0-0.2h0m0.3-0.6h0m0.5 0.7h0m0.1 0.5h0m0.9 0.1h0m0.2-1.1h0m0.2 2.1h0m0.8 0.1h0m0.8-1.1h0m0.9-0.4h0m0.2-0.8h0m0.1 0h0m0.8 1.6h0m0.1-0.6h0m0.2 0.4h0m0 0.6h0m0.2-1.3h0m0.3-1h0m0.2 0.1h0m1.3 1.3h0m0.2-0.5h0m0.3 0.3h0m0.3-1.3h0m0.1 2.2h0m0.1-0.7h0m0.8-0.1h0m0.9 1.1h0m0.4-1.7h0m0 1.3h0m0.1-0.7h0m0.1 1.1h0m0.1 0.2h0m0.4-1.4h0m0.4 0h0m0.2-0.8h0m0.7 0h0m0.1 1.9h0m0-2.1h0m0.3 1.8h0m0.3 0.7h0m0.1-1.3h0m0.2 0.5h0m0.1 0.5h0m0.3-1.1h0m0 1.2h0m0.3-2.6h0m0.3-0.2h0m0 1.1h0m0.4-0.4h0m0.4 0.5h0m1-0.8h0m0.4 2.5h0m0.1-2.9h0m0.3 1.9h0m0-1.6h0m0.2 1.5h0m0-1.5h0m0.3 1.7h0m0.1-1.6h0m0.1 1.9h0m0.6-0.9h0m0-1.1h0m0.1 0.1h0m0.6 1.8h0m0.4-0.7h0m0.1 0.9h0m0.3-1.5h0m0.1 1.6h0m0.7-1.1h0m0-0.8h0m0.2-0.3h0m0 1.7h0m0.2-0.4h0m0.3 1.4h0m0-0.6h0m0.5-0.9h0m0.1-0.3h0m0.1 0.8h0m0.1 0.8h0m0.6-1.7h0m0.1-0.3h0m0.1 0.5h0m0.9 0.3h0m0.6 0.3h0m0.1-1.4h0m0.5 0.6h0m0.3-0.2h0m0.8 1.9h0m0.3-0.6h0m0 0.8h0m0.2-0.1h0m2.8-1.7h0m0.2-0.2h0m0.9-0.2h0m0.1-0.5h0m0.1 2.1h0m0.1-1.3h0m0.4 1.8h0m0.6-1.8h0m0.7 0.8h0m0 0.5h0m0.3-0.6h0m0.4 1.2h0m0.2-2.4h0m0.4 0.2h0m0.2 0.5h0m0.1-0.1h0m0.1 0.1h0m0.1 0.7h0m0.1-1.6h0m0.2-0.2h0m0.1 1.8h0m0.1-1.5h0m0.1 1.7h0m0.7-0.2h0m0.4-0.2h0m0 0.8h0m0.4 0h0m0.2-1.6h0m0.2 1.1h0m0.7 0.9h0m0.7-0.6h0m0 0h0m0.8-2.3h0m0.4 0.8h0m0.1 1.1h0m0.3 0.9h0m0.2-0.1h0m0.3-1.3h0m0.6 0.4h0m0.4 0.8h0m0.2-0.9h0m0.2 0.7h0m0.1 0.2h0m0.2-2h0m0.2 1.7h0m0-0.9h0m0.1 1.4h0m0.4-0.5h0m0 0.2h0m0.1-2.3h0m0.1 2.2h0m0.3-0.1h0m0-1.5h0m0.2 0.9h0m0.2-0.1h0m0.3-1.6h0m0.9 2.1h0m0.2-1.1h0m1.5 1.8h0m0.2 0h0m0.2-0.5h0m1.2-2.2h0m0.4 2.6h0m-71.1 0.6h0m0.2 0.8h0m0.2-1.1h0m4.3-0.1h0m0.1 2.8h0m1.3-2.6h0m0.5 1.8h0m0.3-0.1h0m0.1-0.3h0m0.2-1.1h0m0.1 0.7h0m0.2 1.1h0m0.7-0.7h0m0.1 0.5h0m0.1 0.1h0m0.8-0.6h0m0.1 0h0m2.4 0.2h0m1.2 0.8h0m0.6-0.6h0m0.5 0.8h0m0.2 0h0m0.4-2.1h0m0.3 1.4h0m0-1.8h0m0.3 1.9h0m0.4 0.5h0m0.9-2.3h0m0.1 1.5h0m0-0.4h0m0.5-0.3h0m0.2 0h0m1-0.6h0m0.7 0.9h0m0.1 0.8h0m0 0.2h0m0.1 0h0m0.5-1.6h0m0.1-0.4h0m0.5 1.5h0m0-0.1h0m0.9-1.7h0m0.7 2.4h0m0.3-0.8h0m0.2 1h0m0.1-1.9h0m0.3 0.3h0m0.3-0.5h0m0.4 0.4h0m0.4 1.7h0m0.1-1.7h0m0 0.4h0m1 0.1h0m0 0.7h0m0.9-0.2h0m0.2 0.6h0m0.2-1h0m0.4-1.5h0m0.5 0.5h0m0.2 0.1h0m0.2 2.1h0m0-1.7h0m0.2 0.7h0m0.6-0.1h0m0.4-0.8h0m0.8 0.1h0m1.3 0.5h0m0-1.3h0m0.5 2h0m0-1.2h0m0.1 1.8h0m1.6-1.9h0m0.1 0.7h0m1 0.4h0m0.1-1.5h0m0.6-0.5h0m0 0.1h0m0.1 0.8h0m0.8-0.6h0m0.4 0.1h0m0.2 0.4h0m0.3 0.2h0m0.2 1.1h0m0.2 0.8h0m2.1-2.9h0m0.3 2h0m1-1.8h0m0.3 1.5h0m0.4 0.1h0m0.6 0.1h0m0.5-1.3h0m0.7 1.6h0m0-0.5h0m0.7-0.9h0m1.8-0.8h0m1.2 1h0m0.7 1.7h0m0-0.5h0m0.5 0.6h0m0.1-2.5h0m0.1 1h0m0.7 1.4h0m0.7-0.4h0m0.6-0.5h0m0.4 0.1h0m0.7 0.6h0m0.6 0.2h0m0.2-0.4h0m0.8-1.5h0m0.6 1.4h0m0.8-0.3h0m0.2 0h0m0.3-1.7h0m0.6 1.6h0m0.8-1.1h0m1.6 1.5h0m0.2-2.2h0m0.2 1.2h0m0.1-0.1h0m0 1.5h0m0.2-1.4h0m0.1-0.1h0m0.2 1.5h0m0.3-2.1h0m0 0.7h0m0.1 0.6h0m0.1 0.5h0m0-1.5h0m0-0.2h0m0.2 0.3h0m0.2-0.2h0m0.2 0.3h0m0.5-0.4h0m0.2 1.3h0m0-1.6h0m0.4 1.3h0m0.7 1.2h0m0.9-1.2h0m0.2 1.1h0m0 0.1h0m0.2-2.6h0m0 0.4h0m0.1-0.2h0m0.1 2.4h0m0.1-0.2h0m0.2-1.8h0m0.1 0.9h0m0.1-0.8h0m0.1 0.5h0m0 0.8h0m0-2.2h0m0.1 2h0m1.6-1.6h0m0.2 0.3h0m1.3 2h0m0.9-2.2h0m0.1-0.6h0m0.1 0.4h0m0.6 1.8h0m0.1-0.2h0m1.1-1.3h0m2.6 0.4h0m1-1h0m-75.5 4.5h0m3.3 0.3h0m0.4 0.5h0m4.2-2h0m0.6 2.2h0m0.3-1.4h0m0.9 1.7h0m0.6-2.7h0m0.4 1.7h0m0.5-1.2h0m0.3 0.4h0m0.1 1h0m1-1.1h0m0.1 0.6h0m1.7 1.1h0m0-1.7h0m0.1-0.8h0m0.1 0h0m0.3 0.6h0m0.1 0.1h0m1.6 0.6h0m0.2 0.3h0m0.9-1h0m1.7 0.3h0m0.3 1.7h0m0.1-2.6h0m0.1 2.2h0m0.1 0h0m1.4-0.3h0m1.7-0.8h0m0.6-0.5h0m0.3 0.9h0m0.2 0.9h0m0.4-2.2h0m0.2 0.4h0m0.1 1.2h0m0.9-0.9h0m0.8 0.4h0m1 1.5h0m0.3-3h0m0.1 1.3h0m1.3-0.4h0m0.3 1.4h0m0.1-1h0m0.3-1h0m0.1 2.5h0m0.9-1.9h0m0.4-0.6h0m0.4 0.1h0m0 1.1h0m0-0.7h0m0.4 0.2h0m0.8 0.8h0m1.2-0.5h0m1.5-0.5h0m1.2 0.5h0m1 1.6h0m2.1-1.5h0m0.1 0.7h0m1.5-0.7h0m0.2-1.1h0m0.2 1.3h0m1.3-1.4h0m0.1 1.7h0m0-1h0m0.1-0.3h0m2.3 0.5h0m0.6 0.7h0m0.6-1.1h0m0.5 0.8h0m0.4 0.3h0m0.3-0.8h0m0 0.1h0m0.2 0.9h0m1 0.4h0m1.5-2h0m0.3 2.1h0m0-2.1h0m1.1 2.3h0m0.9-1.5h0m0.1-0.5h0m0-0.4h0m0.2 0.5h0m0.6 0.8h0m0.2-0.6h0m0.6 1.2h0m0 0.3h0m0.1-1.7h0m0.4 0.6h0m0.4-0.7h0m0.3 0.9h0m0.1-1.1h0m0 1.7h0m0.4-0.4h0m0 0.2h0m1.2-1h0m0.8-0.5h0m0.2 2.3h0m0.1-2.6h0m0.7 0.1h0m0.6 0.4h0m0.3 1.2h0m0 0.6h0m0-1.2h0m0.8 0.2h0m0.1-1.4h0m0.3 1.3h0m0.1-0.6h0m0-0.4h0m0.2 2.3h0m1.3-2.1h0m1.7 0.1h0m2.3 2.2h0m0.3-2.4h0m0.2-0.4h0m0.1 0.9h0m0.1 0h0m5.8 0.3h0m3.1 1.1h0m-74.4 1.4h0m4.7 1.1h0m2.7-1.1h0m0.6-0.1h0m0.1 0.6h0m0.4 0.3h0m3.1-0.7h0m2.7 0.6h0m0.4-0.8h0m1.1 2.2h0m1.4-0.4h0m0.5-1h0m1.2 0h0m1.3-0.4h0m0.8-0.9h0m0.9-0.2h0m1.1 0.8h0m1 0.5h0m1.4-0.6h0m0.8-0.2h0m1.1 1h0m0.9-1.3h0m0.6 1.4h0m0.4-0.1h0m2.8-0.7h0m1.9 0.2h0m0.3 0.5h0m0.4 0.4h0m5.1-1.9h0m3.5 0.3h0m0.7 1.6h0m0.3-0.7h0m2 0.8h0m1.8 0.7h0m1.3-1.7h0m0.7 0h0m1.2-0.4h0m1.8 0h0m0.2 1h0m0.1-1.3h0m1.1-0.1h0m0.9 0.6h0m0.5 1.5h0m0.1-1h0m0.1-1.1h0m0.5 1.8h0m0.3-1.5h0m0.2-0.4h0m0.9 0.7h0m0-0.5h0m1.2 0.7h0m0.5 0h0m0.2 1.3h0m4.8-0.4h0m2.6-1.9h0m0.1 1h0m2.2 0.9h0m-61.7 3.9h0m1.4-2.8h0m0.9 0.1h0m0.5 1.5h0m0.9-0.9h0m0.8-0.2h0m1.9-0.3h0m0.3 1.6h0m0.8 0.2h0m2.8 0.2h0m7.1-0.8h0m1.7 1.4h0m0.1-1.6h0m0.2 0.1h0m2.2 0h0m0.8-0.2h0m1.3 0.1h0m3.7-1.1h0m0 2.3h0m3.5-2.3h0m14.1 1.1h0m0.4 1.6h0m1.9-2.2h0m4.8-0.5h0m1.4 2.2h0m0.6-0.5h0m-31.9 1.8h0m23.7-0.3h0m0.7-0.2h0m1.2 1.1h0m4.5-0.5h0m8.1-0.6h0m-9.8 8.8h0" stroke="#7070f0" stroke-width="0.75" stroke-linecap="square" opacity="0.65"/>
<g filter="url(#fblur)">
<ellipse cx="434" cy="310.1" rx="20.50" ry="6.20" transform="rotate(-10 434 310.1)" fill="#2a30dc" opacity="0.95"/>
<ellipse cx="434" cy="310.1" rx="16.40" ry="4.71" transform="rotate(-10 434 310.1)" fill="#1aa0e8" opacity="1"/>
<ellipse cx="434" cy="310.1" rx="14.35" ry="3.97" transform="rotate(-10 434 310.1)" fill="#25d85a" opacity="1"/>
<ellipse cx="434" cy="310.1" rx="9.02" ry="2.60" transform="rotate(-10 434 310.1)" fill="#9af08a" opacity="1"/>
<ellipse cx="434" cy="310.1" rx="6.15" ry="1.98" transform="rotate(-10 434 310.1)" fill="#f4a0a0" opacity="1"/>
<ellipse cx="434" cy="310.1" rx="3.90" ry="1.36" transform="rotate(-10 434 310.1)" fill="#e4283c" opacity="1"/>
<ellipse cx="461" cy="311" rx="10.50" ry="6.00" transform="rotate(-15 461 311)" fill="#2a30dc" opacity="0.95"/>
<ellipse cx="461" cy="311" rx="7.35" ry="4.20" transform="rotate(-15 461 311)" fill="#2a80e8" opacity="0.9"/>
<ellipse cx="461" cy="311" rx="4.73" ry="2.70" transform="rotate(-15 461 311)" fill="#25c870" opacity="0.9"/>
<ellipse cx="461" cy="311" rx="2.10" ry="1.20" transform="rotate(-15 461 311)" fill="#60e090" opacity="0.8"/>
</g></g>
<rect x="398.5" y="260.2" width="78.5" height="71.60000000000002" fill="none" stroke="#8a8a9a" stroke-width="0.7"/>
<line x1="450.3" y1="260.2" x2="450.3" y2="331.8" stroke="#45454f" stroke-width="1.0"/>
<line x1="398.5" y1="295.5" x2="477.0" y2="295.5" stroke="#45454f" stroke-width="1.0"/>
<path d="M301.9 348.3h2.6M303.2 352.3h1.3M303.2 356.2h1.3M303.2 360.2h1.3M301.9 364.2h2.6M303.2 368.2h1.3M303.2 372.2h1.3M303.2 376.1h1.3M301.9 380.1h2.6M303.2 384.1h1.3M303.2 388.1h1.3M303.2 392.0h1.3M301.9 396.0h2.6M301.9 405.4h2.6M301.9 414.1h2.6M316.5 417.7v2.4M321.1 417.7v1.2M325.8 417.7v1.2M330.4 417.7v1.2M339.7 417.7v2.4M344.4 417.7v1.2M349.0 417.7v1.2M353.6 417.7v1.2M358.9 417.7v2.4M363.6 417.7v1.2M368.2 417.7v1.2M372.8 417.7v1.2M376.6 417.7v2.4" stroke="#555" stroke-width="0.45" fill="none"/>
<text transform="translate(301.3,349.5) rotate(-60)" font-size="3.2" text-anchor="middle" font-family="Liberation Sans, sans-serif" fill="#666">10⁵</text>
<text transform="translate(301.3,365.4) rotate(-60)" font-size="3.2" text-anchor="middle" font-family="Liberation Sans, sans-serif" fill="#666">10⁴</text>
<text transform="translate(301.3,381.3) rotate(-60)" font-size="3.2" text-anchor="middle" font-family="Liberation Sans, sans-serif" fill="#666">10³</text>
<text transform="translate(301.3,397.2) rotate(-60)" font-size="3.2" text-anchor="middle" font-family="Liberation Sans, sans-serif" fill="#666">10²</text>
<text transform="translate(301.3,406.6) rotate(-60)" font-size="3.2" text-anchor="middle" font-family="Liberation Sans, sans-serif" fill="#666">0</text>
<text transform="translate(301.3,415.3) rotate(-60)" font-size="3.2" text-anchor="middle" font-family="Liberation Sans, sans-serif" fill="#666">-10²</text>
<text x="316.5" y="424.0" font-size="3.2" text-anchor="middle" font-family="Liberation Sans, sans-serif" fill="#666">0</text>
<text x="339.7" y="424.0" font-size="3.2" text-anchor="middle" font-family="Liberation Sans, sans-serif" fill="#666">10²</text>
<text x="358.9" y="424.0" font-size="3.2" text-anchor="middle" font-family="Liberation Sans, sans-serif" fill="#666">10³</text>
<text x="376.6" y="424.0" font-size="3.2" text-anchor="middle" font-family="Liberation Sans, sans-serif" fill="#666">10⁴</text>
<rect x="302.6" y="406.2" width="1.6" height="2.6" fill="#222"/>
<rect x="310.0" y="418.3" width="2.6" height="1.5" fill="#222"/>
<text x="306.1" y="349.9" font-size="3.6" text-anchor="start" font-family="Liberation Sans, sans-serif" fill="#444">Q1</text>
<text x="306.1" y="354.9" font-size="3.6" text-anchor="start" font-family="Liberation Sans, sans-serif" fill="#444">1.69</text>
<text x="380.3" y="349.9" font-size="3.6" text-anchor="end" font-family="Liberation Sans, sans-serif" fill="#444">Q2</text>
<text x="380.3" y="354.9" font-size="3.6" text-anchor="end" font-family="Liberation Sans, sans-serif" fill="#444">1.29</text>
<text x="306.1" y="410.2" font-size="3.6" text-anchor="start" font-family="Liberation Sans, sans-serif" fill="#444">Q4</text>
<text x="306.1" y="415.2" font-size="3.6" text-anchor="start" font-family="Liberation Sans, sans-serif" fill="#444">95.4</text>
<text x="380.3" y="410.2" font-size="3.6" text-anchor="end" font-family="Liberation Sans, sans-serif" fill="#44a">Q3</text>
<text x="380.3" y="415.2" font-size="3.6" text-anchor="end" font-family="Liberation Sans, sans-serif" fill="#44a">6.12</text>
<clipPath id="cP2"><rect x="304.5" y="345.4" width="77.39999999999998" height="72.30000000000001"/></clipPath>
<g clip-path="url(#cP2)">
<path d="M360.9 369.5h0m0.2 0.7h0m-47.6 2.6h0m8-0.4h0m4.1-0.3h0m5.8 0.9h0m0.4-1.3h0m4.1 0.9h0m0.4 0.9h0m0.8-0.2h0m0.1-0.1h0m1.5-0.5h0m1.2-0.2h0m0.6 0.3h0m2.8 0.3h0m2 0.2h0m0.4-2.4h0m0.3 2.1h0m3.3-1.2h0m1 1.5h0m0.1-1h0m0.4-0.5h0m2-0.7h0m4.6 1.7h0m1-0.6h0m0.3 0.7h0m0.4-0.9h0m3.3 0.1h0m2.2 0.8h0m1.1 0.6h0m0.1-0.3h0m2.3-0.7h0m0.8 0.6h0m2.8 0.2h0m0.6-0.8h0m1.2-0.4h0m2.6 1.1h0m-71.3 0.3h0m0.2 2.4h0m8-1.7h0m8.4 1.5h0m0.3 0.4h0m0.2-2.1h0m2.2 1.3h0m0.7-0.5h0m3.5 1.3h0m0.2-2.2h0m1-0.2h0m1.1 0.5h0m0.3 1.3h0m0.1-2h0m2.6 1.9h0m3.6 0.8h0m0.7-2.6h0m0.6 0.9h0m0.8 1.8h0m0.5-2.5h0m1.8 0.1h0m1 0.6h0m0.5 1.5h0m0.3-2h0m0 2.5h0m1.5-2.1h0m1.5-0.4h0m0.9 0.6h0m0.3-0.9h0m1.7 1.1h0m0.5 1.1h0m0 0.4h0m0.2-2.4h0m1.9 0.7h0m0.2 0.1h0m0.1 1.3h0m0.4-1.5h0m0.1 0.3h0m0.3 0.6h0m0.3 0.3h0m0.3-1.9h0m0.2 1.4h0m2.4-1.6h0m0.4 0.7h0m0 0h0m0.4 0.7h0m0-0.6h0m0.3 1.6h0m1.6-1.4h0m0-0.9h0m0.1 1.3h0m2.8-1.5h0m0.6 2.1h0m1.1-1.7h0m2.5 2.1h0m0.1-1.7h0m1.9-0.5h0m2.3 1.1h0m0.3-0.2h0m1.6 0h0m8.4-0.9h0m-56.3 4.7h0m0.3-0.9h0m3.2 0.9h0m1.8-1h0m1.1 1.5h0m0.8-2.4h0m2 0.1h0m2.9 1.1h0m0.4-1.2h0m1 2.2h0m3.6-2.3h0m2.9 1h0m0.2 2h0m0.3-1.1h0m1.6-1.1h0m0-0.4h0m0.5 0.7h0m1.3-0.9h0m0.1 0.6h0m0.1 0.8h0m0.3-0.5h0m3.7-0.4h0m1.5 0.4h0m1.6-0.4h0m0.1 0.4h0m0.7-0.3h0m1.1 1.2h0m0.7-0.6h0m0.5-0.1h0m1.5 1.1h0m1.2-0.6h0m0.9 0.5h0m1.6-0.9h0m0.4 0.6h0m0.5 0.7h0m1.1-1.6h0m3.4-1.1h0m1.1 0.3h0m0.9 1h0m6.1-1.1h0m3.1 1.5h0m0.8-0.1h0m-46.1 3.6h0m0.6-0.8h0m13.2-1.3h0m6.1 1.5h0m0.9 0.9h0m0.9-1.5h0m0.8-0.7h0m0.2 1.4h0m1.5 0.6h0m1.3-2.2h0m0.5 1.9h0m2.7-1.3h0m2.4 1.4h0m5.5-2h0m1.4 2.4h0m-61 1.7h0m17.1-0.2h0m3.2 0h0m8.7 0.3h0m6.2 0.3h0m3.8-1.5h0m15.3 1.9h0m0.1-1h0m1.4 0.8h0m-30.4 3.5h0m8.9-1h0m3.8 0.4h0m1.1 1.2h0m6-2.6h0m0.3 1.7h0m0.5-1.9h0m0.8 1.6h0m2.9 0.5h0m2.8-2.1h0m3.1 0.5h0m1.1 1.1h0m1.3 0.4h0m1.4-1h0m5.9 0.9h0m0-1.2h0m-46.6 5h0m2.1-0.4h0m2 0.6h0m2-0.9h0m3 0.6h0m0.4-1.3h0m2.8-1.3h0m2.5 1.8h0m3.5 1.1h0m0.2-1.7h0m0.8-0.7h0m0.5 1.9h0m3.6-1.6h0m0.1 1.4h0m2.9-0.4h0m1.1 0.6h0m3-1.5h0m0.8 1.2h0m1 0.6h0m0-0.3h0m0.5-0.9h0m0.7 0h0m0.2 0h0m0.2-1.3h0m3.4 2.5h0m0.3-0.5h0m0.4-1.5h0m1 1h0m2.4 0h0m1.6 0.2h0m5.6-0.1h0m1.4-0.9h0m-60.7 2.5h0m5.9 1.3h0m1.8 0.3h0m0.8-0.1h0m3.3 0.5h0m3.4-0.2h0m1.7-0.4h0m1.2-0.6h0m2.1 0.5h0m0.5-0.1h0m1.6-0.1h0m1 0.1h0m1.6 0.4h0m5.5 0.6h0m1.8-2.2h0m0.1 2.4h0m2.1-2.8h0m0.1 0.8h0m1.1 2h0m1.4-1.8h0m0 0.2h0m0.5-0.8h0m2.1 1.9h0m0.4-2.2h0m1.7 1h0m0.1-0.4h0m0.9 0.8h0m0.4 1.3h0m0.1-1.1h0m0.4-1.3h0m0.4 2.1h0m0.9-2.2h0m0.5 1.6h0m0-1.2h0m0.8-0.2h0m0.7 1.5h0m1-2.1h0m0 1.3h0m0.1 0.5h0m0 0.1h0m0.4-0.1h0m0.2-0.5h0m0.1-0.8h0m0.1 1.1h0m0-0.3h0m0 0.1h0m1.1 0.5h0m0.4-1.9h0m0.2 1.5h0m0.1 0.3h0m0.4-0.3h0m0.3 0.2h0m0.9 0.5h0m0.4 0h0m2-2h0m0.4 0.6h0m1 2.2h0m2.6-1.4h0m0.1-0.7h0m0.5 0.3h0m1.5-0.3h0m-65.9 4.5h0m3.5-1h0m2.9 0.7h0m0.2-0.4h0m4-0.2h0m0.7 0.7h0m0.2-1h0m0.2 0.8h0m0.4 0.7h0m0.3-1h0m0.1 0.5h0m2 0.4h0m0.2-1.3h0m0.1-1h0m2.7 1.3h0m0 0.6h0m1.7-1.6h0m0.1 0.3h0m0.6 1.5h0m1.3 0.6h0m0.3-1.9h0m0.3-1h0m0.9 0.6h0m0.3 1h0m0.1 1.2h0m0.6-1.2h0m0.4-1.2h0m3.2 1.5h0m0.4 0.7h0m0.3-0.5h0m0.2-1.6h0m0.4 1.3h0m0.3 0.4h0m0-0.1h0m0.6-1.3h0m0.2 0.1h0m0.1 0.9h0m0.2 0.7h0m0.1-1.8h0m0.1 1.8h0m1.1 0h0m0.1 0h0m0.1-0.9h0m0.4 0.2h0m0.3-1h0m0.1 1.6h0m0.5 0h0m0.7-2.3h0m0.1-0.1h0m0.2 1.4h0m0.7 0.3h0m0.8 0.4h0m1-1.4h0m0 1.2h0m0 0h0m0.7-0.6h0m0-1.4h0m1.1 2.7h0m0.9-2h0m1.2 0h0m0.2 0.4h0m0.3 1.3h0m0.3 0.5h0m0.2-1.2h0m0.6-0.7h0m0.9 1h0m2.1-1.5h0m0 1.8h0m0.8 0.3h0m0.1-2.3h0m0.5 0.2h0m0.3-0.2h0m0.4 0.2h0m1 2.5h0m0-2.1h0m0.3-0.9h0m0.4 0.6h0m0.7 1.4h0m0.8-0.1h0m0.6-0.3h0m0.1 0.8h0m0.1-1.9h0m0.2 0.2h0m0.3 0.8h0m0-0.7h0m0.3-0.7h0m0.8 1.3h0m0.1 0.1h0m0.9-1.3h0m0.5 1.8h0m0.6 0.2h0m0-2.1h0m0.1 1h0m0.1 1.7h0m0-2.7h0m0.3 1.4h0m1.1-0.5h0m0.2 1h0m1.6 0h0m0.2-0.8h0m0.1-0.2h0m0.4 0.1h0m0.4 0.9h0m0.7 0.9h0m0.3-1.5h0m0.1 0.8h0m0-0.1h0m0.2 0.2h0m0.3 0h0m0.4-0.7h0m0.3 0.3h0m0.7-1.6h0m1.3 1.9h0m2 0.7h0m0.2-0.8h0m1.1-0.1h0m-74.5 4h0m12.8-2.2h0m0.1 0h0m1.3-0.7h0m1 2.4h0m2.6 0.1h0m0.4-1.2h0m0 1.5h0m0.1-0.6h0m0.4-0.6h0m1.4 0.1h0m0.8 0.1h0m0.2-0.5h0m1.4-0.5h0m0.5 1.2h0m0.4 0.7h0m0-1h0m1.8-1h0m0.4 0.6h0m0.1 0.1h0m0.8-0.8h0m0.3 0h0m0.2 2h0m0-1.6h0m0.4-0.3h0m1.1 0.3h0m0.5 1.2h0m0.5-2h0m1.6 1.9h0m0.5-0.9h0m0-0.3h0m0.1 0.6h0m0.9 0.2h0m0.3 0.3h0m0 0.2h0m0.9 0h0m0.7-2.2h0m0.4 0.5h0m0.4 2.3h0m0.1-2.6h0m0 1h0m0.3 1h0m0.6-1.6h0m0.3 0.7h0m1 0h0m0.1 0.9h0m0.6-0.3h0m0.1-1.3h0m0.5 1.2h0m1-0.8h0m0.9 0h0m0.3 0.7h0m0.4 0h0m0.6 1.1h0m1.4-1.2h0m0.1-1.6h0m0.4 1.4h0m1.1 0.9h0m0-1.1h0m0.5 1.3h0m0.6 0.1h0m0.1-0.4h0m0.6 0.3h0m0.3-1.7h0m0.5-0.6h0m0.1 0.3h0m0.5 0.7h0m0.5 1h0m0.2-1.9h0m0.9 1h0m0 0.6h0m0.5-0.4h0m0.4 0.5h0m0.3-1.3h0m0.3 1.9h0m1-1.5h0m0.2 0.9h0m0.6-1.8h0m0.1 0.6h0m0.3-0.4h0m1.8 1.1h0m0 0.4h0m0.3-0.7h0m0.1-0.5h0m0 0.1h0m0.3 1.8h0m0.6-0.7h0m0.1 0.7h0m0.5-1.1h0m0.1-0.6h0m0.3 0.7h0m0.1-1.4h0m0.5 0.1h0m0.7 1.8h0m0.1 0.2h0m0.6-2.2h0m0 0.9h0m0.5-1h0m0.2 0.6h0m0.6 1h0m0.4-1.5h0m0.1 0.7h0m0.5-0.7h0m0.1 1.1h0m0.4 0.5h0m0.1-0.9h0m0.1 1h0m0.9-1.2h0m1-0.3h0m0.1 0.9h0m0.1-0.4h0m0.1 1.2h0m0.2-1.6h0m0.2-0.3h0m0.1 0.6h0m0.1 0h0m0.1 1.2h0m0.7-1.2h0m1.7 1.5h0m0.6-1.7h0m0.7-0.5h0m0.4 2.4h0m2 0.1h0m2.3-2.3h0m0.2 0.1h0m-71 3.5h0m6-0.2h0m2.5 1h0m0.7 0.4h0m0.9-0.2h0m0-1.5h0m0.1 0.1h0m0.3 1.4h0m0.2 0.8h0m0.2-0.3h0m0.4-0.3h0m0.2-0.5h0m0.1-1.3h0m0.3 1.6h0m0.4-1.5h0m0 1.7h0m0.3-2h0m0.5 1.3h0m1.2 0.5h0m0.1-0.2h0m0.8 1.3h0m0.2-2.8h0m0.9 1.6h0m0.1 0.7h0m0.1-1.1h0m1 0.6h0m0 0h0m1.2-0.2h0m0 0.8h0m0.3-2h0m0.1 0.2h0m0.8 1.2h0m0.3-0.1h0m0.3-1.6h0m0.2 2.6h0m1-0.8h0m0 0.9h0m0-1.5h0m0.2-0.4h0m0 1h0m0.4 0.8h0m1-0.6h0m0.2 0.4h0m0-1h0m0-1.5h0m0.1 0.5h0m0.3 1.4h0m0.4-0.3h0m0 0.8h0m0.3-0.4h0m0.1-1.2h0m0.5 0.9h0m0 0.3h0m0.1-1.8h0m0.4 0.6h0m0.2 2h0m0-0.5h0m0.2-2.3h0m0.8 0.6h0m0.4-0.6h0m1.1 1.7h0m0.6 0h0m0-0.9h0m0.4 0.1h0m0.1 1.6h0m0.4-2.7h0m0.4 2.9h0m0.9-0.3h0m0.4-1.7h0m0.2-0.9h0m0 2.6h0m0.1-0.3h0m1.1-1.9h0m2.7 2.1h0m1.2-0.6h0m0.7-0.2h0m1.3 0.8h0m0.8-0.5h0m1.4-1.9h0m4.5 0.7h0m1.6 0.5h0m0.2 1.6h0m0.5-2.2h0m0.4 0.2h0m0.1 0.7h0m0.2-0.5h0m1.4-0.5h0m0.2 1.2h0m0.2-0.7h0m1.2 1.6h0m0.3-0.7h0m0.7-1.3h0m1.6 1.4h0m1.3-0.6h0m0.4 1.3h0m0-0.3h0m0.1-2.2h0m0.8 1.9h0m2.7 0.6h0m0.9-2.8h0m0.2 0.5h0m0.7 1.6h0m1.1-0.4h0m0.9-1.6h0m0.2 2.6h0m1.5-0.4h0m0.3-1h0m0.9 0h0m0.3-0.5h0m0.4 2h0m3.3-2h0m0.5-0.1h0m-71 2.5h0m0.7 2.1h0m3-0.5h0m0.1 0.5h0m0.1-1.8h0m0.2 1.3h0m0.9-0.5h0m0.6-0.1h0m2.5 1h0m0.1 0.6h0m0.1-1.7h0m0.1 1.3h0m1.4-1.8h0m0.3 2h0m0.7-1.1h0m0.2 1.5h0m0.6-1.1h0m0.2 0.6h0m0.4-1.4h0m0.7-0.6h0m0.2 1.8h0m0.2-1.8h0m1-0.4h0m0.3 0.6h0m0.7-0.1h0m0.7 2.3h0m1.5-2.7h0m0.3 0.1h0m0 2h0m0-2.1h0m0.2 2.7h0m0.5-1.6h0m1.2 0.8h0m0.3-0.9h0m0.3 1.5h0m1-0.3h0m0.2 0.5h0m0.8-1.8h0m0.2 1.1h0m0.1-1.8h0m0.3 2h0m0.3-2.1h0m1.8-0.1h0m0.2 1.1h0m0.4-0.6h0m0.1 1h0m0.3-0.1h0m0 1.1h0m0.3-2.3h0m1.1 1.8h0m0.2-0.9h0m0.6-1.3h0m0.1 0.1h0m0.2 1.4h0m0.2-0.6h0m2.8-0.8h0m0.9 2.4h0m0.1-0.2h0m0.3-1.8h0m2.8 1.9h0m3.8 0.3h0m3.3-2.6h0m2.3 1h0m0.5 1.7h0m3.1-2.1h0m3 0.3h0m2.9 1h0m0.1 0.4h0m0.7-1.2h0m1.4-0.1h0m0.3 0.5h0m2.5-0.6h0m0.3-0.8h0m1.8 0.1h0m2.3 2.6h0m0.9-1.5h0m0.2 0.8h0m1.4-0.4h0m0.3-1.4h0m0.4 1h0m-70.5 2.8h0m7-0.9h0m2.6 2h0m0.7-0.9h0m1 0.6h0m0.4-0.1h0m0.3-1.9h0m0.4 1.9h0m0.1-1.3h0m0.6 0.4h0m0.2 1.9h0m0.6-1.7h0m0.7 0.1h0m1.1 1.2h0m1.1-2.1h0m0 1h0m0 0.9h0m0.6-0.5h0m1.1-0.9h0m0.1 1.7h0m0.1-1.4h0m0.5 0.1h0m0.2-0.9h0m0.9 0.4h0m1.3-0.8h0m3 1.7h0m0.8-0.8h0m0.3 1.8h0m0.3-2.1h0m0-0.3h0m1.1 1h0m1 1.3h0m1.2-0.7h0m1 0.5h0m0.5-1.8h0m1.7 1.1h0m4-1h0m5.6 0.4h0m2.5-0.7h0m1.7 0.4h0m4.1 0.1h0m8.4 0h0m1 1.1h0m8.6-0.8h0m1.2-0.1h0m-67.4 3.1h0m0.5 0.1h0m2.3 1.3h0m2.1-1.6h0m3.1 1.4h0m0.1-1.3h0m0.5-1h0m0.3 2.1h0m0.2-1.9h0m2 1.1h0m3.6 0.5h0m0.8-1.1h0m0.6 0.7h0m0.4-0.6h0m1.4 1h0m0.3-0.1h0m0.4 0.9h0m0.6-0.5h0m1.1-2.2h0m0.8 0.7h0m0.2 0h0m6 0.1h0m2.4-0.1h0m34.4-0.4h0m-67.9 4.7h0m4.3-0.8h0m2.6 1.3h0m6.4-1.5h0m2.7-0.1h0m2.5 0.3h0m-13.2 3h0m2.3 0.1h0m14.5-1h0" stroke="#3434dc" stroke-width="0.75" stroke-linecap="square" opacity="0.8"/>
<path d="M326.6 366.1h0m-1.6 3.5h0m26.1 0.8h0m4.5-1.4h0m1.7 1.5h0m13.1-0.1h0m-48.2 0.8h0m5.9 0.4h0m3.9-0.1h0m0.2 0.5h0m5.5-0.3h0m0.3 0.7h0m2-0.8h0m0.4 0.4h0m0.2 0.3h0m0.9-1.1h0m2.1-0.5h0m0.8 1.2h0m0.3-0.2h0m0.6 0.4h0m1.5 1.2h0m3.6-1h0m2.9 1.1h0m2.7-2h0m2-0.3h0m0.3 2.4h0m2.4-0.1h0m10.5-1h0m5.4 0.9h0m-70.1 2.6h0m2.7-2h0m12.4 1.5h0m4.1 0.1h0m5.2 0.4h0m0.3 0.3h0m2.5-1.1h0m1.3-0.7h0m0.3-0.4h0m0 0.2h0m0.5 1.5h0m0.6-0.6h0m0.8 1h0m2.1 0.1h0m0-1.7h0m2.9 1.9h0m0.1-0.1h0m0.2-1.7h0m1.4-0.5h0m0 0.7h0m0.7-0.6h0m1 0.5h0m0.7-1.1h0m0 2h0m0.4-0.1h0m0.3 0h0m1.4-1.5h0m0.2 2h0m0.5-1.5h0m0.9-0.2h0m1.1-0.2h0m0.6 0.2h0m0.1 1h0m2.6 0.1h0m0 0.5h0m0.6 0.4h0m0.1-2.2h0m0.6 1.1h0m0.1 0.9h0m0.2 0.2h0m0.1-0.8h0m1.2-1.3h0m0.1 0.9h0m0.4 1h0m1.9-0.4h0m0.6-0.3h0m2.7-1.5h0m1.4 0.5h0m0.2-0.2h0m3.1 1h0m1.5-1.6h0m10.8 2.4h0m-72.3 1.1h0m17-0.4h0m1.9 0.6h0m2.7-0.5h0m1.5-0.1h0m2.6 0.6h0m0 0.5h0m1.1-1h0m0.5 1.7h0m1.2 0.2h0m0.3-1.2h0m0.4-0.5h0m0.6 1h0m4.1 0.8h0m1.4-1.8h0m0.3 0.2h0m2.2 1.5h0m0-0.6h0m0.3-0.1h0m2-1.1h0m0.4 0.9h0m0.8-1h0m1-0.1h0m0.5 2.2h0m0.9-1.7h0m1-0.1h0m1.8 1.3h0m1.8 0h0m0.2-1.5h0m0.2 2.4h0m3.6-2h0m2.3-0.3h0m8.2 0.6h0m4.9-0.2h0m-54.6 2.3h0m2 2.6h0m8.4-0.5h0m2-0.3h0m2.3-0.1h0m1.6-0.7h0m0.9 1.7h0m1.3-0.1h0m6.2-1.3h0m0.3 1h0m4.5-2.3h0m2.5 2.3h0m7.7-0.9h0m0.8 0.2h0m1.1 0.5h0m0.2 0.4h0m0.3-1.4h0m0-1h0m6.8 2.3h0m1.7-0.9h0m8.5-1.5h0m1.8 0.2h0m-62.8 5.6h0m17.9-0.8h0m4.4-2.1h0m5.6 2.2h0m8.9-2.1h0m1.2 2.2h0m0.8 0.6h0m10-2.4h0m1.3 1h0m0.6-1.2h0m5.6 1.9h0m1.3-2.1h0m0.9 0.3h0m-42.9 2.8h0m6 1.5h0m5.9 0.1h0m0.1-0.2h0m1.7 0.5h0m8.6-2h0m4.3 1.2h0m5 0.7h0m2.2 0.2h0m6.1 0.2h0m-37.8 2.1h0m3.3 0h0m6.5 0.5h0m1.7-2.1h0m1.2 2.1h0m0.6 0.3h0m1.1-2.3h0m2.7 2.7h0m0.1-0.3h0m2-0.5h0m1.7-1.3h0m1.3 2.1h0m0.4-2.1h0m1.3 0.2h0m0.1 0.9h0m0.2-0.1h0m0 1.1h0m2.3-1h0m0.5 1.1h0m0.4-0.5h0m0 0.3h0m1.1 0.2h0m1-0.9h0m2 0.7h0m0.7-2.4h0m2.3 1.2h0m0.4 0.7h0m0.9-1.7h0m0 2h0m0.2-1.8h0m1.3 2.2h0m1.2-1.5h0m0.9 0.6h0m0-0.3h0m0.2 0.7h0m3.4-1.3h0m-52.4 4.9h0m4.3-1.2h0m1.6-1.5h0m2 0.9h0m1 0.7h0m2.4 0.4h0m0.4 0.3h0m0.5-0.3h0m1.5-0.4h0m2.7 0.1h0m0.4-1.4h0m0.1 0.2h0m0.6-0.3h0m0.4 1.8h0m2.7-2.2h0m0.3 0.7h0m0.4 1.3h0m2 0h0m0.7 0.5h0m0.3 0.2h0m0.2-0.1h0m0.7-0.6h0m0.1 0.6h0m2-0.7h0m0.2-0.7h0m0.3-0.1h0m2.8-1h0m0 1h0m0.1 1.2h0m0.3-1.8h0m0.5 0.7h0m0.4-0.3h0m0.1 1.1h0m1.4-0.1h0m2-2h0m0.8 0.2h0m0.1 1.4h0m0.5-1.3h0m1.1 0.6h0m1 0.9h0m0.1-0.3h0m0.9-0.1h0m0.1-1.2h0m0.5 2.3h0m0.2 0h0m0.9 0.4h0m0.2-1.1h0m0.5-0.3h0m0 1.4h0m0.1-0.5h0m0.1-1.9h0m0.1-0.4h0m0.8 0.1h0m0.1 0h0m0.2 2.6h0m0.2-0.9h0m0.3-1.1h0m0 0.9h0m0.1-0.3h0m0-0.9h0m0.1 1.3h0m0.2 0.9h0m0.3-0.1h0m1.3-1.9h0m0.7 2h0m0.3 0.1h0m0.6 0h0m0.3-2.7h0m1 1.9h0m0.1-1.6h0m0.3 0.8h0m0.7 0.6h0m0.6 0.6h0m0.7 0h0m0-1.1h0m3 0.7h0m-70 1.9h0m2.1-0.1h0m2.9 1.3h0m3.8 0.4h0m1.3-1.8h0m1 0.5h0m0.4-0.8h0m0.3 2h0m1.4-0.3h0m0.9 0.6h0m2.8-1.6h0m1.1 1.1h0m0.8-0.9h0m0.5-1h0m0.4 0.5h0m0.1 1.4h0m0.5 0.3h0m0.5-0.2h0m0.3-1.6h0m0.6 1h0m0.5-0.8h0m0.1 1.1h0m0.7 0.4h0m1.6-1.9h0m0.2 1.1h0m0.4-0.4h0m1 0.8h0m0.3 0.2h0m0.2-1.5h0m0.2 0.5h0m0.1-1h0m0.2 0.7h0m0.6 0.5h0m0.6-1.1h0m0.4 2.5h0m0.6-2.1h0m0.4 1.8h0m0-0.3h0m1.1-1.2h0m0.3 0.9h0m0.5 0.3h0m1.5-1.4h0m2.4 1.6h0m0.5-1.1h0m1.5-0.8h0m0.1 2.1h0m0.6-1.4h0m0 1.8h0m1.1-1.2h0m1.3-1.1h0m0.5 0h0m0.4-0.4h0m0.5 0.2h0m0.1 2.4h0m0.4-1.5h0m0.4 0.3h0m0.2-1.4h0m3.5 0.2h0m0.7 2.5h0m0.2-1.9h0m0.4 0.8h0m1.1 0.7h0m0.5-0.3h0m0.3 0.4h0m0.4-0.5h0m0.2-1.3h0m0.1 1.9h0m0.2-1.8h0m0 0.6h0m0.1 0h0m0.2-1.5h0m0.6 1.3h0m0.5 0.9h0m0.2 0.5h0m0.5-1.6h0m0.1 0.4h0m0.3-1.4h0m0.4 2.5h0m0.2 0h0m0.6-0.8h0m0.4-0.4h0m0.7 1.2h0m0-2.2h0m2.6 1.3h0m0.2-0.5h0m0.6-1.2h0m0.3 1.1h0m0.1 0h0m0.9-0.4h0m0.1 1.3h0m0.7-1.5h0m0-0.2h0m0 2.4h0m0-1.7h0m0.8 0.5h0m0.2 0.5h0m0.1 0.2h0m0.7-1.5h0m0 0.9h0m0.4 0.3h0m0.3 0.4h0m0.5-2.1h0m0.2 1.4h0m1.5-0.1h0m0.9 0.4h0m0 0.9h0m0.2-1.1h0m1.9-0.8h0m0.8 1.1h0m-66.7 2.4h0m1.2 0.4h0m3.9-0.5h0m0.7-0.1h0m0.4-0.5h0m0.3 1.6h0m0.6 0h0m1.4 0.5h0m0.3-1.3h0m3.6 1.1h0m0-0.1h0m0.1 0h0m0.4 0.2h0m0-2.1h0m1.8 1.2h0m0.1-1.2h0m1.8 0.9h0m0.3-1.6h0m0.3 2.7h0m0.3-1.8h0m0.1 1.4h0m0.3-1.6h0m0.6 0.5h0m0.3 1.4h0m0.2-0.1h0m0.1 0.5h0m0-1.5h0m0.2 0.5h0m0.2-0.4h0m0.4-1.5h0m0.5 2.7h0m0.1-1.5h0m1.1 0.7h0m0.2-1.8h0m0.1 2.8h0m0.4-1.2h0m0.4 0.4h0m0.9-0.8h0m0.4-0.5h0m0.2 0.4h0m0 1.1h0m0.6 0h0m0.2-0.6h0m0.5-1.4h0m0.3 1.7h0m0.2-0.2h0m0.1 0.2h0m0.9 0.6h0m0.1-1.2h0m0.1-0.7h0m0.1 1.1h0m0.2 0h0m0.2 0.4h0m0-2.2h0m0.1 0h0m0.8 1.7h0m0.1-1.5h0m0.5 0.6h0m0.3 2.1h0m0.2-1.8h0m0.1-0.9h0m1.4 0.4h0m0.2 0.2h0m0.9 1.9h0m0.2-2.6h0m0.1 1h0m1.1 1.6h0m0.1-1.1h0m0-1h0m0.6 0.6h0m0.3-0.3h0m0.7 0.5h0m0.5 1.2h0m0.7-1.6h0m0.3 1.1h0m1.3 0.4h0m0.4-0.4h0m2-1.2h0m0.4 0h0m0.1 1.1h0m1.7-0.8h0m0.4 1.4h0m0.9-2.1h0m0.9 1.8h0m0.1-1.7h0m0.3 1h0m0.1-0.7h0m0.2 0.8h0m0.5-1.6h0m0.4 1h0m0.2 0.5h0m1.5 0.7h0m0.4-2.1h0m0.5 1.7h0m0.2-0.2h0m0.7-1.7h0m0.5-0.1h0m0.7 2.1h0m0.7-1.7h0m0 0.8h0m0.2 0h0m0.1-1h0m1 0.1h0m0.2 1.4h0m0.4 0.7h0m0-0.7h0m0.5-0.6h0m0.2 0h0m0.2 0.1h0m0 1.2h0m0.3-1.3h0m0.2-0.3h0m0.3-0.5h0m0.1 1.1h0m1.3-1h0m0.1 0.3h0m0.1 1.5h0m0.5-1h0m1.5 1.4h0m0.3-2.6h0m0.4 2.1h0m0.2-0.1h0m0.3-1.5h0m0.1 2.4h0m0.7 0.1h0m0.7-0.7h0m0.9 0.5h0m2.3-1.8h0m1.3 1.1h0m0.7-0.1h0m-75.8 2.7h0m9.4 1.1h0m0-1.4h0m1.5 1h0m1.9-1.1h0m5.2-0.3h0m2.8 1.6h0m0.6-0.7h0m0-1.4h0m0.1 1.9h0m0.1-1.7h0m0.1 1.5h0m0.3-1.8h0m0.2 0.9h0m0.1 0.5h0m0-0.7h0m0.1 0.6h0m0.3 0.4h0m0.2 0.7h0m0.1 0h0m0.1-0.8h0m0.2-0.2h0m0-1.3h0m0.1 1.8h0m0.2-1.4h0m0.2 0.7h0m0-0.2h0m0.3 0h0m0.5 1.6h0m0.3-0.8h0m0-1.2h0m0.2 0.9h0m0.4 0.7h0m0.4-1.4h0m0.3 0h0m0.6-1.1h0m0.4 0.2h0m0.2 0.3h0m1.3 0.1h0m0.4 1.8h0m0.6-0.1h0m0.4-1.7h0m0.2 0.8h0m0.1 0.6h0m0.3-0.1h0m0.2 0.6h0m1.5-2h0m0.2 0.2h0m0.4-0.8h0m0.3 1.4h0m0.1 0.3h0m0.3 0h0m0.6-0.8h0m0.6-0.8h0m1.3 1h0m0.1 0.6h0m0.2-0.3h0m0.1-1.3h0m0.7 0h0m0.6 0.2h0m0 1.4h0m0.3 0.9h0m2.4-0.9h0m1.3-0.1h0m0.3 0.8h0m1.7-0.1h0m0.8-0.6h0m0.6-1h0m0.1 1.6h0m3.5-1.1h0m0.6-1.1h0m0.1 1.9h0m2.5-0.4h0m0.3-0.7h0m0.2 0.1h0m0.5-0.9h0m0.9 0.1h0m0.6 1.9h0m0.7-1.6h0m0.3-0.1h0m0.3 0h0m0.7 2.5h0m1.8-0.5h0m0-1.9h0m1.6 1h0m0.3 1.1h0m0.8-1.9h0m0.3 0.5h0m0.3 0.5h0m0.4-0.4h0m0.8 0.8h0m0.5-1.6h0m0.3 0.4h0m0.8 1.1h0m1.1 0.2h0m0.1-1.1h0m1.5 1.7h0m0.4-1.1h0m0.2-1h0m0.5-0.4h0m0.8 0h0m0.8 0.5h0m2 0.8h0m2.3-1.2h0m-75.6 2.8h0m7.5 1.2h0m0.7-0.1h0m0-1.2h0m1.6-0.1h0m2 0.2h0m2.4 2.8h0m0-1h0m1.7-1h0m0.1 0.3h0m0.5 0h0m0.2-1.2h0m0.1 2.2h0m0.1-1.3h0m0 0.3h0m0.9 1.6h0m0.1 0.1h0m0.3-2.9h0m1 0.8h0m1.3-0.4h0m0.9 2h0m0.1-1.1h0m0.5-1h0m0.3 0.5h0m0.6-0.6h0m0.2-0.2h0m0.5 0.6h0m0.3-0.6h0m0.9 2.4h0m0.1-1.4h0m0.2-0.5h0m0.4-0.3h0m0.3 1.9h0m0.3-0.1h0m0.5-1.4h0m0.8 0.3h0m0.2 1.7h0m0.1 0.2h0m0.3-0.7h0m0.1-2.2h0m0.4 0.8h0m1.3 0h0m0.3-0.5h0m0.1 2.3h0m0-0.7h0m0.3-1.2h0m0.8 1.2h0m0.6 0.9h0m0.6-0.5h0m1.6-0.5h0m0.1-0.9h0m0.4 1.9h0m0.2-0.1h0m0.4-2h0m0.4 0.4h0m0-0.3h0m0.1-0.4h0m1 0.7h0m0.3-0.2h0m1.7 1.5h0m1.9-0.8h0m5.7 0.5h0m3.6 0.1h0m2.1-0.5h0m0 1.2h0m0.1-2.5h0m1.9 2.2h0m0.5-1.7h0m4.4 0.5h0m2.7-1.3h0m1.6 0.2h0m1.9 0h0m1.5 1.6h0m7.8-0.2h0m1-0.9h0m-74.9 2.7h0m0.3 1.4h0m1.5-1h0m3.1-0.6h0m0.7 2.3h0m1.6-2.2h0m1.2 0.9h0m0.4 1.5h0m0.8-0.5h0m0.9 0.3h0m0.7-0.9h0m0.3-0.3h0m0.8 0h0m1.7-0.5h0m1.3 2h0m0.9-1.1h0m1.2 0.4h0m0.8 0.1h0m0.1 0.2h0m0.1-0.7h0m0.7-0.6h0m1-0.7h0m1.4 1.8h0m0.6-1.8h0m0.4 1.2h0m0.4-0.3h0m0.1 1.2h0m0.1-1.2h0m0.4 0h0m0.9 1.2h0m0.2-1.1h0m0.1 0h0m0.2-0.8h0m2 1.5h0m1.2-1.6h0m0.9 0.9h0m0.9-0.2h0m0 0.6h0m0.6 0.8h0m1.9-2.4h0m0.9 1.2h0m0-0.4h0m0 0h0m0.4-0.6h0m0.2-0.2h0m1.1 0.6h0m0.5 1.3h0m22.2-1.3h0m0.6 0.7h0m11.3-0.3h0m-68.9 4.4h0m6-0.7h0m0.6 0.1h0m0.5-0.1h0m0 0.2h0m1-0.3h0m0.7-0.4h0m0.7 0.4h0m1.4 0.9h0m0.8-0.5h0m0.3-0.8h0m1 1.3h0m0.2-2.8h0m0.6 1.6h0m2.6-1.5h0m1.1 0.9h0m0.1-0.4h0m0.6 0.9h0m0.7-0.4h0m0.4-0.5h0m1 0.5h0m0.6-0.7h0m1.2-0.4h0m0.7 2.4h0m0.1-1.5h0m3.7 0.6h0m0.4 0h0m1.1-0.6h0m1.2-0.1h0m0.1 1h0m3.9-1.6h0m21.6 0.9h0m1.1 0.4h0m-54.4 4.3h0m1.7-2.7h0m0.2 2.5h0m6-1.6h0m1.4-0.3h0m0.1 1.2h0m6.5-1.8h0m2.3 0.2h0m33.3 2.3h0m-41.6 0.4h0m7.6 1.8h0" stroke="#7070f0" stroke-width="0.75" stroke-linecap="square" opacity="0.65"/>
<g filter="url(#fblur)">
<ellipse cx="334" cy="402" rx="21.00" ry="6.40" transform="rotate(-18 334 402)" fill="#2a30dc" opacity="0.95"/>
<ellipse cx="334" cy="402" rx="16.80" ry="4.86" transform="rotate(-18 334 402)" fill="#1aa0e8" opacity="1"/>
<ellipse cx="334" cy="402" rx="14.70" ry="4.10" transform="rotate(-18 334 402)" fill="#25d85a" opacity="1"/>
<ellipse cx="334" cy="402" rx="9.24" ry="2.69" transform="rotate(-18 334 402)" fill="#9af08a" opacity="1"/>
<ellipse cx="334" cy="402" rx="6.30" ry="2.05" transform="rotate(-18 334 402)" fill="#f4a0a0" opacity="1"/>
<ellipse cx="334" cy="402" rx="3.99" ry="1.41" transform="rotate(-18 334 402)" fill="#e4283c" opacity="1"/>
<ellipse cx="368" cy="397" rx="7.00" ry="3.50" transform="rotate(-10 368 397)" fill="#3a3ce0" opacity="0.45"/>
</g></g>
<rect x="304.5" y="345.4" width="77.39999999999998" height="72.30000000000001" fill="none" stroke="#8a8a9a" stroke-width="0.7"/>
<line x1="354.7" y1="345.4" x2="354.7" y2="417.7" stroke="#45454f" stroke-width="1.0"/>
<line x1="304.5" y1="389.3" x2="381.9" y2="389.3" stroke="#45454f" stroke-width="1.0"/>
<path d="M396.2 348.3h2.6M397.5 352.3h1.3M397.5 356.2h1.3M397.5 360.2h1.3M396.2 364.2h2.6M397.5 368.2h1.3M397.5 372.2h1.3M397.5 376.1h1.3M396.2 380.1h2.6M397.5 384.1h1.3M397.5 388.1h1.3M397.5 392.0h1.3M396.2 396.0h2.6M396.2 405.4h2.6M396.2 414.1h2.6M410.9 417.7v2.4M415.6 417.7v1.2M420.3 417.7v1.2M425.0 417.7v1.2M434.4 417.7v2.4M439.1 417.7v1.2M443.8 417.7v1.2M448.5 417.7v1.2M453.8 417.7v2.4M458.5 417.7v1.2M463.2 417.7v1.2M467.9 417.7v1.2M471.7 417.7v2.4" stroke="#555" stroke-width="0.45" fill="none"/>
<text transform="translate(395.6,349.5) rotate(-60)" font-size="3.2" text-anchor="middle" font-family="Liberation Sans, sans-serif" fill="#666">10⁵</text>
<text transform="translate(395.6,365.4) rotate(-60)" font-size="3.2" text-anchor="middle" font-family="Liberation Sans, sans-serif" fill="#666">10⁴</text>
<text transform="translate(395.6,381.3) rotate(-60)" font-size="3.2" text-anchor="middle" font-family="Liberation Sans, sans-serif" fill="#666">10³</text>
<text transform="translate(395.6,397.2) rotate(-60)" font-size="3.2" text-anchor="middle" font-family="Liberation Sans, sans-serif" fill="#666">10²</text>
<text transform="translate(395.6,406.6) rotate(-60)" font-size="3.2" text-anchor="middle" font-family="Liberation Sans, sans-serif" fill="#666">0</text>
<text transform="translate(395.6,415.3) rotate(-60)" font-size="3.2" text-anchor="middle" font-family="Liberation Sans, sans-serif" fill="#666">-10²</text>
<text x="410.9" y="424.0" font-size="3.2" text-anchor="middle" font-family="Liberation Sans, sans-serif" fill="#666">0</text>
<text x="434.4" y="424.0" font-size="3.2" text-anchor="middle" font-family="Liberation Sans, sans-serif" fill="#666">10²</text>
<text x="453.8" y="424.0" font-size="3.2" text-anchor="middle" font-family="Liberation Sans, sans-serif" fill="#666">10³</text>
<text x="471.7" y="424.0" font-size="3.2" text-anchor="middle" font-family="Liberation Sans, sans-serif" fill="#666">10⁴</text>
<rect x="396.90000000000003" y="406.2" width="1.6" height="2.6" fill="#222"/>
<rect x="404.3" y="418.3" width="2.6" height="1.5" fill="#222"/>
<text x="400.4" y="349.9" font-size="3.6" text-anchor="start" font-family="Liberation Sans, sans-serif" fill="#444">Q1</text>
<text x="400.4" y="354.9" font-size="3.6" text-anchor="start" font-family="Liberation Sans, sans-serif" fill="#444">1.50</text>
<text x="475.4" y="349.9" font-size="3.6" text-anchor="end" font-family="Liberation Sans, sans-serif" fill="#444">Q2</text>
<text x="475.4" y="354.9" font-size="3.6" text-anchor="end" font-family="Liberation Sans, sans-serif" fill="#444">3.28</text>
<text x="400.4" y="410.2" font-size="3.6" text-anchor="start" font-family="Liberation Sans, sans-serif" fill="#444">Q4</text>
<text x="400.4" y="415.2" font-size="3.6" text-anchor="start" font-family="Liberation Sans, sans-serif" fill="#444">84.3</text>
<text x="475.4" y="410.2" font-size="3.6" text-anchor="end" font-family="Liberation Sans, sans-serif" fill="#44a">Q3</text>
<text x="475.4" y="415.2" font-size="3.6" text-anchor="end" font-family="Liberation Sans, sans-serif" fill="#44a">10.9</text>
<clipPath id="cP3"><rect x="398.8" y="345.4" width="78.19999999999999" height="72.30000000000001"/></clipPath>
<g clip-path="url(#cP3)">
<path d="M463.3 367.2h0m-50.8 2.9h0m37.1-0.9h0m9.8 0.3h0m3.5 0.1h0m0.2 0.7h0m1.7 0.1h0m0.6-0.8h0m2.8-1.3h0m1.8 0.9h0m1.7-0.5h0m-66 4.4h0m8.3-1.8h0m0.1 1.9h0m3.2-0.2h0m4.9-1.6h0m3-0.7h0m1.6 0.9h0m0.7 1.1h0m0.3 0.8h0m12.1-2.2h0m3.7-0.5h0m2.2 2.2h0m0.8-1h0m0.1 0.2h0m0.4-0.4h0m2.9-1h0m1 1.7h0m0.3 1h0m0.3-0.8h0m3.7-1.2h0m1.3-0.2h0m0.6-0.1h0m2.2 1.9h0m0.4-0.3h0m0.5-0.3h0m0.4-1.8h0m0.5 2.3h0m1.8 0h0m0.8-1h0m0 0h0m0.1 0.4h0m0.4 0.2h0m1.1 0.4h0m5.3-2.4h0m0.1 0.5h0m0.6 2.1h0m1-0.8h0m0.8 0.4h0m0.2 0.6h0m0.2-1.8h0m-74.2 4.2h0m6.2 0.3h0m6.5 0.2h0m4.7-2.8h0m1.2 0.9h0m0.3-0.6h0m1.1 0.2h0m0.2 0.8h0m0.3-0.9h0m1.7 0h0m1 2.3h0m0.6-0.4h0m2.3-0.5h0m0.1-1.8h0m0.4 2.1h0m2.5 0.4h0m0.3-0.8h0m0.3-0.3h0m0.9-0.6h0m0.2 0h0m1.1 0.5h0m0.5 1.6h0m1-2.1h0m0.2 0.5h0m0.1-1.2h0m0.8 2.1h0m1.2-0.4h0m0.9 0.7h0m0.6-1.6h0m0.4-0.1h0m0.3 1.8h0m0.7-0.2h0m0.1-2.1h0m3.9 2.3h0m0.2-1.3h0m1.7-0.1h0m1.4-0.9h0m0.3 1h0m3-0.1h0m1.1 0.6h0m2.6-0.7h0m1.3 1.9h0m0-2.3h0m0.4 0.9h0m0.9-1.1h0m0 1.2h0m0.2-1.4h0m0.4 0.1h0m0.1 1.6h0m0.2 0.6h0m0.4-1.7h0m1.5 2h0m0.2-1h0m0.1-0.6h0m0.3-0.1h0m0.3-0.8h0m0.4 2.6h0m0.1-0.2h0m0.2-0.1h0m0.1 0.1h0m0.9-1.3h0m0.2 1.2h0m0.3-1.6h0m0-1h0m0.5 0.5h0m1.2 1.8h0m0.2-2.2h0m0.1 2.1h0m0.3 0.5h0m0.3 0h0m0.5-0.4h0m1.1 0.5h0m0.1 0h0m0.9-1.7h0m0 1.5h0m0.3-0.5h0m0.1-1.9h0m0.7 1.9h0m1.5-0.6h0m0.4 1.2h0m1.6-1.5h0m0 0h0m0.1 0h0m0.2 1.4h0m0.1-1h0m0.1-1.6h0m1.3 0.7h0m0.7-0.4h0m1.3 2.1h0m0.3 0h0m-71.2 2.5h0m2.7-1.4h0m6.8 0.1h0m5.6 1.3h0m8-1.3h0m1.2 1.5h0m1.1-1.1h0m0.6-0.8h0m0.4 2.3h0m0.3-0.4h0m0.7-0.3h0m0.9-1.1h0m0.1 0.2h0m0.1-0.3h0m0.6 1.1h0m0.4-0.9h0m0.1 1.8h0m1.3-0.8h0m2.8-1.4h0m1.7-0.4h0m0.2 0.9h0m2.5-1h0m0.3 2.6h0m0.3-1.7h0m2.7 0.5h0m1.1-0.2h0m0.6-0.4h0m1.5-0.5h0m1.8 2.1h0m0.3-1.2h0m1.9 0.7h0m0.7-0.3h0m3.1-0.6h0m0.2 0.8h0m0-1.8h0m0.5 2.5h0m2.7-0.4h0m0.3 0.7h0m0.9-0.8h0m0 0.2h0m0.1-0.5h0m1.4-0.7h0m0 0.7h0m0.1-1.6h0m0.3 0.2h0m0.5 2.1h0m0.1-1.3h0m0.1 0.9h0m0.3 0.6h0m0-2.1h0m0.3 2.3h0m0.1-1.3h0m1 1.3h0m0.1-0.8h0m0.1-0.6h0m1.6-1h0m0.8 1.9h0m0.6 0.3h0m0.2-0.9h0m1-0.3h0m0.3-1.1h0m0.7 1.4h0m1.1 1.1h0m0.4-1h0m1.4-1.6h0m0.4 2.2h0m2.1-1.6h0m0.9 1.9h0m-67.1 0.7h0m4.4 0.8h0m3.9 0.6h0m6.6-1.3h0m2.1 2h0m6.6-2.3h0m1.7 2.1h0m9.4-0.9h0m1.8-0.8h0m3.1 0.7h0m2.5 0.1h0m1.2 0.1h0m0.1 0.3h0m0.8-1.7h0m0.3 2.1h0m0.4-0.2h0m0.8 0.3h0m0.7-1.7h0m0.7 0.5h0m0.3 0.3h0m0.3 1h0m0.7-1h0m0.1 0.7h0m0.4 0.5h0m0-0.3h0m0.4-0.5h0m0.3-1.8h0m0.4 1.3h0m0.3-0.2h0m0.2 1h0m0.2-1.2h0m0-0.6h0m1.1-0.2h0m0.1 1.8h0m0.5 0.2h0m0.4 0.1h0m0.3 0.2h0m0.7-1.4h0m0.1 0.6h0m0.3-0.8h0m0-0.7h0m0.6 1.2h0m0 1h0m0-0.9h0m0.5-0.7h0m0.4 0.5h0m1.3-0.8h0m0.4 2.4h0m0.3-1.1h0m0.8 0.2h0m0.4-1.3h0m0.2-0.2h0m0.9 0.4h0m0.3 1.8h0m0-0.6h0m1.4-0.2h0m1.8 0.6h0m1.6-0.8h0m0.5-1.3h0m-62.8 5.2h0m4.3-1.3h0m7.3-0.1h0m10.4 1.8h0m9.4-0.7h0m4.6 0.5h0m1-2.5h0m3.5 1.9h0m0.3 0.1h0m0.6-0.1h0m1.4 0.9h0m0.7-2.5h0m0.6 0h0m2.5 0h0m1.2 0.4h0m1 0.8h0m0.8 1.2h0m0.5-2.2h0m0.7 2.1h0m0.4-0.4h0m1.1-1.8h0m0 1.2h0m0.3-0.6h0m0.8-0.8h0m1.1 1.1h0m0-1.4h0m0 1.7h0m0.5-1.5h0m0.2 0.8h0m0.4-0.3h0m0.2-0.7h0m2.1 2.8h0m0.9-2.7h0m1.6 1.1h0m1.8 1.5h0m-50.9 0.6h0m11.1 2.5h0m2-1.2h0m6.3 0h0m0.6 0.7h0m3.3-0.5h0m0.7-0.4h0m1.4-1h0m0.9 1.5h0m2.6 0.4h0m2.2-1.3h0m0.8-0.9h0m0.7 0.9h0m0.5 1.4h0m2.8-0.8h0m0.6-0.2h0m0.9-0.7h0m1.4 1.8h0m0.4-1.4h0m1.5-1.2h0m0.8 1.4h0m0.6-0.2h0m0.4 1.2h0m2.4-1.3h0m0.2 1.3h0m0.7-0.1h0m6.4-1.3h0m0.1 1.2h0m1.2-0.6h0m-59.1 3.1h0m10.2-1.1h0m6 2.1h0m4.9-1.4h0m2-1h0m0.9 0.2h0m0.5 2.4h0m5.3-0.4h0m3.4 0h0m2.5-1.8h0m0.7 1.3h0m0-0.9h0m2.4 0.9h0m1 0.7h0m0.3-2.1h0m0.3 0h0m0.8 2h0m0.2-1.2h0m0.6 0.9h0m0.4-0.7h0m0-0.2h0m0.3 0.5h0m0.8 0.1h0m0.4-1.9h0m0.6 1.9h0m0.3-1.6h0m0.8 0.3h0m0.3-0.2h0m2.7 1.1h0m1.9 0.9h0m0.2 0.4h0m1.9-1.5h0m0.4-1.1h0m0.2 1.1h0m0.1 0.7h0m4.3 0.4h0m-54.9 0.9h0m1.1 0.7h0m2.2-0.9h0m12.5 1.8h0m1.4-0.3h0m1.4 0h0m0.5 0.7h0m4.1-2.1h0m0.7 0.2h0m2.1 0.3h0m0.4 0.6h0m0.4 0.3h0m0.1-0.8h0m2.3 0.8h0m3.8 0.6h0m0.1-0.1h0m1.8 0.3h0m0-0.7h0m1.4-1h0m0.4 0.5h0m0.8-0.1h0m0.4-0.1h0m0.3-0.7h0m0.8 2.2h0m0.4-1.8h0m0.1 0.8h0m0.4-1.5h0m0.5 1.5h0m0.2 0h0m0.2-0.4h0m0-0.3h0m0.2 0.5h0m0.2-0.7h0m0.8 1.9h0m0.1 0.2h0m0-1.8h0m0.1 1.7h0m0.5-2h0m0.8 0.3h0m0 1.3h0m0.9 0.6h0m0-0.5h0m0.1 0.5h0m0.4-1.4h0m0.5 1.3h0m0.3-0.6h0m0.3-1.5h0m0.7 0.2h0m0.5 1.2h0m0.3-0.4h0m1.5 0.6h0m0-0.8h0m0.4-0.2h0m0.2 0.8h0m0.9 0.2h0m0-0.9h0m1.8 0.5h0m1-0.7h0m1.1-0.5h0m0.4 1h0m0.4 0.1h0m-73.7 2.8h0m0.6-0.5h0m9.9 0.9h0m1.8-1.4h0m1 0.7h0m0.8 0.1h0m4.5 1h0m0.2-0.8h0m1.1 1.2h0m1.7-1.4h0m0 1.1h0m4.5-0.5h0m1.7-0.1h0m0.4 0.7h0m0.3-0.8h0m1 1.1h0m0.2-1.4h0m0.2 1.4h0m0.7-2.2h0m3.2 1.5h0m0.4-1.1h0m0.2-0.2h0m0.6 1.3h0m0.9-1.7h0m0.3 1.2h0m0.3 0.8h0m2.1-1.9h0m0.5 1.5h0m1.1-0.7h0m0.3-1h0m1.2 1h0m0.5 0.4h0m0 0.7h0m0.6 0h0m0.2-1.1h0m1.1-0.7h0m0.2-0.5h0m0.2 2.3h0m0.7 0.2h0m0.2-2.3h0m0 1.4h0m0.5 0.7h0m0.2-2.1h0m0 0.2h0m0.2 0.1h0m0.2-0.3h0m1.6 2.1h0m0.2-1.8h0m0.2 1.3h0m0-0.4h0m0.7-0.1h0m0.8-0.3h0m0.1 0h0m0.1 1.3h0m0.8-2.1h0m0.9 1.4h0m0.3 0.4h0m0 0.5h0m0.2-1h0m0.6 0h0m0.5-1.4h0m0.9 2.1h0m0.6 0.5h0m1-0.1h0m0.1-1h0m0.5 0.9h0m0.2 0.2h0m0.5-2.7h0m0.2 1.8h0m0.3 0.6h0m0.1-2h0m0 1.1h0m0 0.4h0m0 0.5h0m0.2 0.1h0m0.1-1.6h0m0 1.8h0m0.1 0.1h0m0-2.2h0m0.1 1.8h0m0.3-0.3h0m0.6-1.8h0m0 0.2h0m0.1 2.1h0m0-0.8h0m0.2 0.8h0m0.2-1.1h0m0.4 0.2h0m0.2-0.6h0m0.1-0.2h0m0.2 1.2h0m0.5-0.2h0m0 0h0m0.5-0.4h0m0 0.6h0m0.2-0.1h0m0.4 0.2h0m0.3-0.3h0m0.3 0h0m0.1 0.3h0m0.1-0.5h0m0.1-1.2h0m0.4 1.5h0m0.2-1.5h0m0 1.4h0m0.9 0.3h0m1.4 0.1h0m1.4-1h0m0.1 0.5h0m0.2 0.6h0m0.9-1.5h0m0-0.4h0m0.9 1.8h0m0.2-0.5h0m1.5-1h0m0.1 0.7h0m0.1-0.1h0m0 0.8h0m0.5-0.1h0m0.2-0.4h0m0.1-0.9h0m0.9 2h0m0.6-0.9h0m0.6-0.1h0m0.3-2h0m-71.7 3.7h0m3.2 1.7h0m1.3-0.4h0m2.2-0.5h0m2.9 1.1h0m3.8 0.4h0m1.3-0.4h0m0.2-0.9h0m1.2 1.1h0m0.1-2h0m0.6 0.3h0m0.4 1.7h0m2.5-0.6h0m1.9-1.8h0m0.1 1.8h0m0.1-0.9h0m0.5 1.4h0m2.3-2.2h0m0 2.4h0m0.5 0h0m0.3-0.6h0m0.6-0.2h0m1.3-0.5h0m0.8-1.6h0m0.7 2.4h0m0.7-1h0m0.1 1h0m0.6-0.2h0m0.1-1.4h0m1.5 1.9h0m0.1 0.3h0m0.3-1.1h0m0.7 0.9h0m1-0.8h0m0.4-1.2h0m0.4 1.2h0m0.2-0.2h0m0 1h0m0.1-2.4h0m1.1 2h0m0.3-0.6h0m0.8-1.4h0m0.2 0.1h0m0 0h0m0.3 2.3h0m0.8-2.4h0m0.1 1.9h0m0.6-1.5h0m0-0.7h0m0.3 0.2h0m0.7 2h0m1-0.6h0m0.7 0.8h0m2.2 0.2h0m0.1-0.2h0m0.2-2.5h0m0.6 0.2h0m0.1 2.5h0m0.4-1.4h0m0 1.4h0m1.3 0.3h0m0.7-1.1h0m0.6 0.6h0m0.1-2.1h0m0.7 1.9h0m0.4-0.1h0m0.3 0.8h0m0.2-2.6h0m0.2 1.1h0m0.6-0.6h0m2 0.5h0m0.4 0.4h0m0.5 0.3h0m0.2 0.6h0m0.2 0.2h0m0.3-2.5h0m0 1.8h0m0.1-0.6h0m0.1 0.2h0m0.2-0.5h0m0 1.4h0m1.1-2.6h0m0.2 1.3h0m0.2-0.5h0m0.9 1.5h0m0.3-2h0m0.1 2.5h0m0-0.8h0m0.2-0.6h0m0.1 1.4h0m0-2.6h0m0.1 0.7h0m0.1 0.2h0m0.3-1.1h0m0.2 0.5h0m0.6 0.1h0m0 1.5h0m0.3 0.3h0m0-2.3h0m0.1 0.9h0m0.1 1.4h0m0.2-1.3h0m0.8 1.4h0m0.8-1.6h0m0.6-0.1h0m0.7 2.1h0m0.2-0.9h0m0.5-0.1h0m0.2 0h0m0.1-0.4h0m0.8 0.2h0m0.6 0.5h0m1.1-0.3h0m3.2 0.9h0m0-0.6h0m1.1-1.9h0m0.5 0.4h0m0.2-0.3h0m-66.9 5.1h0m1.9 0.1h0m1.5-0.1h0m1.4 0.1h0m0.9-2.6h0m0.6 2h0m1.1-0.8h0m0.1 1.1h0m0.1-0.4h0m0.1-0.1h0m1.7 0.7h0m1-0.3h0m0.2-1.9h0m0.1 0.5h0m0.6 1.5h0m0-1.7h0m0.2 0.9h0m0.7-0.8h0m0.1 2h0m0.6-2.2h0m0.4 0.2h0m0.1 0.5h0m0.9 1.4h0m0.1-0.5h0m0.2-0.9h0m0.7 1.3h0m0.4-2.6h0m0.4 2.3h0m0-1.3h0m0.5 1.7h0m0.3-2.4h0m0.5 1.1h0m0.2-0.1h0m0.6-0.7h0m0.4 0.6h0m0.1 1.5h0m0.2-2.4h0m0-0.2h0m0.8 2.8h0m0.2-2.2h0m0.6 0.9h0m0.2-0.8h0m0.6 1.3h0m0 0.3h0m0.3 0h0m0.2-0.3h0m0.4-0.1h0m0.2-0.4h0m0.2 1.3h0m0.5-0.2h0m0.6-1.4h0m0.2 0.1h0m0.5 1.4h0m0-2.5h0m0.2 0h0m0 0h0m1.2 2.5h0m0.3-2.6h0m0.1 1.5h0m0-0.4h0m0.1-0.2h0m0.3-0.4h0m1.2 1.8h0m0.4-0.5h0m0.2 0.1h0m0.7 0.2h0m0.2-0.6h0m1.3-1.7h0m1.7 2.1h0m0.1-1.1h0m1.3 1.4h0m0.3-1.5h0m0.4-0.4h0m0.4 0.2h0m0.2 0.9h0m1.1-0.3h0m0.1-1.1h0m0.4 0.5h0m0.3 1.5h0m0.5-0.2h0m0.1-1.4h0m0.5 2.4h0m0.8-0.5h0m0.6-1.8h0m0.3 0.5h0m0.2 0.2h0m0.8-0.2h0m1.1-0.9h0m0.1 1.2h0m0.7 0.8h0m0-1.4h0m1.3-0.7h0m0.6 1.8h0m0.2 0.3h0m0.2-1.3h0m1.1 1.2h0m0.1-0.1h0m0.1-1.9h0m0.2 0.3h0m0.1 1.4h0m0-0.5h0m0.6 1.1h0m0-0.1h0m0.6-1h0m0.7 1.4h0m0.1 0.1h0m0.4-0.1h0m0.1-0.8h0m0.7-1.3h0m0.4 0.9h0m0.5-0.1h0m0.5 0.3h0m0.1-1.6h0m0.2-0.1h0m0.3 1.3h0m1.1 1.4h0m0-0.3h0m0.3-1.4h0m0.4-0.7h0m0 2.1h0m0.3-1.1h0m0.4-0.3h0m0.1 0.5h0m0.9-0.9h0m1.2-0.6h0m0 0.9h0m0-0.6h0m0.6 1.7h0m0-1.1h0m0.5 1.9h0m0.4-1.1h0m0-0.2h0m0.7 0.6h0m0.2 0.7h0m0.4-0.2h0m0-1.9h0m0.1 1.9h0m0.8-2h0m0.7 1h0m0.3 0.2h0m0.3 0h0m0.5-1.1h0m0.8-0.6h0m1.1 2.2h0m0.1-0.7h0m2.9-1.1h0m-68.6 4.4h0m2.1-2h0m0.9 2.9h0m0-2.4h0m0.3 2.2h0m0.1-1.9h0m1.7 0.6h0m0 0.7h0m2.1-1.1h0m2.1-0.3h0m0.3 1.1h0m0.1-0.3h0m0.2-0.9h0m0.1 0.7h0m0.6-0.1h0m0.2 1.5h0m0-0.3h0m0.6-1.2h0m0.3 1.6h0m0-0.8h0m0.3-1.2h0m0.2 1.9h0m0.2-0.3h0m0.8-0.5h0m1 0.1h0m0.5-1.5h0m0.4 0.8h0m0.3 0.7h0m0.2-0.6h0m0.4 0.2h0m0.3 1h0m0.4-1h0m0-0.9h0m0.3 1.6h0m0-0.6h0m0 0.7h0m0.2-2.3h0m0.1 0.6h0m0.6 1.7h0m0.2-1.3h0m0.4 1.1h0m0 0.3h0m0.3-1.3h0m0-1h0m1.1 2.5h0m0.4-1.3h0m0.1-0.1h0m1 1.1h0m0.2 0.1h0m0.1 0h0m0.5-1.5h0m0-0.3h0m0.4-0.6h0m0.3 1.6h0m0.1 1.1h0m0.2-1.5h0m0.2 1.6h0m0.6-1.1h0m0.1-1.6h0m0.9 0.4h0m0.1 1.3h0m0.3 0.2h0m0.2-0.2h0m1.1 0.6h0m0.2-1.4h0m0.9-0.8h0m0.4 2.4h0m0.2-0.5h0m0.1-2.1h0m0.1 0.3h0m0.9 0.6h0m0.1 0.2h0m0.2-0.7h0m0 0.6h0m0.6-0.2h0m0.1 1.8h0m0.2-1.7h0m0.6-0.9h0m1.5 1.3h0m0.2-1h0m0.4 1.3h0m0.1-1.1h0m0.6-0.2h0m0.7 0.7h0m0.2 0.3h0m0.3 0.3h0m0.8-0.3h0m0.9-0.3h0m1.1 1.3h0m0.6 0.4h0m0.2-2.4h0m0.2-0.2h0m0.5 0.3h0m1.2 1.5h0m0.7 0.4h0m0.1-2.4h0m0.3 1.3h0m0.1-0.6h0m0-0.7h0m0.7 2.5h0m0-1.6h0m1.4 1.3h0m0.4 0.6h0m0.3-0.4h0m0-1.4h0m0.3 0.7h0m1.1-1.2h0m0.1-0.4h0m0 1.9h0m1.9-0.6h0m0.4-0.6h0m0.7-0.4h0m0.1-0.1h0m0.6-0.1h0m1.1 2.8h0m0-0.6h0m0.4-0.1h0m0.3-0.9h0m0.2 0.8h0m0.7-0.5h0m1.1-0.1h0m0-1.4h0m0 1.4h0m0.8-1.5h0m0.2 1.5h0m1-0.2h0m0-1.4h0m1 2.7h0m0.4-0.7h0m0.9 0.3h0m0.3-0.5h0m0.7-0.6h0m0.4 1.5h0m1.8-2.4h0m0.3 1.1h0m0.4-0.2h0m0.4 1h0m1.8 0.6h0m0.6-1.2h0m0.2-0.1h0m3.4-0.8h0m-74.7 3.9h0m3.4 0h0m0-0.1h0m0.5-1.3h0m0.4 1.3h0m0.7 1.3h0m0.5-2.4h0m1.6 2.1h0m0.5-0.3h0m1-0.5h0m2 1.3h0m1.7-2.9h0m0.1 1.4h0m0.3-0.3h0m0.2-0.6h0m2.2 0.8h0m0.6-0.5h0m0.6-0.2h0m2 1.7h0m0-1.6h0m1.1-0.6h0m0 2.3h0m0.3-0.1h0m0.5-1h0m0.1-1.3h0m0.3 0.9h0m0.3 0.8h0m0.2-1.4h0m0.1 1.4h0m0 1h0m0.5-2.3h0m0.3 2.1h0m0.2-1.1h0m0.4 1.3h0m0.1 0h0m0.6-1.7h0m0.3-1h0m0 2.1h0m0.9-1.9h0m1.1 1.3h0m0.2-1h0m0-0.2h0m0.1 1.8h0m0.2-1.3h0m0.6 1.2h0m0.8-1.5h0m0.2 0.5h0m0.6 0.5h0m0.7-0.5h0m1.3 0.1h0m0.4-0.3h0m0.2 0.8h0m0.5 1.3h0m0.8-0.5h0m2-0.4h0m0.5-1.7h0m0.7 1.7h0m1.9-1.8h0m3.3 1.7h0m4.3-0.4h0m0.8-0.8h0m0-0.3h0m0.6-0.5h0m0.9 0.1h0m0.7 0.3h0m0.3 0h0m0.2 1.3h0m3.2-0.7h0m0.5 0.2h0m1.3-0.5h0m1.4-0.3h0m1.2 0.9h0m0.1 1.6h0m0.9-1.8h0m1.4 1.3h0m1.3-1.3h0m0.7 1.2h0m0.3-0.5h0m0.3-0.9h0m1.5-0.1h0m4 0.8h0m0.4 1h0m2.1-0.3h0m-69.2 1.2h0m1.9 0.3h0m0.3 0.2h0m1.9 1.9h0m0.7 0h0m4.2-1.4h0m2.3-0.5h0m0.2-0.4h0m0.1 1.4h0m1.4-1.8h0m1.2 0.3h0m0.6 0.1h0m2.5 0.5h0m0.8-0.4h0m1.5 1.8h0m0.2-1.5h0m3-0.6h0m0.1 0.3h0m2.6 1.8h0m2.3-0.3h0m1.1-1.6h0m0.3 0h0m0.8-0.4h0m7.3 0.8h0m3.5 1.6h0m4.6 0.1h0m0.1-1.7h0m0.9-0.9h0m2.4 0.5h0m1.7 0.6h0m4.8 0.3h0m3.9 1h0m0.6-0.5h0m0.4 0.6h0m9-1.4h0m-70.6 3.4h0m4.7 1h0m6-2.5h0m1.4 1.9h0m0.9-1.9h0m1.3 1.3h0m1.8-1h0m2.5 1.5h0m2.1 0.2h0m14.4-1.5h0m5.5 1.4h0m22.7-1h0m-62.3 2.5h0m66.8 1.3h0" stroke="#3434dc" stroke-width="0.75" stroke-linecap="square" opacity="0.8"/>
<path d="M451.8 366.1h0m12.6-0.7h0m2.7 0.5h0m7-0.2h0m-53 3.2h0m21.5 0.9h0m2.4-1.5h0m7.2 1.1h0m2.9 0.2h0m0.6-1.1h0m2.1 1.8h0m1.1-0.7h0m1 0.5h0m0.9-0.9h0m5-1h0m2.2 2.1h0m1-1.1h0m1.5 1.2h0m2.9-1.8h0m1.1 1.2h0m-60.8 1.6h0m1.7 2h0m8.2-0.9h0m6.6 0h0m0.2 0.5h0m0.4-1.1h0m2.7 1.3h0m0.8-1.4h0m3.5 0.8h0m8.2-1.2h0m3.2 1.1h0m0.3-1.9h0m0.8 2.9h0m1.4-0.5h0m0.7-1.6h0m2.3 0.8h0m0.1 1h0m0.8-1.9h0m1.3 0.1h0m0.7 2.1h0m0.6-1.3h0m0.5 1h0m0-2.3h0m0 0.5h0m0.1 1.6h0m0-1.4h0m0-0.1h0m1-0.5h0m3.3 0h0m1-0.3h0m2.9 1.5h0m0.7 0.8h0m0.3-0.6h0m0.3 0.6h0m0.5 0.4h0m2-1h0m0 0.7h0m0.1-0.2h0m3.7 0h0m0.6-1.8h0m-73.5 5h0m1.2-1.4h0m3.6 0.5h0m0.9 0.6h0m3.8-0.9h0m0.5 0.9h0m2.3-0.2h0m2.7-0.1h0m4.9 0.9h0m4-2.5h0m4.2 2.3h0m0.8-0.7h0m0-1.3h0m0.9 0.9h0m0.1-0.9h0m3.1 0.7h0m0-0.8h0m1.2 2.1h0m0.5-0.7h0m1.2 0.5h0m0.3-1.3h0m0.9 0.5h0m0.8 0.8h0m0.8-2.3h0m1-0.2h0m2.1 2.5h0m0.2-2h0m0.4 0.7h0m3 0.2h0m0.6 0.2h0m0.4 0.8h0m1.2-1.3h0m0 0.8h0m0.8 0.3h0m0.5-1h0m1.9 1h0m0.8-1.8h0m2.8 0h0m0.5 0h0m1.4 0.3h0m0.1-0.3h0m0.2 1.9h0m0.6-2.1h0m1-0.2h0m0.6 0h0m0.2 3h0m0.1-1.5h0m0-0.9h0m2 0.8h0m0.1 0.2h0m0.9-0.5h0m0.2-0.9h0m0.6 2.1h0m2.6-0.8h0m1.7-0.6h0m0.9 1.7h0m3.5-2.5h0m2.6 1.8h0m0.6-1.4h0m-75.1 5.2h0m0.3 0.1h0m11.9-2.6h0m0 0.1h0m2.4 1.8h0m0.2 0.2h0m1.9-0.8h0m0.5-0.5h0m0.5 1.8h0m1.7-1.7h0m0.5-0.3h0m0.4 0.1h0m0.7-0.5h0m1.7 1.3h0m0 0.3h0m0.4-1.6h0m0.1 1.4h0m0.6-0.4h0m0.2-1.3h0m0.3 0.1h0m0 0.5h0m2.9 2.1h0m3.2-2.3h0m1 0.8h0m0.5 1.7h0m1.1-2.4h0m3.1 0.5h0m1.6 1.3h0m0.3-1h0m0.4-0.6h0m0.8-0.7h0m1.6 0.1h0m0 0.2h0m0.3 0.1h0m2.3 0.8h0m3.3 1.2h0m0.2-1.9h0m1.3 1.9h0m1.3 0.4h0m0.3-2.3h0m1.2-0.2h0m0.8 1.3h0m0.3-0.3h0m0.4-0.4h0m0 2h0m0.3-0.6h0m0.7-0.1h0m0.5-0.2h0m0 0.3h0m0.8 0h0m0.6-1.9h0m0 1.1h0m1.1-0.6h0m0.6-0.4h0m1 2h0m0.3-0.2h0m0.1-1.2h0m0.4-0.1h0m0.5 1.1h0m2.9 0.3h0m0.2-1.9h0m0.6 2.3h0m0.2-0.9h0m0.1 0.6h0m0.8-1.9h0m0.2 1.7h0m0.1-1.5h0m0.6-0.4h0m0.2 1.7h0m0.7 0.7h0m0.1-0.8h0m0.2-0.6h0m0.2 0.4h0m1.2-1.7h0m0.1 1.6h0m0.1-0.2h0m0-0.7h0m0.3 1.7h0m0.1-0.9h0m1.1 0.5h0m1.9-1h0m1.8 0.4h0m-56.7 3.2h0m2.2-0.3h0m0.4-0.8h0m3.3-0.7h0m5 1.5h0m8.4 1h0m5.3-2.1h0m0.4-0.1h0m5.2 0.4h0m0.6 1.3h0m0.9-0.3h0m0.2-0.3h0m5.4-0.8h0m0.1 1.9h0m0.3-0.1h0m3.8-0.8h0m0.2 0.7h0m1.1 0.7h0m1.9-1.4h0m0.2 0.8h0m0.3 0.3h0m0.6-2.4h0m0.5-0.1h0m0.6 2.4h0m0.1 0h0m0.1-0.5h0m0.2-1.6h0m0.2 0.9h0m1-0.6h0m0 0.2h0m0.3-0.4h0m0.1-0.2h0m0.1 1.5h0m0.4-0.5h0m1.1 0.9h0m1.6 0h0m1.2-1.4h0m0.9-0.8h0m0.6 2.1h0m0.5 0.4h0m0.2 0.1h0m0.3-2h0m0.2 2.1h0m0.7-1.1h0m1.2 1.3h0m-54.1 1.7h0m21.9-1.6h0m5.6 1h0m0.1 1.6h0m1.8-2.4h0m1.3 2.7h0m0.3-1h0m0.2-1.3h0m0.7 1.7h0m0.6-1.8h0m0.7 0.4h0m0.3 0.6h0m0.3 0.3h0m0.6-1.7h0m0.9-0.1h0m0.2 1h0m0.3-1h0m0.1 1.3h0m0.4 0.3h0m0.3 1.1h0m0.4-0.8h0m1.2 0.8h0m2.2-1.8h0m0.4-0.6h0m0.9 0.8h0m0.9 0.8h0m0.7 0h0m0.8 0.8h0m0.5-0.7h0m0.7-1h0m0.9 1.9h0m0-2.4h0m0.5 1.6h0m0-0.8h0m0.3-0.6h0m0.7 2.2h0m0.1-1.8h0m0.9-0.7h0m1 0.6h0m1.5 1.5h0m0.1-0.4h0m0.1-1.1h0m2.9-0.5h0m-39.2 2.8h0m12.3 1.1h0m2.6 1.3h0m0.1-0.7h0m0.9-0.3h0m1.1 1.1h0m0.1-0.1h0m0.9-0.5h0m0.6 0.1h0m1.5-0.7h0m1-1.5h0m1.3-0.2h0m1.9 0.7h0m0-0.2h0m0.8 1.3h0m0.7 1h0m0.5-2.7h0m0.2 0.9h0m0 1.1h0m0.7-1.9h0m0.3 0.7h0m0.9-0.6h0m0.2 1.1h0m0.1 1.6h0m0.8-2.5h0m2.5 0.2h0m1.4 2.1h0m1.1-0.7h0m0.6 0.5h0m2.6-1h0m2.2-1.4h0m-35.4 3.6h0m5.9 0.5h0m3.6-1h0m2.3 1.7h0m0.7 0.8h0m2.1-2.6h0m1.2 2.8h0m0.5-0.4h0m1.3-2.1h0m0.5 0.2h0m0.2 1.1h0m0.8 0.6h0m0.2-1.9h0m0.5 1.5h0m0.3-0.1h0m0.2-1.3h0m0.9-0.1h0m3.3 0.7h0m0.1 0.9h0m0.1-1h0m0.2-0.7h0m0 2.2h0m0.6-0.1h0m0.3-2.5h0m0.2 2.2h0m0.7-0.3h0m0.2 0.1h0m0.3-0.1h0m0.5-0.4h0m0.2-0.5h0m1.1 2h0m1.6-0.8h0m2.7-0.5h0m2.3 0.3h0m-56.7 3.2h0m7.9-0.3h0m4.2 0.2h0m0.1 0.5h0m0.4-1.1h0m8 1.5h0m0-2.3h0m1.4 1.6h0m0.7-0.5h0m0.1-0.7h0m2.4 1.7h0m2.1-1h0m0.2 0.5h0m1.1 0.4h0m0.7-0.4h0m2.8-2.1h0m1.9 2.1h0m0.2 0.6h0m1.5-0.2h0m0.3-2.2h0m0.2 0.3h0m0.2 0.3h0m0.3-1h0m0.2 2.4h0m0-1h0m0.1-0.7h0m0.3 0.2h0m0.1 1.7h0m0.1-1h0m0 1h0m1.2-1.6h0m0.3 0.1h0m0.3-1.1h0m1.1 2.7h0m0.2-0.5h0m0.2 0.5h0m0.5-2.8h0m0 2.3h0m0.5 0.6h0m0.2-1h0m0.1-0.4h0m0.1 0h0m0.1-0.6h0m0.2 0.2h0m0.5 1.7h0m0.2-0.8h0m0.1 0.9h0m0.6-1.1h0m0.2-1h0m0.6-0.6h0m0.8 1.8h0m1.3-0.4h0m0.1-0.6h0m0.5 0.3h0m0.4 0.4h0m1.3-0.1h0m0.1 0.9h0m3.2 0.3h0m0.3-2.2h0m3.6 0.6h0m0.1 1.3h0m0.4-1.3h0m-63.2 4.7h0m2.3-0.7h0m4.7 0.7h0m1-0.2h0m1.6-1.7h0m0.1-0.6h0m0 2.5h0m2-1h0m1.2 0.8h0m0.7-1.7h0m0.1-0.4h0m1.2 1h0m0.1 1.2h0m2.2-0.7h0m1-1.5h0m0.4 0.4h0m0.1 0.9h0m1.2-1.7h0m0.8 2.6h0m1.3 0.1h0m0.7-0.5h0m0.3-2.4h0m1.1 2.6h0m0.1-1.2h0m3 0.1h0m0.5-1h0m1.1 1.7h0m0.4 0.5h0m1.8-0.6h0m3.3-2h0m0 0.9h0m0.2 1.6h0m0.8-1.4h0m0.9 0.2h0m0.9 1.2h0m0.3-0.1h0m0.3 0.2h0m1.2-0.9h0m0.2-0.6h0m0.2 0.9h0m1-0.1h0m0.2-1.9h0m0.3 0.9h0m0.3 0.9h0m0.3-0.4h0m1.5 0.8h0m0 0.6h0m0-1.9h0m0.5 0.4h0m0.1 0.2h0m0.1-1.5h0m0.5 0.2h0m0.5 0.4h0m0.2 0.2h0m0.2 0.7h0m0.3-0.8h0m0.1 1.4h0m0-0.3h0m0.5 0.3h0m0.8-0.7h0m0.6-0.8h0m0.3 0.2h0m1 0.3h0m0-1h0m1.6 1h0m0-1.2h0m0 2h0m0.5 0.4h0m0.2-1.6h0m0 0.6h0m0.1 0.5h0m0-0.4h0m0.4 1.2h0m0-0.7h0m0.1-0.9h0m0.2 0h0m0.3 0.1h0m0-0.8h0m0.2 0.3h0m0.2 1.2h0m0.4-0.8h0m0.4 0.5h0m1.2 0h0m0.7-0.5h0m0.2 1.9h0m0.2-0.7h0m0.1-0.8h0m0.5 0.1h0m1.3 1h0m0-0.4h0m1 0.6h0m0.1-1.9h0m0.8 1.3h0m0-0.7h0m0.8-0.4h0m0.7 1.7h0m0.1-0.9h0m0.5 0.9h0m0.9-0.4h0m0.7-0.5h0m-66.5 2.7h0m0.9-0.6h0m1.7 1.5h0m3.7-1.4h0m0.1-1.1h0m0.1 0.4h0m0.6 0.4h0m1.3 1.2h0m0.3-1.4h0m0.3 1.1h0m1.8-0.4h0m2.1 0.4h0m0.3 1.3h0m0.8-2.3h0m0.5 1.1h0m0.6 0.8h0m0 0.3h0m1.3-1.9h0m0.6-0.1h0m0.3 0h0m0.2 1.3h0m0-1.2h0m0.3 1.6h0m0.4 0.3h0m0.1-1.8h0m1.4 1.8h0m0.1-0.2h0m1.1-1h0m0.1-1.1h0m0.2 2.3h0m0.5-1.4h0m0.6 1.3h0m0.2-2.3h0m0.1 1.2h0m0.4 0.4h0m0.4 0.8h0m0.2-0.4h0m0.2 0.4h0m0.5-0.9h0m0.2 0.7h0m0.1 0.1h0m0.2-2.4h0m0.7 2.4h0m0.3-1.2h0m0-1.2h0m0.3 0.4h0m0.4 1.3h0m0.1 0.7h0m0.5-0.9h0m0.1 1h0m0.6-0.7h0m0 0.4h0m0.3-1.9h0m2.2 0.3h0m0.5 1.1h0m0-1.2h0m0.3-0.5h0m0.1 2.1h0m0.7-1h0m1-1.3h0m0.3 2h0m0.1 0.2h0m0.5 0.2h0m0.4-2h0m0.4 2.2h0m0.1-2h0m0.3 0.1h0m0.6 2.1h0m0.1-3h0m0.2 2.3h0m0.3-1.7h0m1.2 2.3h0m0.2-0.7h0m0-1.8h0m0.1 0.1h0m0.1 0.1h0m0.8 2.1h0m1.4-2.7h0m0.1 2.2h0m0.4-1h0m0.7 0.9h0m0.5-0.2h0m0.7-1.4h0m0.7 0.6h0m0.2 0.5h0m0.2-1.5h0m0.3 1.8h0m0.2-1h0m0.3 0.5h0m0.1 1.5h0m0.5 0h0m0.2-2.4h0m0.3 2.3h0m0.1 0.2h0m0-1.5h0m1.7-0.6h0m0.9 0.4h0m0.2-0.6h0m0.3 1.2h0m0.1-0.7h0m0.1-1h0m0.2 0.9h0m0-0.5h0m0.4 0.5h0m1 1.4h0m0.5-1h0m0.1 0.8h0m0.1-1.6h0m0.2-0.3h0m0.6 0h0m0.2-0.1h0m0 0.1h0m0.1-0.4h0m0 2h0m0.2 0.8h0m0.1-0.5h0m0.4-0.7h0m0.4-0.8h0m0 1h0m0.1-0.7h0m0.2 1.3h0m0.6 0.4h0m0.4-0.4h0m0.1-1h0m0.4 0.1h0m0.4 1.4h0m0.1-0.7h0m0.3-0.9h0m0.3-1.3h0m0.8 0.8h0m0.5 1.2h0m0.3 0.6h0m0.4-2.5h0m0.2 0.8h0m0.2-0.1h0m0.3 1.1h0m0.4-0.8h0m0.2 0.4h0m0.1 0.8h0m1.2-1.4h0m0.9-0.9h0m1.5 0.9h0m0.7 0.7h0m0.7-1.2h0m0.4 0h0m0.7 0.2h0m0 0.6h0m-73 2.4h0m6.5-0.3h0m0.2 0.1h0m0.4 2.5h0m1.6-0.7h0m2.1 0.3h0m0.1-2.4h0m0.1 1.5h0m1.2 0.6h0m0.3-1.6h0m0.3-0.2h0m1 2.6h0m0.2 0h0m0.7-2.3h0m0.2 0.8h0m0.6 0.9h0m1.1-1.8h0m0.7-0.6h0m0.3 0.1h0m0.2 2h0m0.2-0.6h0m0 1.4h0m0.2-1.8h0m0.4 0.3h0m0.1-1h0m0.7 2.4h0m0.2-0.7h0m0.5-0.2h0m0.3-0.8h0m0.7-0.5h0m0.7 0h0m0.3 0.2h0m0.3 0.1h0m0.6 1.4h0m0-1.6h0m0 1.8h0m0.1-0.3h0m0.1 0.6h0m0-0.7h0m0.5-1h0m0.1 0.5h0m0 1.3h0m0.1-2.4h0m0 0.6h0m0.5 0.6h0m0.5-1.2h0m0.3 0.1h0m0.5 0.3h0m0.3-0.9h0m0.5 2.3h0m0.7-1.1h0m0.1-0.2h0m0 2h0m0-2.8h0m0.4 1.5h0m0.3-1.1h0m0.1 1.8h0m0.1 0.4h0m0-1.5h0m0.7-0.8h0m0.3 1.2h0m0.1 0.8h0m0.6-1.8h0m0.2 1.6h0m1.6-1h0m0.4-0.9h0m0.6 0.8h0m0.2-0.9h0m0.1 2h0m0.1-1.9h0m0.1 1.7h0m0.3-1.3h0m0.1 1.6h0m0.3-0.1h0m0.4-0.5h0m0.6-0.6h0m0.4 1.3h0m0.7-0.2h0m0.3-2h0m1.3 0h0m0.1 0h0m0 0.2h0m0.4 0.4h0m0.1-0.8h0m0.5 0.2h0m1.4 2h0m0.7 0.3h0m0.1 0.3h0m0.8-0.7h0m0.5-0.2h0m0.4 0.1h0m0.9 0.6h0m0.4 0.2h0m1.1-2.7h0m0.5 2.4h0m0.1-2.6h0m0.9 1.5h0m0.3 1.2h0m1.1-0.6h0m0.2-0.2h0m0-1.4h0m0.6 0.5h0m0.3 1.9h0m0.8-1.8h0m0.1 1h0m0.3-0.8h0m1.2-0.5h0m0.2 1.6h0m1.1-0.6h0m0.1 0.2h0m0.5-2h0m0 1.8h0m0-1.3h0m0.3 0h0m1.2 0.4h0m0.4 1.2h0m0.2-1.4h0m0.5 0.8h0m0 1.4h0m0.1-1.6h0m0.4-0.1h0m0.4 1.2h0m0.5-1.7h0m0.3-0.3h0m0.6 0.9h0m0.1-0.9h0m0.2 0h0m0.4 0h0m0.3 1.3h0m0.3 0.3h0m0.1 0.7h0m0.2-2.6h0m0.1 1.1h0m0.3-0.8h0m0.1 2.4h0m0.1-0.6h0m0.4-1.5h0m0.2-0.2h0m0.5 1.3h0m0.2-0.3h0m0.4 1.5h0m0.2-2.4h0m0.2-0.2h0m0.1 0h0m0.3 1h0m0.2-1.1h0m0.7-0.2h0m0.6 2.5h0m0.1-1.3h0m0.7-0.7h0m0.3 1.4h0m0-0.3h0m0.3-1.1h0m0.7 1.9h0m2-1.4h0m0.4-0.8h0m0.3 1.9h0m0.4-2.1h0m0.3 2.6h0m0.7-0.8h0m0.9 0.5h0m0.1-2h0m-75.2 3.7h0m0.9 0.5h0m1 0.5h0m4.2 0.8h0m1-0.2h0m0.5-1h0m0.4-1.5h0m0.2 1.1h0m1.4 0.2h0m0.1 0.2h0m0.1-0.7h0m1.1 1.1h0m0.3 0h0m1.2-1.4h0m2.8 0h0m0.2 1.3h0m0.5-0.2h0m0.2 0.7h0m0.2-0.6h0m0.8 0.1h0m0.6-0.6h0m0.7 1.5h0m0.3-1.7h0m0.1 0.3h0m0.5 0.8h0m2-0.7h0m0.1-1.2h0m0 0.9h0m0.5-1.1h0m0.2 1.7h0m0.1-1.9h0m0 0.5h0m0.5 2.2h0m0.2-1.4h0m0-0.1h0m0.2 1h0m0.3-1.2h0m0-1h0m0.4 0.7h0m1.4 1h0m0 0.4h0m0.1 0.5h0m0.1-2.2h0m0.2 0.2h0m0-0.5h0m0.6 1.1h0m0.1 0.3h0m0.6-1.1h0m0.4 0.4h0m0 0h0m0.1-0.3h0m0.2-0.2h0m0.3 2h0m0-1.7h0m0 0h0m0.5 1.2h0m0.2 0.2h0m0.5 0.8h0m0-2.7h0m0.4 2.2h0m0.6-0.5h0m0.5-1.3h0m2.2 1.5h0m0 0h0m0.1-0.4h0m0.1-0.2h0m0.4-1.3h0m1.4 0.1h0m2 1.5h0m0.6 1.1h0m0.2-1h0m0.1 0.1h0m0.8 0.9h0m0-2.3h0m1.3 0.4h0m0.2-0.5h0m1.9 1.7h0m0.5 0.3h0m0-0.9h0m0.3 1.4h0m1.5-2.8h0m0.3 0.3h0m1.8-0.3h0m0.5 1.6h0m1.1-1.1h0m0.9 1.1h0m0.6 1h0m2.5-1.5h0m2.1-0.9h0m0.6 0.9h0m0-1h0m1.4 2.7h0m0.8-2.8h0m0.4 0.6h0m0.2 0.5h0m1.8-0.8h0m0.2 0.2h0m0.1 0.9h0m0 1.2h0m0.3 0.1h0m0.1-1.2h0m1.1-1.4h0m0.3-0.1h0m0.4 1h0m0.4-0.9h0m0.7 2.3h0m0.4-0.9h0m1-1.1h0m0.2 0.2h0m0.4-0.6h0m0.6 2.8h0m0-2.1h0m0.5-0.1h0m0.4 1.6h0m0.4-1.7h0m1-0.6h0m0.8 0.9h0m1.7 0.9h0m0.3-1.1h0m1 1.9h0m2.4-0.8h0m0 0.9h0m3.4-2.6h0m-76.7 5.8h0m0.2 0.1h0m1.3-2.8h0m4.3 2.3h0m0.1-0.5h0m0.6 0.2h0m0.3-0.4h0m0.7-1.7h0m0.7 2.3h0m0.3-0.6h0m0.2 0.5h0m0.9-0.2h0m0.4-0.5h0m0.5-1.2h0m1.5 2.5h0m0.3-2.6h0m0 1.1h0m0.6-1h0m0.4-0.3h0m0.5 0.8h0m2-0.7h0m0.1 1.3h0m0.4-1.5h0m0.1 1.5h0m0.1-0.5h0m0.8 1.7h0m0.6-1h0m0.4-1.2h0m0.9-0.2h0m0.2 1h0m0.3-0.6h0m0.7 1.5h0m0-0.3h0m0.7 0.7h0m0.9-1.6h0m0.6-0.7h0m0.5 1.7h0m0.4-0.5h0m0.4 0.1h0m0.7 1.2h0m1.7-1.8h0m1 0.6h0m0.2-1h0m0 0h0m0.2 1.7h0m1.4-2.2h0m0.1 1h0m0.6 0.1h0m0.4 1.5h0m0.7-0.2h0m0.1-1.8h0m0.3-0.3h0m0.7 1h0m0.2-1.2h0m0.2 0.1h0m1.8 1.3h0m1.1-1.4h0m0.2 2.1h0m2.2-1.1h0m0.8 0.6h0m0.2-1.2h0m2.3 0.9h0m2.5 1h0m2.7-2h0m0.5 0h0m1.6 1.7h0m0.4-1.5h0m0.5-0.3h0m0.5 0.7h0m2.4 0.9h0m0.3-0.2h0m1.6-1.3h0m0.1-0.4h0m0.2 1.1h0m0.2 0.2h0m0.5 1h0m0.1 0.2h0m0.3-1.3h0m0.3 0.5h0m0.2-0.4h0m1.7-1.3h0m0.4 2.7h0m0.2-1h0m3.9-0.9h0m0.5 0.4h0m3.5-0.8h0m1.6 1.4h0m0.1 0.5h0m1.7 0h0m1.9-0.1h0m0.3-0.6h0m4.1-1h0m-74.8 2.3h0m1.6 1.9h0m0.4 0.5h0m2.3-2.1h0m1 0.4h0m3.9-0.3h0m2.6 2.5h0m1.3-0.3h0m2-2.1h0m0.5 1.3h0m0.6-1h0m0.2 0.4h0m0.7 1.6h0m2.2-1.3h0m1.3 0.4h0m2.2-1.1h0m0.7 0.7h0m0.3-0.4h0m1.3 0.7h0m1.6 0h0m0.4-0.2h0m4.5 0.8h0m1.4-1.6h0m5 1.7h0m8.2-0.9h0m3.1 0h0m2.6 1.2h0m0.9-2.1h0m2.9 2.2h0m1.2-2.4h0m0.6 0.6h0m0.5 0.8h0m1.1-0.2h0m0.2-1.7h0m1.2 0.4h0m1.4 0.1h0m0.3 1.3h0m2.7-1.7h0m0.3 1.4h0m-63.9 4.5h0m0.9-0.8h0m12.7-1.1h0m2.3 1.1h0m6.3-0.7h0m4.3-0.9h0m14.7-0.6h0m24.3 2.9h0m-63.2 1.8h0m11.9 0.3h0m4.2-0.8h0m23.1-0.9h0" stroke="#7070f0" stroke-width="0.75" stroke-linecap="square" opacity="0.65"/>
<g filter="url(#fblur)">
<ellipse cx="428" cy="403" rx="20.50" ry="6.20" transform="rotate(-12 428 403)" fill="#2a30dc" opacity="0.95"/>
<ellipse cx="428" cy="403" rx="16.40" ry="4.71" transform="rotate(-12 428 403)" fill="#1aa0e8" opacity="1"/>
<ellipse cx="428" cy="403" rx="14.35" ry="3.97" transform="rotate(-12 428 403)" fill="#25d85a" opacity="1"/>
<ellipse cx="428" cy="403" rx="9.02" ry="2.60" transform="rotate(-12 428 403)" fill="#9af08a" opacity="1"/>
<ellipse cx="428" cy="403" rx="6.15" ry="1.98" transform="rotate(-12 428 403)" fill="#f4a0a0" opacity="1"/>
<ellipse cx="428" cy="403" rx="3.90" ry="1.36" transform="rotate(-12 428 403)" fill="#e4283c" opacity="1"/>
<ellipse cx="462" cy="399" rx="8.00" ry="4.50" transform="rotate(-10 462 399)" fill="#3a3ce0" opacity="0.45"/>
</g></g>
<rect x="398.8" y="345.4" width="78.19999999999999" height="72.30000000000001" fill="none" stroke="#8a8a9a" stroke-width="0.7"/>
<line x1="448.6" y1="345.4" x2="448.6" y2="417.7" stroke="#45454f" stroke-width="1.0"/>
<line x1="398.8" y1="389.3" x2="477.0" y2="389.3" stroke="#45454f" stroke-width="1.0"/>
<line x1="533.8" y1="292.8" x2="533.8" y2="415.1" stroke="#000" stroke-width="1.5"/>
<line x1="533.8" y1="415.1" x2="681.2" y2="415.1" stroke="#000" stroke-width="1.5"/>
<line x1="530.0" y1="415.1" x2="533.8" y2="415.1" stroke="#000" stroke-width="1.4"/>
<text x="527.4" y="418.20000000000005" font-size="11.8" text-anchor="end" font-family="Liberation Sans, sans-serif" textLength="7.2" lengthAdjust="spacingAndGlyphs" fill="#000" stroke="#000" stroke-width="0.22">0</text>
<line x1="530.0" y1="390.76" x2="533.8" y2="390.76" stroke="#000" stroke-width="1.4"/>
<text x="527.4" y="393.86" font-size="11.8" text-anchor="end" font-family="Liberation Sans, sans-serif" textLength="7.2" lengthAdjust="spacingAndGlyphs" fill="#000" stroke="#000" stroke-width="0.22">5</text>
<line x1="530.0" y1="366.42" x2="533.8" y2="366.42" stroke="#000" stroke-width="1.4"/>
<text x="527.4" y="369.52000000000004" font-size="11.8" text-anchor="end" font-family="Liberation Sans, sans-serif" textLength="14.4" lengthAdjust="spacingAndGlyphs" fill="#000" stroke="#000" stroke-width="0.22">10</text>
<line x1="530.0" y1="342.08000000000004" x2="533.8" y2="342.08000000000004" stroke="#000" stroke-width="1.4"/>
<text x="527.4" y="345.18000000000006" font-size="11.8" text-anchor="end" font-family="Liberation Sans, sans-serif" textLength="14.4" lengthAdjust="spacingAndGlyphs" fill="#000" stroke="#000" stroke-width="0.22">15</text>
<line x1="530.0" y1="317.74" x2="533.8" y2="317.74" stroke="#000" stroke-width="1.4"/>
<text x="527.4" y="320.84000000000003" font-size="11.8" text-anchor="end" font-family="Liberation Sans, sans-serif" textLength="14.4" lengthAdjust="spacingAndGlyphs" fill="#000" stroke="#000" stroke-width="0.22">20</text>
<line x1="530.0" y1="293.40000000000003" x2="533.8" y2="293.40000000000003" stroke="#000" stroke-width="1.4"/>
<text x="527.4" y="296.50000000000006" font-size="11.8" text-anchor="end" font-family="Liberation Sans, sans-serif" textLength="14.4" lengthAdjust="spacingAndGlyphs" fill="#000" stroke="#000" stroke-width="0.22">25</text>
<rect x="546.3" y="360.57840000000004" width="22.5" height="54.52159999999998" fill="#ff0000"/>
<line x1="557.55" y1="353.76320000000004" x2="557.55" y2="361.07840000000004" stroke="#000" stroke-width="1.5"/>
<line x1="552.3499999999999" y1="353.76320000000004" x2="562.75" y2="353.76320000000004" stroke="#000" stroke-width="1.5"/>
<rect x="572.0" y="309.4644" width="22.799999999999955" height="105.63560000000001" fill="#0000ca"/>
<line x1="583.4" y1="300.2152" x2="583.4" y2="309.9644" stroke="#000" stroke-width="1.5"/>
<line x1="578.1999999999999" y1="300.2152" x2="588.6" y2="300.2152" stroke="#000" stroke-width="1.5"/>
<rect x="619.9" y="374.6956" width="22.800000000000068" height="40.40440000000001" fill="#ff0000"/>
<line x1="631.3" y1="370.8012" x2="631.3" y2="375.1956" stroke="#000" stroke-width="1.5"/>
<line x1="626.0999999999999" y1="370.8012" x2="636.5" y2="370.8012" stroke="#000" stroke-width="1.5"/>
<rect x="646.2" y="337.6988" width="22.399999999999977" height="77.40120000000002" fill="#0000ca"/>
<line x1="657.4000000000001" y1="333.8044" x2="657.4000000000001" y2="338.1988" stroke="#000" stroke-width="1.5"/>
<line x1="652.2" y1="333.8044" x2="662.6000000000001" y2="333.8044" stroke="#000" stroke-width="1.5"/>
<line x1="570.5" y1="415.1" x2="570.5" y2="419.2" stroke="#000" stroke-width="1.3"/>
<line x1="644.4" y1="415.1" x2="644.4" y2="419.2" stroke="#000" stroke-width="1.3"/>
<line x1="559.7" y1="282.3" x2="586.0" y2="282.3" stroke="#000" stroke-width="1.4"/>
<text x="573.3" y="275.1" font-size="12" text-anchor="middle" font-family="Liberation Sans, sans-serif" font-weight="bold" fill="#000" >**</text>
<line x1="633.0" y1="314.9" x2="659.3" y2="314.9" stroke="#000" stroke-width="1.4"/>
<text x="645.9" y="308.4" font-size="12" text-anchor="middle" font-family="Liberation Sans, sans-serif" font-weight="bold" fill="#000" >***</text>
<rect x="630.4" y="257.29999999999995" width="14.299999999999978" height="5.900000000000046" fill="#ff0000"/>
<text x="651.4" y="264.2" font-size="12.6" text-anchor="start" font-family="Liberation Sans, sans-serif" textLength="32" lengthAdjust="spacingAndGlyphs" fill="#000" stroke="#000" stroke-width="0.22">si-NC</text>
<rect x="630.4" y="271.9" width="14.299999999999978" height="5.599999999999977" fill="#0000ca"/>
<text x="651.4" y="278.6" font-size="12.6" text-anchor="start" font-family="Liberation Sans, sans-serif" textLength="34" lengthAdjust="spacingAndGlyphs" fill="#000" stroke="#000" stroke-width="0.22">si-circ</text>
<text x="571.8" y="439.4" font-size="12.4" text-anchor="middle" font-family="Liberation Sans, sans-serif" textLength="42" lengthAdjust="spacingAndGlyphs" fill="#000" stroke="#000" stroke-width="0.22">SW620</text>
<text x="650.3" y="439.4" font-size="12.4" text-anchor="middle" font-family="Liberation Sans, sans-serif" textLength="26.8" lengthAdjust="spacingAndGlyphs" fill="#000" stroke="#000" stroke-width="0.22">RKO</text>
<text transform="translate(502.3,349.3) rotate(-90)" font-size="10.6" text-anchor="middle" font-family="Liberation Sans, sans-serif" textLength="101" lengthAdjust="spacingAndGlyphs" fill="#000" stroke="#000" stroke-width="0.22">Cell apoptosis rate (%)</text>
<text x="92.3" y="481.6" font-size="24.2" text-anchor="start" font-family="Liberation Sans, sans-serif" font-weight="bold" fill="#000" >E</text>
<text x="182" y="491.2" font-size="11.8" text-anchor="middle" font-family="Liberation Sans, sans-serif" textLength="32.2" lengthAdjust="spacingAndGlyphs" fill="#000" stroke="#000" stroke-width="0.25">si-NC</text>
<text x="271.8" y="491.2" font-size="11.8" text-anchor="middle" font-family="Liberation Sans, sans-serif" textLength="33.4" lengthAdjust="spacingAndGlyphs" fill="#000" stroke="#000" stroke-width="0.25">si-circ</text>
<text x="108.2" y="541" font-size="12.6" text-anchor="middle" font-family="Liberation Sans, sans-serif" textLength="42.2" lengthAdjust="spacingAndGlyphs" fill="#000" stroke="#000" stroke-width="0.22">SW620</text>
<text x="108.5" y="626.7" font-size="12.6" text-anchor="middle" font-family="Liberation Sans, sans-serif" textLength="28" lengthAdjust="spacingAndGlyphs" fill="#000" stroke="#000" stroke-width="0.22">RKO</text>
<clipPath id="cE0"><rect x="139.5" y="506.3" width="80.5" height="62.69999999999999"/></clipPath>
<g clip-path="url(#cE0)">
<rect x="139.5" y="506.3" width="80.5" height="62.69999999999999" fill="#e8d6e0"/>
<g filter="url(#soft)">
<path d="M140.9 508h0m1.9-0.7h0m4 0.4h0m12.9-0.5h0m12.5 0.5h0m19.4-0.5h0m-50.4 4h0m6.3-2.6h0m0 2.2h0m6.8-2.1h0m3.2 2.5h0m6.6 0.1h0m0.3 0.1h0m1.2-1.4h0m9.2-0.3h0m0.6-1h0m4.3 1.6h0m22.3-1.5h0m1.4-0.2h0m0.7 0.8h0m2.3 0.4h0m12.8 0.4h0m-62.3 3.5h0m0.6-1.7h0m1.6 2.4h0m1.5-2.4h0m0.7 1.6h0m1.2-0.2h0m15.6-1h0m0.4 0.9h0m2.9-0.2h0m0.6-1.6h0m5.5 0.2h0m0.5 2h0m7.9 0.1h0m1.2 0.3h0m1.3-0.6h0m13.3 0.4h0m3.5 0.2h0m4-2.1h0m-78.9 4.8h0m2.6-0.7h0m8.2 0.2h0m8-0.1h0m4.1 0.8h0m5.7-2.2h0m8.9 0.4h0m8.2-0.5h0m19.6 0.1h0m9.1 1h0m2.3-0.6h0m-69.8 3h0m8.9-0.4h0m1.9 1h0m0.2 0h0m6.3 1.6h0m0.2-2.5h0m1.6 2h0m2.7-2.2h0m17.6 0.6h0m2.2 0.6h0m1.4 0.3h0m0.4-0.7h0m18.3-0.4h0m3.5 0.2h0m1.1 1h0m2.2-0.4h0m-71.9 4.5h0m2.4-1h0m15.5-0.5h0m5.3-0.1h0m10 1.3h0m0.1-0.1h0m1.1-1.3h0m5.7 0.4h0m5.5-0.7h0m0.3-0.4h0m10.5 0.1h0m0.2 0.1h0m0.7 2.2h0m6.3-2.7h0m-57.2 3.3h0m4 2.2h0m5.2 0.1h0m16.7-2.3h0m6-0.1h0m0.4 1.7h0m1.3-0.9h0m3.2 1.4h0m13.5 0.1h0m0.2 0.3h0m0.6-0.4h0m2.3-2.4h0m9.5 0h0m1.3 2.2h0m4.9 0.1h0m-73.6 0.7h0m2.6 0.1h0m0.6 2h0m13.5-1.7h0m6.1-0.3h0m1.1 2.1h0m1.4-0.4h0m16 0h0m1.4 0.7h0m1.1-2.6h0m1.1 0.7h0m1.9 1.1h0m3.7 0.2h0m9 0.3h0m10.8-0.3h0m0.1 0.4h0m0.6-1.4h0m2.1-0.4h0m-76.2 4h0m8.2-0.9h0m10.1 1h0m0.5 0.4h0m6.3 0h0m3.5-1.5h0m9.7 1.1h0m6.9-0.5h0m6.1 0.3h0m12.5-0.4h0m-26.2 3.5h0m2.6 1.3h0m10.5-2.3h0m4 0.3h0m6.5 0h0m3.9 1.2h0m4.2-0.3h0m-69.1 3.4h0m1.1 0.1h0m7.5-1.9h0m2.2 1.9h0m4.3-0.3h0m2-1.1h0m0.7 0.9h0m0.6-1.3h0m1.1 0.6h0m0.4-1.1h0m1.9 0.5h0m5.6 1.9h0m0.5-0.8h0m38.9-0.7h0m1 1.9h0m-61.2 2.4h0m7.9 0.3h0m1.7-1.4h0m10.9-1h0m0 2.7h0m0.3-2.6h0m4.8 1.1h0m0.3-0.7h0m3.3 0.8h0m11.5-1.2h0m1.6 2h0m19.5-0.2h0m0.9-1.6h0m-70.8 4.7h0m12 0h0m8.4-1.1h0m5.1 1.3h0m0.7 0.5h0m6.4-0.5h0m8.2-0.7h0m6.5-0.5h0m0.7-1.1h0m9 2.8h0m12.7-1.8h0m6.3 1.9h0m-74.7 1h0m6.6 0.1h0m11.2 0.3h0m1.1 0.6h0m2.2-0.1h0m2-1.7h0m13.1 2.6h0m5.4-2.1h0m4.4-0.4h0m4.1 2.3h0m4.2-1.8h0m3 0.3h0m2.2-1.1h0m2.3 0.7h0m5.5 2.3h0m1.2-1.9h0m1.2-0.1h0m0.9 0.9h0m-71.9 2.4h0m0.7 0.7h0m8.2-1.4h0m10.1 1.9h0m5.7 0h0m0.9-0.4h0m21.2-0.6h0m3.1 1.5h0m1.8-1.5h0m1.6 0.9h0m4.4 0.1h0m2.1-1.3h0m3.9-1.2h0m3.5 1.3h0m4.6 0.9h0m1.6 0.1h0m-74.1 3.1h0m31.4-1.1h0m3.3-0.8h0m2 1h0m6.2-0.5h0m5.6 0.9h0m3.7-1.7h0m0.2 1.6h0m3.6-0.2h0m1.3 0.9h0m9.3-1.2h0m1.1 0.6h0m1.8-1.7h0m2.1 2h0m-65.1 1.4h0m5.7 1.6h0m6.5-0.8h0m7.7 1.1h0m2-0.7h0m1.7-1.6h0m7 0.1h0m7.4 0.6h0m18.2 0.5h0m1.3 0.8h0m8.6-1.5h0m2.9 0.9h0m3-0.5h0m-72.4 2.6h0m1.8 0.1h0m4.4 0.5h0m6.2 1.3h0m8.7-1.9h0m7.4 1.9h0m4.2-0.3h0m7.3-2h0m8.1-0.1h0m0.2 0.6h0m18.3-0.2h0m-73 4.9h0m1.7-0.4h0m13.4-0.5h0m0.6 1.1h0m7.3 0h0m5.9-1.9h0m9.7 0.2h0m10.9 1h0m7.7-0.1h0m3.3-0.4h0m2.7 1.1h0m10 0.3h0m1.6-1.5h0m0.3 0h0m0 0.7h0m-65.2 2.3h0m2.8 1.1h0m4.6-0.1h0m0.2 0.3h0m5.5-2h0m2 0.7h0m0-0.9h0m0.2 2.4h0m0.3-0.7h0m5.5-0.3h0m2.7-1.3h0m0.5 2.4h0m0.8-1.3h0m0.6 1h0m15.1-1.3h0m1 0.2h0m1.1 0.1h0m3 0.4h0m3-0.6h0m1 1.3h0m1.2-2.1h0m10.5 0.2h0m1.9 1.5h0m2.5-0.8h0m-65.1 1.6h0m5.2 1.4h0m5.4-0.1h0m10.8 0.4h0m7.4 0.1h0m2.3 0.9h0m1-0.7h0m1.7-1.9h0m5.9 2.6h0m0.9-2.2h0m2.1 0.4h0m4.2-0.8h0m1.8 0.7h0m1.4 1.4h0m3.3-0.8h0m1.7-1.2h0m6 0.2h0m3.4 0.5h0" stroke="#c49ac8" stroke-width="2.0" stroke-linecap="square" opacity="0.5"/>
<path d="M140.8 508.5h0m3.7-0.2h0m14.9-1.3h0m1 1h0m2.4-0.7h0m4.7 1.2h0m0.9-1.5h0m1.9 0.6h0m5.2 0.9h0m2.2-0.8h0m9.1 0.4h0m1.9-0.4h0m2.5-0.2h0m9.2-0.2h0m17.7 0.4h0m-77.8 3.6h0m5.4 0.1h0m3.5-1.9h0m0.2 1h0m0.5-1h0m2.6-0.1h0m3.4-0.1h0m0-0.4h0m2.3-0.2h0m5.5 1.6h0m0.8 0.5h0m1.6-1.2h0m1.1-1.1h0m7.9 1.1h0m3.5 0.4h0m3.8 1.1h0m2.9-2h0m2-0.3h0m2.9 1.2h0m0.1-0.4h0m3.3 0h0m1.3 0.3h0m3.1-0.8h0m3.5 0.7h0m1.3 1.6h0m1.7-2.6h0m3.1 0.9h0m2.1-0.7h0m0.8 2.3h0m6.4-2.2h0m0.3-0.5h0m-76.7 4.8h0m7.6-1.6h0m1.5 2h0m4.6-1.8h0m2.6 1.4h0m2.7-1.2h0m2.8-0.2h0m6-0.2h0m2 2.5h0m2.1-2.2h0m1.3-0.5h0m1.2 0.4h0m0.8 1.5h0m0.4-1.1h0m1.7 1.8h0m0.4-2.1h0m2 1.3h0m0.6 0.4h0m2 0.5h0m0.8-0.2h0m2.5-1h0m3.7-0.8h0m1.2-0.1h0m0.1 0.9h0m2.9 0.5h0m4.8-0.7h0m8.5 0.7h0m0.8 0h0m0.7-1.8h0m1.5 2h0m1.6-0.3h0m-70.8 2.5h0m2.2 0.9h0m4.3 0.5h0m0.6-0.5h0m2.7 0.5h0m0.1-2.8h0m5.6 1.8h0m2.4-0.9h0m0.7-0.1h0m1.2 0.7h0m7 1h0m6.6-0.5h0m2.1-1.4h0m0.8 0h0m1.3 0.1h0m0.3-0.7h0m0.1 0.6h0m1.2 2h0m0.3-1.2h0m1.3 0.7h0m3-1.4h0m1.6 1.7h0m4-2.2h0m5.4 1.6h0m7.6-0.5h0m0.5-0.6h0m0.7 1.1h0m0.8-1.2h0m0.5 1h0m1.3-0.5h0m1.5 0.9h0m1.6 0.7h0m2.3-0.8h0m1.5 0.7h0m1.2-1h0m0.2-1.1h0m1 0.2h0m-76.2 5h0m2.9-1.6h0m4.1 0.9h0m0-0.2h0m0.3-1.5h0m0.9 2.3h0m1.3-0.1h0m1.5-0.5h0m3-0.4h0m0.8-0.4h0m0.8 0.7h0m6.6-0.8h0m7.6-0.2h0m1.4 1h0m1.3-1h0m0.7-0.9h0m0 2.9h0m3.5-1.6h0m0.5 0.3h0m1.5-1.1h0m2.4 0.4h0m0.6-0.5h0m1 1.3h0m0.3-1.8h0m0.5 1.7h0m3.5 1.3h0m0-0.5h0m2.7-1.3h0m7.4 0.7h0m0.6-1.5h0m1.8-0.2h0m0.1 2.2h0m1.2-0.6h0m3.2-1.7h0m2.3 2.4h0m3.8-0.5h0m0.2 0.6h0m1-1.5h0m0.1 0.7h0m2.4-1.6h0m0.4 0.5h0m0.1 0.1h0m0.1 0.4h0m0.8 0.3h0m0.1-0.9h0m-75.5 3.4h0m4.3-0.4h0m2.2 2.3h0m6.2-2.3h0m1-0.1h0m0.1 2h0m0.8-1.4h0m1.1 1.5h0m7.1 0.2h0m1-1.6h0m6.9 1.6h0m2.6-0.6h0m6.9-1.8h0m1.7 0.3h0m2.4-0.4h0m0.6 2.5h0m0.4-0.5h0m6.4-1.8h0m1.3 1h0m5.5 1.2h0m0.1-2h0m2.1-0.3h0m2.1 0.8h0m1.2-0.4h0m6.7 0.2h0m1.7-0.9h0m0.9 1.4h0m1-1.1h0m0.4 0.2h0m1.5 1.3h0m-75 2.9h0m0.7-1.2h0m1.5 2.2h0m2.5-0.2h0m2.3-0.9h0m5 0.5h0m2.1-0.2h0m0.1-0.3h0m1.4-0.5h0m0.6 1.5h0m0.1-2.4h0m3.4 2.2h0m0-0.7h0m0.2 0.1h0m0.8 0.7h0m1.2-0.9h0m0.4 0.3h0m1.9-0.3h0m0.3-1.5h0m1.8 0.1h0m3 0.7h0m1.4 1.9h0m6-2.7h0m0.2 0.4h0m0.8 2.3h0m0.8-2.3h0m0.9 0.8h0m4.6-1.2h0m5.5 1.7h0m3.9-0.5h0m2.9-1.1h0m2 0.5h0m0.1-0.1h0m2.6 1.9h0m2.7-0.4h0m3.3-1.1h0m0.4-0.8h0m0.8 2.1h0m0.5-0.4h0m0.9-0.4h0m0.2 0.3h0m1.5-0.7h0m0.4-0.7h0m1.2 0.9h0m0.2-0.6h0m0.8 1.3h0m2.2-1.5h0m-74 2.8h0m3.1 0.9h0m0.4 0.6h0m1.1-1.6h0m2.2 0.2h0m0.1 0.2h0m2.5 1.8h0m2.1-2.2h0m2.1 0.1h0m2.4-0.4h0m0.6 2.9h0m0.1-0.1h0m0.2-0.9h0m7-1h0m2 0h0m2-0.1h0m0.3 1.9h0m2.8-0.9h0m6.9-1.3h0m1.7 1.2h0m2.1-1h0m0.3 2.1h0m3.6-0.7h0m0.1-0.2h0m8.6 0.8h0m1.1-1.6h0m6.7 0.8h0m1.7 0.5h0m0.9-0.9h0m2.7 0h0m4.9-0.7h0m2.4 0.9h0m-76.7 3.2h0m0.7 0.1h0m0.4-0.7h0m2.2-1.2h0m2.7 2.8h0m1.3-0.7h0m0.9-1.5h0m0.6 1.1h0m4.9-0.1h0m1 0.9h0m0.1 0.1h0m1.2-1.2h0m2.2-1.4h0m3 1.6h0m0.2 0.9h0m1.6-0.4h0m5.1-1h0m2.7-0.6h0m3.4 1.6h0m4.2-0.1h0m1.3 0h0m0.5-0.9h0m9.5 0h0m1.3-0.2h0m0.1 1.2h0m1.1 0.4h0m5.9-2.3h0m7.3 1.1h0m8-0.5h0m0.7 1.1h0m2.7 0.1h0m0.2-0.2h0m-78 2.2h0m0.1 0.3h0m0.5-0.8h0m2.2 0.9h0m2.8 0.6h0m2.4-1.3h0m0.7-0.4h0m0.6 1.3h0m2.4-0.3h0m0.3 1.2h0m1.8-1.1h0m0 0.9h0m3.2-0.2h0m5.5-1.1h0m1.5 0.4h0m0.7 0.8h0m0.4-0.1h0m0.9-0.7h0m0.7 0.8h0m2-0.1h0m0.5 0.7h0m0.5-1.5h0m0.1 0.4h0m1.2-0.4h0m0.6 1.2h0m0.1-0.2h0m0.2-1.8h0m1.5 0h0m0.2 1h0m0.1 1h0m0.7-0.5h0m4.6-1.6h0m0.7 0.7h0m0.5 1.2h0m3.1 0.6h0m0-0.7h0m1 0.3h0m3.5-1.4h0m2 0.8h0m1.1 0.5h0m0.6 0h0m0.8-0.8h0m0.4-0.1h0m0.5 0.1h0m2.8 0.2h0m6.3 0.3h0m0.2 0.2h0m7.8-1.5h0m6.3 0.4h0m-76.5 4.3h0m2-0.5h0m3.8-1.2h0m0.4 1.6h0m1.1-1.5h0m1.9-1h0m2.4 1.6h0m0.2-1.4h0m4.3 2.6h0m2.1-2.3h0m0.6 1.6h0m6.3 0.7h0m2.1 0.2h0m0.5-2.4h0m0.1 1.3h0m0.9-0.4h0m0.6 0.3h0m0.1-0.6h0m0.6-1.1h0m0.8 2.8h0m0.9-0.8h0m1.5-1.1h0m0.9 1.7h0m3.3 0.1h0m5-2.3h0m8.6 0.5h0m6.5-0.2h0m0.4 1.9h0m0.8-0.6h0m6.2-1.8h0m5.6 1.5h0m0.1-0.4h0m7.2 1.2h0m0.6-0.1h0m-78.9 3h0m2.8-0.7h0m1.2-1.8h0m0.4 0.3h0m0.6-0.3h0m0.6 1.2h0m0.2 0.7h0m0.6-1.2h0m4 0.1h0m0.2 1.5h0m2.2-0.8h0m1 0.7h0m1.1-1.5h0m0.6 1.3h0m0.5-1.8h0m4.9 0.1h0m4.8 1h0m0.9-0.2h0m0.3 0.7h0m0.4-0.4h0m0.1-1h0m2.7 2.3h0m0.4-0.3h0m0.4-1.9h0m0.6 2.4h0m0.4-0.3h0m2.9-1.2h0m3 0.6h0m0-0.3h0m5.2-1.5h0m0.3 2.3h0m2.3-2.2h0m0.3 1.9h0m3.6 0.8h0m0.7-2h0m1.1-0.9h0m1.8 2.6h0m1.5-2.6h0m1.6 0.8h0m0.3 2h0m0.1-0.1h0m0.4-1.8h0m1.9 1.8h0m0.2-2.8h0m2 0h0m0.3 2.5h0m1.2 0h0m1.2-1.7h0m3.4 1.5h0m6.8-0.5h0m1.2-0.6h0m0.1 0.2h0m1.4 0.3h0m0.5-1.3h0m-74.6 3.7h0m1 0.1h0m0-0.5h0m0.9 1.6h0m0.1-1.7h0m0.5 1.6h0m2.7 0h0m1.5 0.5h0m0.8-0.3h0m1 0.4h0m0.2-0.5h0m2.4-2.2h0m1 2.2h0m0.1 0.4h0m0.2-1.6h0m0.6 1.7h0m3.4-1h0m1.2-0.5h0m0.7 0h0m0.2 1.6h0m2.4-2.9h0m0.2 2.4h0m2.2 0.1h0m0.2-2h0m2.6 0.4h0m0.3-0.2h0m1 0.2h0m0.7 0.6h0m0.4-0.1h0m0.2-0.9h0m0.1-0.2h0m2.2 1.4h0m1.5 0.3h0m4-0.7h0m0.8-1.1h0m5 2.2h0m1.4 0.1h0m0.2-1.1h0m0.4-0.3h0m2.4-0.7h0m4.6 1.7h0m1.2 0h0m4.6-2h0m4.5 0.6h0m1 1.7h0m3.7-1.3h0m3.5-0.6h0m1.9 0.5h0m0 1.3h0m3.7-1h0m-77.8 2.2h0m3.7 1h0m0.4 0.6h0m4-0.2h0m0.4 1h0m1.5-2.5h0m0.5 1.6h0m1.4-1.7h0m0.4 0.1h0m0.2 0.2h0m0.3-0.1h0m0.9-0.3h0m0.7 2.2h0m0.4-1.2h0m0.4 0.5h0m0.3-0.1h0m1-0.1h0m0 0.7h0m0-1.3h0m4.2 1.3h0m0.3-1.2h0m2.2 1.3h0m0-0.2h0m0.9-1.4h0m4.9 1.1h0m0.3-1.8h0m0.9 2.3h0m5.1-0.6h0m1.1-1.5h0m1.5 2.3h0m0.8 0.3h0m2.8-1.7h0m1.4 0.6h0m1.1-0.6h0m2.2-0.5h0m4 0.1h0m1.7 1.7h0m1.6-0.9h0m3.5 0.2h0m3.9-1.1h0m0.6-0.1h0m4.1 1.9h0m3.6-0.2h0m-69.5 3.1h0m2.2-1.8h0m0.3-0.1h0m3 0.4h0m2.4-0.7h0m0.3 0.3h0m0.9 1.2h0m0.9 0h0m1.3-0.4h0m1-1.1h0m0.7 2.8h0m0.7-2.6h0m2.7 1.5h0m0.1 0.6h0m6.5-1h0m1.2-0.6h0m0.7 0.4h0m0.2 1h0m12.7-0.2h0m11.5-1.8h0m4.6 1.1h0m0.1 0.1h0m3.2-1h0m1.4 2.4h0m0.1 0.1h0m1-0.7h0m0-0.7h0m0.2 0.9h0m1.3-0.4h0m0.2 0.4h0m1.5-2h0m7.6 2.1h0m0.7-0.1h0m-69.1 3.2h0m2.4-2.1h0m0.6 1.9h0m5.7-0.7h0m0.1-1.4h0m3 1h0m6.6-0.9h0m0.3 1.9h0m1.5-0.7h0m2.6 1.2h0m1.9-2.4h0m0.3 0.5h0m0.4 0.5h0m3.3-1h0m0.9 0.1h0m0.6 1.4h0m3.5-1.1h0m0.6-0.6h0m2.2 0.7h0m4.5 1.9h0m0.5-1h0m1 0.9h0m0.9-0.5h0m0.3-1.2h0m0.6 1.3h0m1.8-2.1h0m0.2 1.4h0m3.5 1.1h0m1.4 0.1h0m0.3-2.2h0m3.6 1.3h0m0.8-0.2h0m2.2-1.6h0m0.3 0.6h0m0 0.7h0m0.1-1.1h0m2.8 2.2h0m0.2-1.3h0m1.1 1.8h0m1.5-2.7h0m0.5 2.1h0m1.2 0.2h0m4.3-0.9h0m0.5-1.1h0m2.1 2.4h0m0-2.5h0m1.2 1.5h0m3-1.2h0m-75.9 3.3h0m0.4-0.6h0m0.7 0.3h0m3.2 1.9h0m0.6-1.2h0m2.4 1.2h0m0.4-2.3h0m2 2.5h0m1.1-2.2h0m2.5 2h0m10.4-0.3h0m2.5-1.1h0m1.7 1.2h0m1.5-1.8h0m6.2-0.4h0m0.6 0.2h0m2.5 0.1h0m0.9 0.8h0m0.9-0.9h0m0.5 0.2h0m0.3 0.5h0m1 0.4h0m0.7-0.6h0m0.1-0.2h0m0.1 1.7h0m1.5-2.5h0m0.5 0.9h0m0.3 0.5h0m0.7 0.2h0m0.4 0.6h0m0.8-0.4h0m0.7 0.2h0m0.6-1h0m0.9 1.6h0m0.3-1.4h0m4.1 0.7h0m0.5 0.8h0m1.3-1h0m1.2 0.9h0m0.5-1h0m0.4-0.7h0m5.5 0.5h0m0.3-0.7h0m0.3 1.7h0m6.1-0.4h0m5.8 0.4h0m0.3 0h0m-78.1 3h0m0.9-1h0m5.6-1.1h0m0.2 1.8h0m0.2-0.4h0m0.5 0.7h0m0.1 0.5h0m2.2-1h0m0.3-1.7h0m0.3 1.7h0m8.3 0.7h0m0 0.3h0m1.8 0h0m6.2-1.9h0m9.1-0.3h0m8.2 0.3h0m3.9 0.8h0m10.3 0.9h0m4.3-1.6h0m4.2-0.1h0m3.6-0.2h0m0.1 0.6h0m5.7 1.6h0m-72.7 1h0m0.2 0h0m2.7 1.8h0m0 0.2h0m1.9-2.7h0m1.2 0.4h0m1.6-0.5h0m2.7 1.9h0m1.9-0.1h0m3.3-1.1h0m0.9-0.4h0m5.4-0.2h0m2.7 1.3h0m1 0.9h0m3.8-0.4h0m5.2 0.6h0m1.5-1.9h0m1.6 0.8h0m0.9-0.7h0m3.2 0.4h0m3.7-1h0m1.6 0.9h0m1.2 0.8h0m5.6 0.1h0m0.1-0.8h0m1.1 0.5h0m4.3-0.3h0m1.4-0.6h0m0.3 2.1h0m3.8-0.4h0m2.1-1.8h0m0.8-0.6h0m2.8 2.1h0m-73.1 3.4h0m1.3-2.2h0m0.2-0.3h0m1.2 0.6h0m4.7 0.8h0m2.3-1.3h0m2.4 0.5h0m7.5 2h0m0.9-2.1h0m2.2 1.3h0m1-0.6h0m2.5 0.7h0m2.8 0.4h0m7.4-1.9h0m1.3-0.2h0m9.4 0.6h0m2-0.6h0m0.4 2h0m2.1-2.4h0m1.1 0.8h0m3.6 2h0m4.1-2h0m3.5 0.3h0m5.3 1.6h0m0.6-1h0m0.5-0.6h0m1.1-0.9h0m-71 5.8h0m0.4-1.8h0m0.5-0.5h0m0.4 0.6h0m0.1 1.2h0m1.9-2.3h0m8.2 2.4h0m1-1.1h0m0.4-1.5h0m3 2.7h0m3-2.4h0m0.3 2.3h0m5.9-0.2h0m1.6-1.5h0m2.3 0.6h0m2.2 1.1h0m1.3-0.3h0m0.9-0.9h0m2.4-1h0m0.5 0.8h0m2.5-1.1h0m0.7 1.1h0m1.1 1.5h0m0.1 0.2h0m2.1-1.5h0m0.1 1.5h0m0.6-1.7h0m0.7 1.4h0m1.6-1.5h0m1.9 0.2h0m3.3-1.1h0m1.7 0.9h0m0.5 1.7h0m2.6 0.2h0m1.5-2.3h0m12.5-0.4h0" stroke="#7a2a90" stroke-width="1.4" stroke-linecap="square"/>
<path d="M144.5 508.3h0m14.9-1.3h0m1 1h0m7.1 0.5h0m0.9-1.5h0m1.9 0.6h0m5.2 0.9h0m2.2-0.8h0m-37.4 3.6h0m9.1-0.8h0m6.5-1.2h0m0-0.4h0m26.5 2.2h0m7.8-1.1h0m3.4-0.4h0m4.4-0.5h0m12.5 2.2h0m-70 2.1h0m19-1.2h0m2.8-0.2h0m8 2.3h0m3.4-2.7h0m1.2 0.4h0m1.2 0.4h0m4.7 1.4h0m2 0.5h0m0.8-0.2h0m7.5-1h0m7.7-0.2h0m9.3 0.7h0m-57.1 1h0m8.7 0.8h0m16.9-0.2h0m2.1 0.1h0m0.4-0.1h0m11.4-0.4h0m13 1.1h0m5.3 0.7h0m5.4 0.6h0m1.2-1h0m-75 4.1h0m2.9-1.6h0m4.1 0.7h0m7.8-0.6h0m15-0.3h0m1.4 1h0m1.3-1h0m4.2 0.4h0m2-0.8h0m2.4 0.4h0m1.9-1h0m4 2.5h0m12.5-2.3h0m1.3 1.6h0m10.6 0h0m2.4-1.6h0m0.6 1h0m0.8 0.3h0m-68.9 4.4h0m6.2-2.3h0m1-0.1h0m2 2.1h0m7.1 0.2h0m10.5-0.6h0m11.6 0.6h0m0.4-0.5h0m7.7-0.8h0m17.7-0.5h0m-69.5 3.8h0m4.7 0.8h0m9.5-0.9h0m1.4-0.5h0m0.7-0.9h0m3.4 2.2h0m2.6-0.5h0m7-1h0m7.6-0.4h0m0.8 2.3h0m0.8-2.3h0m0.9 0.8h0m10.1 0.5h0m6.8-1.6h0m2.1 0.4h0m9-0.4h0m0.8 2.1h0m1.4-0.8h0m0.2 0.3h0m4.1 0.2h0m2.2-1.5h0m-74 2.8h0m3.1 0.9h0m3.7-0.8h0m9.2-0.5h0m0.7 2.8h0m0.2-0.9h0m7-1h0m2 0h0m5.1 0.9h0m8.6-0.1h0m2.1-1h0m12.6 2h0m7.8-0.8h0m-63.4 3.1h0m6.6 0.2h0m13.9-0.5h0m1.8 0.5h0m5.1-1h0m6.1 1h0m4.2-0.1h0m1.3 0h0m10-0.9h0m2.5 1.4h0m21.2-1.7h0m3.4 1.2h0m0.2-0.2h0m-77.9 2.5h0m5.5 0.7h0m2.4-1.3h0m4 1.8h0m1.8-0.2h0m8.7-1.3h0m1.5 0.4h0m1.1 0.7h0m4.1 0.7h0m2.4-0.3h0m0.1-0.2h0m2 0.2h0m5.3-2.1h0m4.3 1.8h0m1 0.3h0m5.5-0.6h0m1.1 0.5h0m1.8-0.9h0m0.5 0.1h0m2.8 0.2h0m14.3-1h0m6.3 0.4h0m-74.5 3.8h0m3.8-1.2h0m0.4 1.6h0m1.1-1.5h0m1.9-1h0m2.4 1.6h0m0.2-1.4h0m7 1.9h0m8.4 0.9h0m0.6-1.1h0m0.9-0.4h0m0.7-0.3h0m8 1.6h0m13.6-1.8h0m6.9 1.7h0m12.6-0.9h0m-71 3.7h0m2.8-0.7h0m1.6-1.5h0m0.6-0.3h0m0.6 1.2h0m0.2 0.7h0m4.6-1.1h0m2.4 0.7h0m1 0.7h0m1.1-1.5h0m1.1-0.5h0m10.6 0.9h0m0.3 0.7h0m3.6 0.6h0m7.3-0.7h0m5.2-1.5h0m0.3 2.3h0m2.6-0.3h0m7.2 0.5h0m3.1-1.8h0m0.3 2h0m0.5-1.9h0m10.2 1.3h0m8.1-0.9h0m1.9-1h0m-73.6 3.3h0m1.5 1.5h0m2.7 0h0m1.5 0.5h0m0.8-0.3h0m1 0.4h0m2.6-2.7h0m1.1 2.6h0m0.8 0.1h0m4.6-1.5h0m0.7 0h0m2.6-1.3h0m5.5 0.7h0m1.7 0.8h0m0.4-0.1h0m0.2-0.9h0m0.1-0.2h0m2.2 1.4h0m11.3 0.7h0m4.4-2h0m4.6 1.7h0m1.2 0h0m4.6-2h0m5.5 2.3h0m7.2-1.9h0m1.9 1.8h0m-70 2.8h0m11.1-0.4h0m1.3-0.8h0m4.2 1.3h0m0.3-1.2h0m9.2 1.3h0m12.7-0.6h0m1.1-0.6h0m6.2-0.4h0m10.7-0.1h0m-52.1 4h0m3.9 1.3h0m3.4-1.1h0m0.1 0.6h0m21.3-0.4h0m19.4-1.6h0m1.5 2.5h0m2.5-0.9h0m0.2 0.4h0m9.1 0.1h0m-68.4 3.1h0m18.4-2.2h0m0.3 1.9h0m15-1.5h0m0.6-0.6h0m7.2 1.6h0m1 0.9h0m1.2-1.7h0m2.4-0.8h0m3.7 2.5h0m5.3-0.8h0m3-1.8h0m12.5 0.5h0m2.1 2.4h0m1.2-1h0m3-1.2h0m-75.5 2.7h0m3.9 2.2h0m3 0h0m22.1-2h0m6.2-0.4h0m0.6 0.2h0m2.5 0.1h0m2.6 0.6h0m1.9 1.3h0m1.5-2.5h0m0.8 1.4h0m0.7 0.2h0m0.4 0.6h0m3 0.4h0m4.9 0.1h0m2.5-0.1h0m13.1-0.6h0m-65.5 1.3h0m0.2 1.8h0m0.2-0.4h0m0.6 1.2h0m2.5-2.7h0m0.3 1.7h0m8.3 0.7h0m25.3-1.6h0m26.4 0.4h0m-64.1 4.4h0m4.7-2.6h0m7.9 0.7h0m9 0.7h0m13.1 0h0m0.9-0.7h0m16.5 0.9h0m5.7-0.9h0m0.3 2.1h0m3.8-0.4h0m5.7-0.3h0m-71.8 1.2h0m6.1 1.1h0m12.2 1.2h0m3.1-0.8h0m15-1.6h0m9.4 0.6h0m5.6-0.2h0m3.6 2h0m7.6-1.7h0m5.3 1.6h0m0.6-1h0m0.5-0.6h0m-68.6 3.2h0m11.2 0.2h0m3.4 1.2h0m13.1-1.2h0m2.2 1.1h0m1.3-0.3h0m0.9-0.9h0m7.3 1.5h0m2.1-1.5h0m3-0.3h0m6.9 0h0m4.6-0.4h0m12.5-0.4h0" stroke="#36083f" stroke-width="1.0" stroke-linecap="square"/>
</g></g>
<rect x="139.5" y="506.3" width="80.5" height="62.69999999999999" fill="none" stroke="#111" stroke-width="1.6"/>
<clipPath id="cE1"><rect x="229.9" y="506.2" width="80.49999999999997" height="62.80000000000001"/></clipPath>
<g clip-path="url(#cE1)">
<rect x="229.9" y="506.2" width="80.49999999999997" height="62.80000000000001" fill="#ece4d6"/>
<g filter="url(#soft)">
<path d="M232.6 511.2h0m2.9-2.4h0m8.5 2h0m7.5-2.2h0m10.9 2.2h0m25.4-2.2h0m19.7 0.9h0m-65.4 4h0m6.9 0.6h0m31.2-1.2h0m1.6-0.3h0m2.5-0.1h0m13.7 0.9h0m6.5 0.6h0m-52.7 3.3h0m0.2-1h0m15.7 0.3h0m7.3-0.7h0m16.2 0.2h0m11-0.9h0m4.4 0h0m-75.8 4.3h0m3.7 0.3h0m7.6-0.6h0m13.9-1.2h0m10 0.2h0m2.8 2.1h0m8.2-2.5h0m16.4 1.9h0m-53.2 3.3h0m7.7 0.3h0m0.8-1.1h0m16.5-0.5h0m7.6-0.7h0m12.2 0.6h0m0.6 0.2h0m3.7-1.1h0m4.1 0.5h0m5.3-0.7h0m5.7 0h0m0.7 1h0m3.7 1.1h0m-77.9 3h0m9.5-2h0m9 1.2h0m23.8-1h0m2 0.9h0m13.2-0.7h0m1.4 1.3h0m-48.3 3.3h0m2.6 0.3h0m4.9 0.5h0m5.4-2.5h0m6.3 1.7h0m1.5 0.1h0m1.6-2h0m2.7 0h0m25.9 2.8h0m12.5-0.6h0m4 0.5h0m-68.3 0.2h0m8.4 0.6h0m2.6-0.4h0m0.7 1.9h0m1-1.8h0m4.2-0.1h0m20 2h0m7.1-1.5h0m3.3-0.5h0m3.6 1.7h0m15.9 0.2h0m0.4-0.9h0m-70.2 2h0m14.8 0.2h0m7.7 0.2h0m5.1 1.7h0m4.2-1.3h0m14.6 0.3h0m6.5-0.5h0m4.3 0.4h0m3.9-0.6h0m3.9 2h0m-58.5 1.6h0m7.7 0.3h0m1.4 0.6h0m3.8-1.6h0m1.6 0.9h0m0.4 0.6h0m8.7 0.3h0m4-1.4h0m10.3 0.7h0m2.5 0.6h0m22.2-1.1h0m-66 1.9h0m2 0h0m5.7 0.3h0m5.8-0.2h0m10.4 0.1h0m19.6 1.7h0m5.2 0.2h0m1.6-0.2h0m8.6-1.5h0m-48.5 4.2h0m1-0.5h0m29.2-0.6h0m4.1 1.8h0m7.6-0.7h0m14.4-1.6h0m-65.7 3.1h0m12.8 0.9h0m4.6 0.5h0m46.7 0.6h0m2.6 0h0m-65.9 1.9h0m2 0.7h0m18-1.3h0m19.2 1.9h0m5.1-1.6h0m1.3 1.8h0m8.1-0.9h0m-58.7 4.2h0m1.1 0h0m0.7 0.1h0m5.9-2.5h0m5.8 1.4h0m10.4 0.8h0m9.2-0.5h0m3.4-0.4h0m6.2-0.3h0m13.2-0.8h0m14.7-0.3h0m-74.4 2.9h0m7.6 1h0m1.3 1.6h0m1.3-1.1h0m4.3 0.8h0m0.3-2h0m16.4-0.2h0m0.4 0.5h0m6.2 2.1h0m2.3-1h0m13.9-1.4h0m11.3 0.6h0m0.4 1.4h0m1-2.5h0m0.2 1.4h0m-66.3 1.9h0m2 0.9h0m1.1-1.1h0m28.3 1.5h0m24.6 1.1h0m8.1-0.1h0m-53.9 2.3h0m8.1-1.8h0m4.3 1.5h0m9.3-1.4h0m1.3 0.9h0m8.5-0.4h0m6.6-0.1h0m22.7 0.5h0m2.5 1.4h0m0.3 0.2h0m-75.4 1.6h0m4.7 1.1h0m3.4-2h0m26.8 1.9h0m6.5-0.9h0m13.8 1.1h0m-55 1.8h0m7.4-0.9h0m4.8 2h0m8.1-1.5h0m0-1h0m2.5 2h0m6.9 0.4h0m1.1-2.2h0m10.9 0.7h0m5.6-0.4h0m12.3-0.3h0m0.5 1.6h0m14.7-0.3h0" stroke="#d8bcd4" stroke-width="2.0" stroke-linecap="square" opacity="0.5"/>
<path d="M234.4 508.2h0m2.3 0h0m5.4-0.9h0m2.2-0.5h0m1.6 0.7h0m10.8 0.7h0m15.5 0.1h0m4.7-1.3h0m-43.7 2.3h0m0.2 0.5h0m0.1 0.2h0m5.8 0.7h0m4.5-1.2h0m1.6 0h0m2.2 0.9h0m1.1 0h0m13.5-0.8h0m14.4 1.8h0m3.5-2.3h0m0.8-0.4h0m5.5-0.1h0m0.1 1.1h0m5.6 1.1h0m6.8-0.7h0m0.1-1h0m5.1 0.8h0m1.7 0.5h0m2.1 0h0m-77.1 2.6h0m4.2-0.4h0m4.8 0.2h0m0.5 0.3h0m1.5 0.7h0m3.7-2.3h0m0.9 1.7h0m0.4-0.4h0m8.8-0.6h0m1.9 0.2h0m11.2 1.5h0m0.5-0.8h0m2.5 0.5h0m2.5 0.6h0m0.6-0.9h0m2.9 0.6h0m1.4-1.9h0m2.2 0.6h0m0.9 0.5h0m4.4 1.3h0m4.6-2.1h0m2.8-0.1h0m1-0.1h0m1.3-0.2h0m1.7 1.9h0m3.7 0.5h0m-70.9 2.9h0m4.4-1.5h0m1.7-0.7h0m2.3 1.2h0m0.3-0.7h0m1.7 0.7h0m0.9 0.3h0m13.6-1h0m0.1 0.4h0m0.6 0h0m0.1 1h0m5.8-2.3h0m1.1 1.4h0m2.3-0.6h0m0.1 1.7h0m3.1-1.5h0m0.4-0.2h0m2.5 0.9h0m0.5-1.6h0m2.6 1h0m4-0.1h0m1.2-0.8h0m0.3 0.7h0m1.9-0.3h0m0.2 0.9h0m2.7-0.4h0m3.9-0.1h0m3.4 0.8h0m1.2-1.4h0m1.4 2h0m1.6-0.5h0m9.9 0.7h0m0.4-1.1h0m1.4 0h0m-76.3 1.6h0m0.8 0.4h0m15.7 0.2h0m0.5 1.5h0m2.9 0.1h0m4-1.2h0m5.6 0.3h0m2.3-0.7h0m2.4-0.7h0m0.1 2h0m0.3-0.2h0m0.3-1.8h0m0.7 1.2h0m10.3-0.5h0m0.6 1.1h0m3.7-0.7h0m1.2 0.2h0m1 1.1h0m0.7-0.9h0m2.6 0.8h0m0-2.3h0m0.2 0.1h0m2.8 0.5h0m1.7 2.1h0m5.3-1.4h0m3.2 0.1h0m2.7-1.1h0m-72.4 4.9h0m4.6-0.8h0m8.5-1.2h0m4.7 2.6h0m4.7-2.4h0m4.4 0.3h0m5.3 1.6h0m0.5-0.9h0m1.1 1.3h0m0.2-1.6h0m3.8-1.1h0m0.8 1.1h0m4.6-0.5h0m3 1h0m0.8-1.7h0m2.8 0.5h0m3.2 1.2h0m1.3 0.7h0m2.8 0.2h0m4.8-1.4h0m3.1-0.7h0m3.9 1h0m1.9-1.3h0m1.1 1h0m2.1 0.2h0m0.6-0.5h0m1 2.1h0m0.6-1.3h0m0.2-0.2h0m-73.2 1.7h0m0.2 0.6h0m3.7 0h0m3.9-0.2h0m7.1 0.6h0m3.1-1.1h0m9.1 2.6h0m1.1-1.2h0m0.6 0.9h0m3.2-1.1h0m1.1 0.2h0m2.5 0.4h0m2.1-1.5h0m0.3 0.3h0m1.3 2h0m2.3-1.5h0m1.7 0.2h0m7.2-0.8h0m0.9 2.1h0m12.8 0.1h0m0.3-2.2h0m0.3 2.2h0m1.1-0.6h0m0.2-0.8h0m0.1 1.4h0m4.5-2.6h0m0.1 0.6h0m3.3 1.2h0m-76.8 4h0m2.8-0.3h0m20.3-2h0m2.6 2.2h0m6-2.8h0m3.2 2.7h0m2.4-0.4h0m3.9-1.7h0m1.5 1h0m0.4 0.4h0m4.7-1h0m5.7 0.5h0m0.1 0.1h0m0.9 0.1h0m1.2-1h0m4.4 2h0m2.5-0.1h0m6.7-1.8h0m4-0.3h0m0.8 2.3h0m-67.5 2h0m3.1 1h0m1.6-2h0m1 0.8h0m0 1.2h0m0.2-0.8h0m19.5 0.6h0m7.5-0.3h0m5.2-0.1h0m3.3-0.7h0m4.3-0.7h0m0.5-0.5h0m3.5 0.7h0m1.9 1.7h0m3-2.2h0m3.3 0.1h0m-59.7 2.7h0m2.3 2.1h0m0.8-2.5h0m1.2 1.5h0m1.4-1.1h0m0.4-0.4h0m0.2 1.2h0m0-0.8h0m1.1 2.1h0m0.8-0.8h0m3.9-0.7h0m0.6 0h0m0.1 1.1h0m8.1-0.8h0m3.8-1h0m1.8 1.8h0m0.6-0.9h0m5.7 1.7h0m3.7-0.3h0m2.2-0.3h0m5-1.9h0m12.6-0.3h0m6 2.4h0m3.5-0.6h0m1.5-1.8h0m3.2 2.7h0m-74.1 2.6h0m0.3 0.3h0m2.5-1.3h0m1.9-0.5h0m1.2-0.1h0m0.9 0.2h0m3.5 1.9h0m1.3-2.1h0m3.1 1.1h0m4.1-0.6h0m0.2-0.5h0m16.1 1.2h0m3.4-0.7h0m4.8-0.4h0m5 0.4h0m0.2 0.4h0m5.9 1h0m5.1-1h0m4.9-0.9h0m2.2 1.8h0m4.2 0.2h0m4.3-0.6h0m-76.8 3.7h0m1.6-2.5h0m2.4 1.7h0m0.2-0.9h0m0.6-0.2h0m0.3 0.5h0m0.8-1.2h0m2.9 2.4h0m0.6-0.3h0m2.6-1.7h0m7.5 1.4h0m9.3-0.3h0m14.5 0h0m8.5 0.6h0m16.1-0.2h0m7.4-1.1h0m0.8-1h0m-74.7 3.5h0m0.2 0.1h0m7.3 1.4h0m8-0.2h0m2.7 0.6h0m1.1-0.9h0m0.7-1.1h0m0 1.3h0m0.3-1.5h0m2.7 2.3h0m1-0.1h0m1-0.1h0m0.2-0.4h0m4.8 0h0m0.6-1.2h0m9.2-0.8h0m13.2 1.7h0m6.4-0.5h0m17.7-0.1h0m-78.9 3.4h0m2.3-1.4h0m1.4 1.2h0m0.5-0.5h0m11.4-0.8h0m4.9 1.1h0m0.6-0.7h0m0.9 0.6h0m0.6-0.8h0m5.6 2.5h0m0.2-2.3h0m0.4 0.1h0m0.4 0h0m19.3-0.2h0m1.2-0.2h0m16.7 2.1h0m8.1-1.7h0m-74.6 4.9h0m3.6-1.5h0m2.9-0.7h0m4.2 2h0m2-1.9h0m3 1.5h0m1.2 1h0m3.6-0.9h0m1.1-1.5h0m2.6 0.2h0m2.8-0.3h0m1.4 0h0m2.5 0.8h0m0.2-0.7h0m1.4 1h0m1.9-0.8h0m0.7-0.1h0m9.7 1.1h0m1.6-1.2h0m0.4-0.1h0m3.7 1.8h0m0.4-0.6h0m2.7 0.4h0m5.2-1.6h0m0.8 1.6h0m8.5 0.6h0m1-0.4h0m7.2-1.1h0m-72.8 4.2h0m0.5-1.5h0m4.7-0.7h0m1.9 2.6h0m0.3-2.1h0m0.9 1h0m0.1-0.6h0m7.8-0.2h0m1.1-0.4h0m5.6 1.2h0m2.1-0.8h0m4.7-0.3h0m7.5 0.2h0m1.1-0.1h0m1.8 1.1h0m5.1 0.2h0m0-1.5h0m4.8 1.5h0m0.7-0.4h0m14.4 1.4h0m4.3-2.3h0m0 0.7h0m3.3 1h0m0.7-0.4h0m0.3-1.1h0m0.1 0.7h0m1.7 0.8h0m-79.3 2.9h0m2-0.9h0m1.5 0.8h0m0.6 0.4h0m1.5-0.5h0m6 1h0m2.2-0.4h0m1.4-0.6h0m4.5-1h0m2.7 1h0m6.7 0.6h0m0.4 0.1h0m0.8 0.3h0m1.1-2.6h0m1.2 2.7h0m0.5-2.4h0m0.5 1.9h0m0-0.2h0m2.6 0.1h0m3.1-2.1h0m1-0.3h0m0 1.8h0m7.4 1.1h0m3.8-0.4h0m2.9-0.8h0m0.4 0.9h0m2.4-0.8h0m7.2-0.3h0m1.2 0.3h0m2.3-0.9h0m0.9-0.1h0m1.8-0.5h0m5.3 1h0m2.1 1.5h0m-74.2 0.4h0m9.4 0.1h0m6.7 0.1h0m1.9 1.7h0m0.7-0.8h0m1-0.8h0m2.5 0.4h0m1.3 0.5h0m2.2-0.4h0m0.5 0.3h0m5.9-0.5h0m0.5-0.8h0m6.3 0.4h0m0.7 0.5h0m1 0.7h0m0.8-1.4h0m3.5 0h0m2.6 2.1h0m2.2-1.9h0m0.9 2.4h0m3-0.7h0m0.2-1.2h0m2.1 0h0m2-0.4h0m8.2 1.9h0m6.9-2.2h0m2 2h0m0.2 0.1h0m-74.1 2.4h0m10.7-0.4h0m2.3 1.1h0m9.7-0.1h0m1.7-1.9h0m5.2 2h0m0.8 0.2h0m7.7-0.3h0m1.7-0.3h0m1.1-0.9h0m0.4 1.1h0m0.6 0h0m4 0.3h0m1.2-0.1h0m0.3 0.6h0m0.9-2.9h0m0 0.1h0m0.8 2.3h0m0.1 0.4h0m0.9-1.5h0m3.8 1.3h0m7.2-1.5h0m3.1-0.9h0m0.6 1.5h0m1.3-1h0m0.4 0h0m6.4 0.9h0m0.5-1.6h0m-68.3 4.3h0m9.6 0.4h0m2.8 0.8h0m1.5-2.5h0m8 1.8h0m0.2-0.3h0m2.6-0.2h0m0 0.4h0m0.6 0h0m0.4 1h0m8.9-0.9h0m8.2-0.5h0m3.1 0.4h0m1.7 0.4h0m2.6 0.3h0m0.6-1.6h0m7.3 0.5h0m0.5 1.1h0m5.8-2h0m4-0.2h0m-76.1 2.9h0m0.7-0.1h0m7.6 0.7h0m8.5 1.8h0m7.3-0.3h0m0.8-2.2h0m9.6 2.4h0m5.3 0.1h0m3.3-1.1h0m2.8-1.3h0m3.4 1.4h0m14.6 0.7h0m3.9-0.1h0m4.3-2h0" stroke="#9c50b0" stroke-width="1.4" stroke-linecap="square"/>
<path d="M236.7 508.2h0m7.6-1.4h0m32.6 0.2h0m-29.3 3.4h0m29 1h0m29.2-1h0m-64 3.4h0m5-1h0m24.9 0.8h0m9.6-1h0m5.3 1.8h0m-55.8 2.8h0m8.4-1h0m23.1-1.6h0m3.4 0.8h0m6.6-0.7h0m10.2 1.4h0m12.6 0.9h0m11.5 0.2h0m-58 1.1h0m0.5 1.5h0m2.9 0.1h0m11.9-1.6h0m2.4-0.7h0m0.1 2h0m0.6-2h0m15.3 1.1h0m15.5 0.2h0m5.9-1h0m-59.3 2.9h0m19.1 2.1h0m1.8-1.2h0m12.2 0.5h0m10.9 0.9h0m13.7-2.4h0m5.4 1.5h0m-44.8 2.8h0m0.6 0.9h0m3.2-1.1h0m9.6-0.1h0m8.9-0.6h0m15.4 1.6h0m4.8-2h0m3.4 1.8h0m-53.7 1.7h0m19.6 1h0m0.4 0.4h0m10.4-0.5h0m1 0.2h0m5.6 1h0m-15.4 2.5h0m3.3-0.7h0m4.3-0.7h0m5.9 1.9h0m-53.4 0.6h0m2.3 2.1h0m0.8-2.5h0m5.1 1.7h0m3.9-0.7h0m0.6 0h0m8.2 0.3h0m3.8-1h0m19 0.1h0m-47.3 5h0m0.3 0.3h0m4.4-1.8h0m1.2-0.1h0m4.4 2.1h0m4.4-1h0m23.8-0.6h0m-40.2 4.6h0m4.2-1.7h0m39.1 0.6h0m8.5 0.6h0m16.1-0.2h0m7.4-1.1h0m-58.4 3.8h0m2.7 0.6h0m1.1-0.9h0m0.7 0.2h0m0.3-1.5h0m4.7 2.1h0m28-0.7h0m-54.8 2.8h0m2.3-1.4h0m13.3-0.1h0m12.6 2.7h0m1-2.2h0m20.5-0.4h0m-49.8 5.3h0m15.7-0.6h0m11.3-1.5h0m1.4 0h0m18 0.1h0m4.1 1.7h0m3.1-0.2h0m5.2-1.6h0m10.3 1.8h0m-58.5 3.5h0m15.8-1.1h0m2.1-0.8h0m20.2-0.4h0m4.8 1.5h0m0.7-0.4h0m14.4 1.4h0m4.3-2.3h0m0 0.7h0m4.4 0.2h0m1.7 0.8h0m-73.7 2.7h0m6 1h0m2.2-0.4h0m16.5 0.4h0m3.3-0.6h0m6.7-0.5h0m14.1-0.1h0m0.4 0.9h0m10.8-0.8h0m3.2-1h0m1.8-0.5h0m5.3 1h0m-54.1 3.8h0m4.2-1.2h0m1.3 0.5h0m2.2-0.4h0m6.4-0.2h0m0.5-0.8h0m21.2 0.9h0m21.2 1.3h0m-63.2 2.1h0m31.2 0.9h0m4 0.3h0m1.2-0.1h0m0.3 0.6h0m0.9-2.9h0m0 0.1h0m0.9 2.7h0m4.7-0.2h0m12.6-1.9h0m6.9-0.7h0m-55.9 5.5h0m9.5-0.7h0m46.5-1.6h0m-76.1 2.9h0m0.7-0.1h0m16.1 2.5h0m23 0h0m6.1-2.4h0m21.9 2h0" stroke="#5a1a70" stroke-width="1.0" stroke-linecap="square"/>
</g></g>
<rect x="229.9" y="506.2" width="80.49999999999997" height="62.80000000000001" fill="none" stroke="#111" stroke-width="1.6"/>
<clipPath id="cE2"><rect x="138.3" y="588.6" width="80.39999999999998" height="62.60000000000002"/></clipPath>
<g clip-path="url(#cE2)">
<rect x="138.3" y="588.6" width="80.39999999999998" height="62.60000000000002" fill="#b484d6"/>
<g filter="url(#soft)">
<path d="M156.1 589.3h0m3.2 0.1h0m-17.7 0.8h0m4.9 1.8h0m7.7 0.3h0m19.3-2.1h0m2.7-0.2h0m7.7 2h0m2.8-0.6h0m2 0.3h0m7.7 0.3h0m1.4-1.2h0m-51.9 2.3h0m5.6 0.1h0m3.8 0.4h0m10.6 1.3h0m0.3-1.7h0m11.7 0.6h0m4.1 0.4h0m1.7 0.3h0m2.1-0.2h0m7.3-1h0m4.3 0.3h0m7-0.5h0m1.6 0.8h0m1.4-1h0m0.3 0.7h0m1.3 1.1h0m-68.2 1.5h0m3.5 0.7h0m3-0.8h0m1.9-0.1h0m7.2 1.3h0m1.8 0.9h0m1.8-2.7h0m5.6 1.2h0m3.6 0.1h0m0 0.3h0m4.1-0.7h0m0.7 0h0m0.3 0.4h0m7.3 0.1h0m13.8 1.3h0m9.6-1.9h0m9.9 0.6h0m-72.5 4.5h0m2-1.9h0m9.2 1h0m2.7 0.3h0m0.1-1.6h0m8.3-0.5h0m1.3 0.8h0m4.4 0.8h0m10.4-0.6h0m8.4-0.6h0m5.3 0.3h0m5.9 0.6h0m2.9-1.2h0m12.3 0.5h0m1.7-0.2h0m-69.2 5.3h0m3-1.2h0m14-0.9h0m2.6 1.4h0m9.9 0.8h0m1-0.8h0m2.7-1.3h0m4.3 0.6h0m15.7-0.6h0m2 0.3h0m2.3-0.3h0m-65.6 4.9h0m5-0.7h0m11 0.5h0m0.7-2.3h0m0.6 2.4h0m13 0.1h0m1.4-0.5h0m5.6-1.1h0m0.3 0.7h0m3.4 0.1h0m2.2-1.3h0m5.3 0.2h0m9.9 1.3h0m2.8-2h0m3.9 2.1h0m6.8-0.8h0m5.9-0.9h0m-79 3.1h0m0.3-0.1h0m1.3 0.7h0m2.7-0.1h0m0.1 1.3h0m0.8-1.7h0m6.6 2.2h0m1.1-0.4h0m5.3-2.1h0m8.8 0.7h0m1.1 0.8h0m0.2-0.6h0m3.1-0.2h0m0.8-1.1h0m0.9 1.6h0m4.4-1.1h0m0.1 0.5h0m14.6 0.6h0m2.3 0.9h0m1.3-2.6h0m1.7 1.8h0m5.6 1.2h0m0.4-2.9h0m3.1 0.9h0m6.2 0h0m3.6 1.7h0m-74.3 0.8h0m2.8-0.3h0m1 1.6h0m1.7 0h0m6.1 0.4h0m4.9-0.7h0m5.9-0.2h0m1 0.2h0m4 0.5h0m1.7 0.1h0m8.3-1.3h0m4.8 0.7h0m4-0.7h0m7.2 1.4h0m4 0.1h0m8.5-2h0m3.9 0.8h0m0.4 0.5h0m-62.5 3.7h0m0.7-1.8h0m2.6 2h0m4.9-0.6h0m6.6 0.7h0m1.8-2h0m0.7 2.3h0m3.2-1.5h0m4.7-1.2h0m9.3 0.6h0m14.7 0.3h0m1.1-0.3h0m3.4-0.7h0m9.7 2.3h0m0.4 0.2h0m1.7-2.5h0m-73.7 3.9h0m16.5-0.3h0m1.4 1.3h0m17.2-1.4h0m5.1 0.2h0m2.3 2.2h0m10.2-1.6h0m3.3 0.3h0m0.6-1.3h0m0.2 0.1h0m2 2h0m3.4-1.3h0m-61.4 3h0m1.6-0.4h0m18 1.3h0m15.1-0.8h0m4.6 0.5h0m3.4 0.9h0m1.7 0.1h0m3.1-1h0m9.3 0.1h0m-54 1.9h0m2.1 1.6h0m15.1-1.3h0m2.4 0.9h0m0.7-1.1h0m6.6-0.3h0m6.7 0h0m3.2 1.7h0m0.1-0.7h0m0.2-1.5h0m0.5 0.3h0m9.2 0.8h0m0.5 1.5h0m1.9-0.8h0m1.9 0.5h0m4.7-0.1h0m12.2-0.3h0m0.7 0.3h0m-73.5 2.3h0m0.2-1.5h0m3.2 0.5h0m0.6 1.7h0m4.8-2.1h0m3.9 1.4h0m0.2-0.5h0m11.9 1.5h0m8.9-0.4h0m0.2-0.3h0m0.6-1.5h0m3.6-0.1h0m7.1 2.4h0m9.5-0.9h0m2.4-0.6h0m0.9-0.3h0m4.4-0.9h0m1.2 0.3h0m0 2.6h0m0.7-2.7h0m1.6 2.3h0m1.7-1.7h0m8.7 1.1h0m-75 3.4h0m5.4-1h0m5.9 0.5h0m8.3-1.3h0m8.3 1h0m5.3-1.4h0m10.2 2h0m6-1.6h0m3.6-0.4h0m9.8 1.6h0m5.8 0h0m0.5-0.2h0m6.9 0.3h0m-77.3 1.7h0m11.7 1.4h0m2.5-1.7h0m1.9 1h0m5.9-0.9h0m1.9 0.9h0m2 1.7h0m2.2-0.9h0m1.9-1.5h0m13-0.3h0m2.6 2.5h0m8-1.6h0m4.7 0.6h0m11.3 0.3h0m-62.4 3.8h0m7.3-0.1h0m11.1-0.9h0m2.1 0.9h0m1.7-0.2h0m2.3-0.5h0m18.7 0.9h0m1.8-1.3h0m9.8 0.5h0m5 0h0m6.1-1.2h0m0.4 0h0m4.4-0.6h0m-69.3 3h0m10.2 1.1h0m0.5-0.5h0m3.7 0.6h0m0.5-1.5h0m0.3 1.3h0m3 0.2h0m8.2-1.2h0m4.3-0.1h0m0.3 1.6h0m2.9-0.8h0m14.2 1.3h0m1.2-1h0m9.2 0.3h0m0.5 0.1h0m2.4 1h0m8-0.6h0m0-0.6h0m-63.6 4.1h0m6.3-1.8h0m1.6 2.2h0m18.2-2.2h0m2.3 0.3h0m3-0.5h0m8.2 1.4h0m0.2-1.1h0m16.7 0.1h0m0.6 0.6h0m2.8 1.1h0m-48.2 2.2h0m2.3 0.1h0m1.6-1.7h0m0 1.2h0m5.3 0.7h0m4.1-0.8h0m9.9-1.3h0m4.4 0h0m3.1 0.8h0m4.3 2.1h0m4.9-0.8h0m0.1-0.5h0m2.2-1h0m0.4-0.7h0m2.2 2.3h0m6.8 0.5h0m0.1-0.8h0m0.3 0h0m-72 2.9h0m6.3 0.3h0m1.3-0.7h0m0.7-0.3h0m4.9 1.7h0m1.5-0.2h0m0.8 0h0m25-2.2h0m0.9 2.3h0m9.7-1.6h0m0.2 1h0m0.1-1.2h0m9.3 1.4h0m-58.5 0.9h0m11 0h0m10.2 0.3h0m4.4-0.5h0m20.5-0.1h0m5.4 1.1h0m8.7-0.2h0m3.9 0.3h0m3.8-0.7h0" stroke="#a060b8" stroke-width="2.0" stroke-linecap="square" opacity="0.5"/>
<path d="M166.4 589.3h0m2.6-0.1h0m0.4 0h0m8.5 0.3h0m10.2-0.3h0m8.3 0.3h0m4.4-0.2h0m-60.8 2.4h0m4.5-0.7h0m4.9-0.7h0m3.4-0.2h0m0.1 0.5h0m2-0.5h0m0.4 0.6h0m1.5-1h0m0.3 1.7h0m1.7 0.4h0m0-2.3h0m0.8 0.9h0m1.7-0.2h0m4.9 1h0m0.8-1.2h0m9.9 1.8h0m1.2-1.6h0m7.8 0.3h0m7.9 0.3h0m1.9-0.3h0m4.1 1.8h0m0.4-1.3h0m7.8 1.4h0m4.5 0h0m1.1-1.7h0m1.8-0.2h0m2.8-0.7h0m-76.5 3.3h0m1.7 2.3h0m7.2-2.6h0m2.7 2.3h0m1.3-2h0m2.2 0.5h0m1.5 0.7h0m2.8-0.4h0m4 0.8h0m1.8-0.2h0m1.3-1.4h0m0.7 0.1h0m0 0.7h0m10.1-0.6h0m0.5-0.5h0m4.8 2.1h0m1.4-1.3h0m2-0.3h0m2.5 1.5h0m3.8-0.6h0m2.6-0.6h0m1 0.7h0m3.6 0.8h0m3-0.3h0m0.2-2.1h0m10.6 0.1h0m0.5 2.4h0m0-2.3h0m1.2 1.6h0m-76.8 2.1h0m1.9-0.8h0m4.9 1.5h0m1.2 0.7h0m3.5-1.7h0m0.8 0.4h0m6.1 0.6h0m1.9-1.1h0m5.1 0.6h0m0.4 0.2h0m1.2-0.4h0m0.6-1h0m0.9-0.1h0m1.2 2.5h0m3.6-0.7h0m0.2-0.7h0m0.7 1.6h0m9.9-2.1h0m3.5 0.1h0m3.8 0.9h0m13.7-1.4h0m1.5 2.6h0m0.5-1.9h0m2.4 0h0m0.3-0.6h0m2.2-0.2h0m2.6 2.3h0m2.4 0.2h0m-72.4 0.9h0m1.3 0.2h0m2.7 0h0m5.5 2h0m1.4 0.2h0m2.5-1h0m0.5-0.3h0m1.6-1.4h0m6.5 2.6h0m0.4-2.8h0m0.1 0.7h0m0.8 1.7h0m1.1-2.1h0m8.3 2.6h0m2.5-1.8h0m0.5-1h0m0.3 2.3h0m2.7-1h0m1.6 0.8h0m0.6-1.4h0m0 0h0m0.8-0.7h0m1.4 1.6h0m5.4 0.8h0m1.8-0.2h0m1.1-1.2h0m0.9-0.7h0m5.8 2.1h0m1-0.1h0m0.7-1.7h0m0.1 0.9h0m8.3-0.6h0m1.5-0.1h0m1.9 0.5h0m0.2 0.4h0m0-1.7h0m0.8 0.6h0m-70.6 4.3h0m2.5 1h0m1.3-0.9h0m0.8 0.9h0m1.2-2.2h0m0.1-0.3h0m1.8 1.7h0m0-0.3h0m3.9-0.1h0m0.4 1h0m1.7-2.2h0m7.5-0.3h0m1.9 2.7h0m6.8-2.5h0m3.3 0.8h0m6.8-0.5h0m0.5 0.3h0m1.4 0.2h0m1.5 0h0m0.6-1.2h0m0.2 2.1h0m2.4 0.7h0m0.1-1.6h0m0.8 1.5h0m0.1-0.4h0m2 0h0m1.9-0.8h0m1.4 0.9h0m1.2-1.6h0m0.5 0.8h0m9.3 0.5h0m3.5-1.8h0m1.9 1.7h0m0.2-0.5h0m0.5-0.1h0m-77.6 2.9h0m3.2 0.3h0m3.3 1h0m4.3-1.6h0m1.1 0.8h0m0.3 0h0m0.9-1.6h0m2.4 0.5h0m0.4-0.5h0m0.1 1.9h0m0.5-1.6h0m0.6 0.4h0m0.9-0.1h0m9.3-0.6h0m1.7 0.4h0m1.3 1.2h0m0.1 0.6h0m4-0.7h0m2.8-1.1h0m22 0.7h0m0.8 1.1h0m2.5 0.2h0m3.6-1.7h0m0.6 0.3h0m2.6-0.1h0m1.8-0.5h0m2.4-0.3h0m2.5 2.2h0m1.9-0.5h0m1.3-0.6h0m-73.4 3.2h0m1.8 0.1h0m0.1-0.1h0m0.2-0.9h0m1.9 1.6h0m0.4-0.1h0m1.4-1.3h0m0.3 1.2h0m1.4-2.2h0m0.2 1.9h0m0.4-0.4h0m5.5 0.9h0m1.2-1.2h0m2.5 0.2h0m6.6 0.8h0m2.1-0.5h0m0.9 0.6h0m0.3-1.3h0m0.1 1.3h0m0.4 0.1h0m0.8 0.4h0m2.5-0.8h0m1.4-0.3h0m0.3-1.5h0m0 2.6h0m1.3-0.3h0m0.4-1.2h0m1.8 1.4h0m8.3 0h0m1.8-2.4h0m0.7 2.2h0m5.9-2.3h0m0.7 1.2h0m1.1 0.2h0m0.2-0.6h0m0.6 0.7h0m2 1h0m2.8-1.9h0m3.8 1.6h0m0.8-2.4h0m1 1.7h0m2.9 0.8h0m1.5-0.6h0m2.4-0.4h0m-76.7 2.4h0m2.5 0.9h0m5.7 0.3h0m0.6-2.1h0m3.7 2h0m0.5 0.2h0m2-2.1h0m3.5 1.2h0m1.6 0.7h0m2.3-1.6h0m3.7 2.1h0m0.9-0.1h0m0.9-1.6h0m5.1 1h0m2.6-1.3h0m1.7 1.8h0m0.4-0.8h0m1.5 1.3h0m2.1-1.7h0m0.5-0.2h0m11.8 1.6h0m4.6 0.3h0m2.2-0.3h0m0.7 0h0m0.8-2.1h0m0 1.7h0m0.8-1.5h0m2.3 0.2h0m0.1 2h0m0.7-0.2h0m1.9-2h0m0 0.3h0m0.9 1.3h0m0-1.5h0m1.9 0.1h0m1-0.6h0m3.6 1.2h0m0.6 1.1h0m0.3-2.4h0m1.2 1.5h0m-78.6 1.9h0m6.7 1.5h0m0.8 0.3h0m5.3-0.2h0m0.4-0.4h0m3-0.5h0m0.6-0.1h0m0.6 0.5h0m1.1-1.6h0m7.4 0.1h0m2 2.5h0m4-0.5h0m3.5-0.8h0m4.1 1.3h0m1.7-1.7h0m1.5 1.6h0m1.2 0.2h0m3.9-0.8h0m2.3-1h0m3.5 0.7h0m1.7 1.3h0m1.1-2.4h0m1.2 0.5h0m0.5 1.7h0m0-2.5h0m0.6-0.1h0m0.3 2.6h0m1.3-1.5h0m1 0.7h0m0.6 1h0m0.6-0.6h0m3.6-0.8h0m0.4-0.4h0m0.1 1.9h0m0.6-0.5h0m1.1-0.1h0m0-1h0m1.2 0.9h0m-69.8 2.4h0m2.5 0.4h0m0-2.1h0m1.3 1.6h0m1.1 0.6h0m1.1-0.6h0m2.3 0.9h0m2.4-2.2h0m0.1 1.8h0m3.8 0.1h0m0.9-1h0m2.8 1.5h0m7.2-1.8h0m1.1 1.7h0m0.8-2.2h0m0.2 2.4h0m0.5 0h0m3.3-0.2h0m3.3-2.4h0m1.8 0h0m4 1.4h0m6.9 0h0m0.3 0.7h0m0.1 0.4h0m2.6-1.1h0m0.2 0.2h0m0.6 0.8h0m0.9 0.2h0m0-2.7h0m1.2 0.3h0m2.2-0.2h0m0.3 0.5h0m0.2 0.6h0m0.9 0.6h0m0.8 0.5h0m2.2-0.7h0m0.2 1.2h0m0.1-2.7h0m2.2 0.3h0m0.8-0.3h0m4 0.9h0m5.6-0.6h0m0.4 1h0m0.4 0.9h0m-73.5 3.3h0m0.3-2.1h0m4.1 1.3h0m5.6 1h0m0-0.3h0m1.7 0.1h0m1.2-2h0m0.8 0.5h0m4 0.9h0m3.9 0h0m1.8-0.9h0m1-1h0m15.7 0.2h0m0.6 1.8h0m1.8-0.8h0m1.4 0.7h0m0.3-1.6h0m0.1 0h0m1-0.1h0m0.3 1.7h0m3.2 0h0m0.5 0.4h0m1-1.5h0m2.6-0.1h0m0.3 0.9h0m2.9 0h0m1.3-0.3h0m0.8-0.9h0m1.2 2.3h0m1.1-0.8h0m0.9-0.2h0m3.7-1.7h0m0.4 0.8h0m1.1-0.7h0m2.5 0.4h0m0.5 0.1h0m3.1-0.4h0m4.8 1.7h0m-77.6 3.5h0m6.9 0.3h0m0.9-1h0m1.3 1h0m0.2-1.9h0m1.2 0.2h0m0.6 0.4h0m1.8-1.1h0m2.6 1.1h0m0.8 0.7h0m1.6 0.4h0m4-1.8h0m0.5-0.2h0m2.6 0.7h0m1.3 0.5h0m9-1.3h0m2.4 2.3h0m2.1-1.3h0m0.2-0.7h0m0.3 0.5h0m4.1 1h0m0.3-0.6h0m1.3-1h0m1.8-0.7h0m2.6 2.2h0m1.5 0h0m1.2-0.3h0m0-1.6h0m0.3 1.3h0m1.9-1.3h0m0.5 1.7h0m0.4-0.3h0m0.7 0.8h0m0.8-0.4h0m0.5-2h0m2.5 1.8h0m1.8-1.2h0m1 0.6h0m1.1 0.2h0m4.5 0.2h0m0.1 0.8h0m5.4-2.5h0m1.8 0.6h0m2.1-0.1h0m-78 3.3h0m0 0.2h0m1.8 1.6h0m6.1 0.1h0m0.4-0.9h0m0.1-1.4h0m2.6 1.9h0m1-1.6h0m0 1.1h0m0.7-1.6h0m6.9 1.1h0m2-1h0m4.4 0.6h0m0.7 0.9h0m0.1-0.1h0m3.7 1.1h0m2.7-2h0m1.5 1.4h0m0.6 0.6h0m2-2.1h0m4.6 0.3h0m1.2-0.3h0m0.1 0.2h0m0.1 1.3h0m1.4 0.7h0m2.3-2.1h0m0.1 1.6h0m0.9-1.7h0m2.9 1.9h0m0.5-0.5h0m0.5-1.2h0m2.4 1.7h0m0.7-0.4h0m1.6-0.7h0m2.4-0.9h0m2.5-0.1h0m1.3 2.1h0m3.9 0.1h0m1.4-0.6h0m2.2-0.3h0m1.7-1.6h0m0.3 2.7h0m2.4-0.4h0m1.9-2h0m1.5 0.2h0m-77.8 4.9h0m0.8-1.1h0m4.5-0.3h0m0.7-0.8h0m0.8 1.9h0m0.9-2.1h0m1.2 1.5h0m1.2-1.2h0m0-0.2h0m0.1 2.5h0m0.5 0.1h0m0.4-2h0m3.8-0.4h0m1.2 0.1h0m0.1 1.7h0m2.8 0.5h0m2.8-2.2h0m1.7 0h0m7.1 1.5h0m0.2 0.4h0m3.7-1h0m1.8-0.7h0m1.3 1.3h0m0.4-0.8h0m0.8-0.2h0m0.7 0.3h0m1.3-0.2h0m0.8-1.1h0m2.6 2.4h0m3.6-1.2h0m0.6-0.6h0m2.8 0.7h0m1.5 0.5h0m1-0.8h0m1.2-0.7h0m1.7 1.6h0m1.4-1.2h0m0.7 0.9h0m1.2-1h0m4.9-0.7h0m0.1 0.4h0m2.3 0.8h0m1.1 1.6h0m1.6-2.7h0m4 1h0m-71.2 2h0m0.2-0.1h0m2 0.4h0m2.4-0.2h0m2.9 0h0m0.8 1.4h0m1.3-1.7h0m0.2 1.6h0m0.1-0.2h0m2.9 0.1h0m2.7-0.1h0m1.4 0.3h0m1-0.5h0m8.7 1.4h0m3-2.2h0m2.3 0.2h0m4-0.1h0m7.9-0.5h0m1.4 0.8h0m1.7 1.6h0m0.9-0.8h0m0.3 0.7h0m2.7-0.8h0m2 0.5h0m2.2 0.9h0m0.2-1.5h0m0.6 0.3h0m1.2-1.3h0m1.4 2.2h0m3.2-2.4h0m4.8 0.8h0m1.1 0.7h0m0.7 1.1h0m1.5-2.2h0m1 0.1h0m-73.4 5h0m0.3-2.5h0m3.9 1.6h0m1.4-0.2h0m0.9-1.5h0m0.3 1.3h0m0.1-0.3h0m1.5 0h0m9.6-1.1h0m2.4 2.6h0m2-2h0m4.6 1.7h0m1.6-1.2h0m1.3-0.5h0m4.6 1.8h0m0 0.3h0m2.1-0.6h0m0.5 0.8h0m1.1-1.1h0m1-0.2h0m2.6 0.3h0m0.8-0.5h0m2-1.2h0m0.6 2.7h0m3-2.1h0m1.5 1h0m6.9-0.7h0m1.9 1.3h0m0.9-1.1h0m2 0.4h0m1.4-1.1h0m4-0.1h0m2.8 0h0m0.7-0.2h0m7.1 2.4h0m0.5-2.6h0m-77.6 4.3h0m0 0.3h0m1.6-1.6h0m0.1 1.9h0m1.4 0.2h0m0.2-0.8h0m1.3-1.1h0m3 2.4h0m12-1.3h0m4.5 0h0m1.7 0.2h0m1.3 0.1h0m0.3 0.5h0m1.3-0.2h0m0.3 0.4h0m0.7-1.2h0m0.6 0.6h0m0 0.2h0m0.3 0h0m1-1.3h0m4.1-0.5h0m1.3 1h0m6.3 1.4h0m0.2-1.5h0m2.5 0.5h0m1.7-0.2h0m5.2 1.1h0m4.7-0.8h0m0.4 0.4h0m1.2 0.7h0m2.9-0.3h0m5.2-1.2h0m1.6 0.5h0m3.2-0.4h0m-68.7 2.5h0m0.6 0.9h0m4.2-0.4h0m2.3-1.4h0m2.7 2.4h0m2.4-2.1h0m1.5 2.2h0m7.5-0.7h0m0-0.3h0m0.3 1h0m0.7-1.8h0m0.2 0.9h0m1.9 0.2h0m0.9 0.5h0m0.7-2h0m3.5 0.6h0m2.6 1.9h0m0-1.9h0m2 1h0m2.2-0.6h0m4 0.3h0m0.2 0.4h0m0.9 0.7h0m0.2-1.2h0m0.8-0.3h0m0.1 1.1h0m0.3-0.9h0m0.5 0.9h0m2.1-0.2h0m2.8-0.5h0m0.6 1.1h0m1.7-0.5h0m0.2-0.3h0m3.9-1h0m1.6-0.3h0m3.6-0.6h0m1 1h0m3.2 0.8h0m3.7-0.8h0m3.2 1.8h0m3.2-2.5h0m-74.9 4.7h0m4.3 0.8h0m7.2-1.5h0m2.5-0.9h0m3.6 1.2h0m0.6-1.1h0m3.7-0.3h0m9.1 2.6h0m3.1-1.8h0m1.6 0.2h0m4.3-1.2h0m1.7 0.8h0m2.3 1.6h0m5.5-1.7h0m1 1.7h0m1.6 0.4h0m5.1-2.1h0m1.3 2.2h0m2.5-0.6h0m9.7 0.6h0m0.4-1.2h0m1.7-0.4h0m0.1 0.8h0m2.6-0.6h0m-78.6 2.7h0m3.3 1.7h0m2.2-1.1h0m1.2 1h0m0.3-2.4h0m1.3 2.3h0m2.2-1.5h0m0.8-0.7h0m2 0.5h0m0.7 0.6h0m7.7 0.1h0m3.1-0.7h0m1.5 0.3h0m2.3 1.6h0m2.2-2.1h0m0.2-0.7h0m0.2 0.3h0m1-0.1h0m4.4 1.1h0m4.7 1.5h0m4.9-2.7h0m2.3 0.3h0m1.9 1.5h0m3.7 0.6h0m1.4-0.4h0m0.5-1.4h0m0.2 0.4h0m0.1 1.2h0m1.9-2.1h0m0.7 1.1h0m0.5 0h0m0.9-1.1h0m1.5 0.7h0m0.5 1.7h0m1.7-1.9h0m1 1.5h0m1.1 0.2h0m0 0.2h0m1.4 0h0m1.7-0.4h0m0-1h0m0.3 0.6h0m1.1-1.8h0m0.8 2.1h0m0.2-2.1h0m0.2 0.1h0m2.3 0.6h0m2.8-0.4h0m0.5 0.7h0m0.1 1.9h0m-76.5 1.2h0m0.5-0.4h0m2.4-0.8h0m2.4 0.1h0m2.7 0.3h0m2.5 0.6h0m1.5-0.7h0m2.3 0.1h0m10.6 0.5h0m7.4-0.1h0m8 0.4h0m5.8-1.1h0m13.2 0h0m5.5 0.9h0m0.6-0.1h0m4.9-0.5h0" stroke="#3626a0" stroke-width="1.4" stroke-linecap="square"/>
<path d="M166.4 589.3h0m2.6-0.1h0m0.4 0h0m8.5 0.3h0m-37.9 2.2h0m9.4-1.4h0m5.5-0.2h0m0.4 0.6h0m21.6 1.1h0m1.2-1.6h0m7.8 0.3h0m7.9 0.3h0m6 1.5h0m0.4-1.3h0m7.8 1.4h0m4.5 0h0m1.1-1.7h0m1.8-0.2h0m2.8-0.7h0m-76.5 3.3h0m8.9-0.3h0m10.5 1.1h0m4 0.8h0m3.1-1.6h0m16.1 1.8h0m1.4-1.3h0m8.3 0.6h0m7.2 0.9h0m-61.3 1.5h0m1.9-0.8h0m4.9 1.5h0m4.7-1h0m0.8 0.4h0m8-0.5h0m5.1 0.6h0m2.2-1.2h0m2.1 2.4h0m4.5 0.2h0m9.9-2.1h0m7.3 1h0m15.2 1.2h0m3.2-2.5h0m4.8 2.1h0m2.4 0.2h0m-72.4 0.9h0m10.9 2.4h0m3-1.3h0m1.6-1.4h0m6.5 2.6h0m18.3-0.6h0m0.6-1.4h0m2.2 0.9h0m7.2 0.6h0m2-1.9h0m5.8 2.1h0m1-0.1h0m0.7-1.7h0m8.4 0.3h0m1.5-0.1h0m1.9 0.5h0m1-0.7h0m-66.8 4.4h0m2-1.3h0m0.1-0.3h0m1.8 1.4h0m3.9-0.1h0m28.4-1h0m0.5 0.3h0m1.4 0.2h0m4.7 1.6h0m0.9-0.1h0m0.1-0.4h0m5.3 0.1h0m16.4-0.4h0m0.7-0.6h0m-77.6 2.9h0m12.2 0.5h0m3.7-1.6h0m0.6 0.3h0m0.6 0.4h0m10.2-0.7h0m32.7 2.2h0m6.7-1.2h0m4.4-0.6h0m4.9 1.9h0m1.9-0.5h0m-66 3.1h0m1.4-2.2h0m0.2 1.9h0m0.4-0.4h0m6.7-0.3h0m2.5 0.2h0m8.7 0.3h0m0.9 0.6h0m0.3-1.3h0m5.2 0.7h0m0.3 1.1h0m1.3-0.3h0m0.4-1.2h0m10.1 1.4h0m10.2-1.1h0m0.2-0.6h0m2.6 1.7h0m2.8-1.9h0m4.6-0.8h0m-66.4 4.8h0m5.7 0.3h0m0.6-2.1h0m4.2 2.2h0m14.9-1.4h0m11.3 2h0m2.1-1.7h0m0.5-0.2h0m11.8 1.6h0m6.8 0h0m1.5-2.1h0m0 1.7h0m3.2 0.7h0m0.7-0.2h0m1.9-2h0m0 0.3h0m2.8-0.1h0m1-0.6h0m3.6 1.2h0m0.6 1.1h0m-77.1 1h0m7.5 1.8h0m5.7-0.6h0m3-0.5h0m0.6-0.1h0m0.6 0.5h0m1.1-1.6h0m7.4 0.1h0m2 2.5h0m7.5-1.3h0m12.4 0.6h0m5.8-0.3h0m1.7 1.3h0m2.3-1.9h0m0.5-0.8h0m3.2 1.7h0m1.2 0.4h0m3.6-0.8h0m2.2-0.1h0m1.2 0.9h0m-67.3 0.7h0m8.2 0.3h0m0.1 1.8h0m3.8 0.1h0m10.9-1.3h0m2.1 1.9h0m0.5 0h0m3.3-0.2h0m3.3-2.4h0m5.8 1.4h0m6.9 0h0m0.4 1.1h0m2.8-0.9h0m1.5-1.7h0m1.2 0.3h0m2.5 0.3h0m1.9 1.7h0m4.7-1.9h0m10.8 1h0m-73.1 4.2h0m0.3-2.1h0m11.4 2.1h0m1.2-2h0m0.8 0.5h0m7.9 0.9h0m18.5-1.7h0m0.6 1.8h0m1.8-0.8h0m3.1 0.7h0m7.3-1.2h0m7.6 1.2h0m6.1-1.8h0m6.1 0.1h0m-72.8 5.2h0m10.5-1.4h0m0.6 0.4h0m1.8-1.1h0m2.6 1.1h0m24.3 0h0m4.6 0.8h0m6-0.1h0m5.4-0.2h0m0.4-0.3h0m0.7 0.8h0m1.3-2.4h0m6.4 1.4h0m4.6 1h0m7.2-1.9h0m2.1-0.1h0m-78 3.3h0m0 0.2h0m7.9 1.7h0m0.4-0.9h0m2.7 0.5h0m1-0.5h0m9.6-1.5h0m4.4 0.6h0m0.8 0.8h0m3.7 1.1h0m2.7-2h0m8.7 0.2h0m1.2-0.3h0m3.9 0.1h0m1-0.1h0m3.4 1.4h0m7.6-1.5h0m2.5-0.1h0m1.3 2.1h0m3.9 0.1h0m8-0.2h0m3.4-1.8h0m-77.8 4.9h0m0.8-1.1h0m6 0.8h0m0.9-2.1h0m2.4 0.1h0m0.1 2.5h0m0.9-1.9h0m7.9 1.9h0m2.8-2.2h0m8.8 1.5h0m0.2 0.4h0m3.7-1h0m1.8-0.7h0m1.7 0.5h0m2.8-0.1h0m3.4 1.3h0m3.6-1.2h0m5.9-0.2h0m11.2-0.7h0m-60 3h0m5.3-0.2h0m0.8 1.4h0m1.5-0.1h0m0.1-0.2h0m7 0.3h0m1-0.5h0m11.7-0.8h0m2.3 0.2h0m11.9-0.6h0m1.4 0.8h0m2.6 0.8h0m5 0.4h0m3-0.3h0m1.2-1.3h0m4.6-0.2h0m5.9 1.5h0m-69.9 1.5h0m6.5 1.2h0m0.1-0.3h0m15.5-0.5h0m4.6 1.7h0m1.6-1.2h0m1.3-0.5h0m7.2 2.3h0m2.1-1.3h0m2.6 0.3h0m2.8-1.7h0m3.6 0.6h0m13.2 0.9h0m1.4-1.1h0m14.6 2.1h0m0.5-2.6h0m-77.6 4.6h0m3.1 0.5h0m1.5-1.9h0m21.2 1.3h0m1.6 0.6h0m1.3-0.2h0m1-0.8h0m0.6 0.6h0m0 0.2h0m17.4-0.6h0m5.2 1.1h0m14.4-1.2h0m4.8 0.1h0m-61.6 1.6h0m15.3 1.6h0m7-0.7h0m2.6 0h0m4.2 0.4h0m5.1 1.4h0m1-1.5h0m0.1 1.1h0m2.9-0.2h0m3.4 0.6h0m1.7-0.5h0m13.5-0.4h0m10.1-1.5h0m-63.4 4h0m19.5 1.5h0m19.5-0.4h0m22.3-1.1h0m2.7 0.2h0m-78.6 2.7h0m5.5 0.6h0m2.8 0.9h0m3-2.2h0m2 0.5h0m8.4 0.7h0m6.9 1.2h0m2.2-2.1h0m0.2-0.7h0m5.6 1.3h0m4.7 1.5h0m4.9-2.7h0m4.2 1.8h0m3.7 0.6h0m1.4-0.4h0m3.9-0.8h0m0.9-1.1h0m4.7 2h0m1.1 0.2h0m4.5-2.4h0m1 0h0m5.8 1h0m0.1 1.9h0m-76.5 1.2h0m10.5-0.2h0m21.8-0.2h0m13.8-0.7h0" stroke="#201066" stroke-width="1.0" stroke-linecap="square"/>
</g></g>
<rect x="138.3" y="588.6" width="80.39999999999998" height="62.60000000000002" fill="none" stroke="#111" stroke-width="1.6"/>
<clipPath id="cE3"><rect x="229.9" y="588.6" width="80.49999999999997" height="62.60000000000002"/></clipPath>
<g clip-path="url(#cE3)">
<rect x="229.9" y="588.6" width="80.49999999999997" height="62.60000000000002" fill="#caa4de"/>
<g filter="url(#soft)">
<path d="M291.9 589.5h0m-46.9 0.5h0m0.8-0.5h0m4.3 1.1h0m0.1-1h0m13.7 0.8h0m28.2 1.8h0m-61.4 2.8h0m3.5-2h0m1.5-0.1h0m2.3 1.8h0m1.8-0.7h0m13.5 1.1h0m13.5-2.4h0m13.9 0.4h0m3.6 0.9h0m6.1 0.8h0m-39.3 2h0m2.4 1.7h0m13.4-0.6h0m3.9 0.6h0m4.3-0.2h0m0.3-0.8h0m7.7-1.2h0m12 0.7h0m5.9 0.1h0m1.3-0.2h0m7.4-0.8h0m-76.3 2.8h0m8.4 1.1h0m9.5 0h0m0.6 1h0m9.3 0.1h0m1.6-1.1h0m2.4-1.2h0m8.1 0.5h0m2.4 0.7h0m5.3-1.3h0m2.6 0.8h0m0 1.9h0m2.4-1.6h0m9.3 1.3h0m6.8-1.7h0m1 1.7h0m-67.4 3.2h0m9.1-2.4h0m3.4 1.1h0m9.4 1h0m6.7-1.9h0m1.2 2.3h0m4.3-1.7h0m5.4 1.8h0m5.6-2.2h0m0.2-0.5h0m5.5-0.3h0m6.2 2.3h0m0.8-1.5h0m0.7 0.4h0m6.4 0.6h0m4.1 0.7h0m-69.5 1.4h0m4.8 0.9h0m18.2-1.1h0m6.4 0.6h0m0 0.9h0m11.2-1.9h0m10.5 0.3h0m5.5 2.1h0m8-2.7h0m5.4 0.2h0m-74.3 4.5h0m0.7-0.8h0m3 0.4h0m25.3 0h0m7.3 1.2h0m2-2h0m12.5 0.6h0m9.7-0.9h0m6.2 2.1h0m1.8-0.1h0m4.8 0.1h0m-73.5 2.5h0m4.8-0.4h0m8.2-0.9h0m4.5 0.8h0m2.2 0.3h0m3.7-0.5h0m5.6 0.8h0m6.4 0.2h0m8.3-2h0m5.3 1.8h0m2.3-0.7h0m7.6 0.9h0m5.2-1.5h0m8.2 0.2h0m0.5 0h0m3.9-0.7h0m-74.1 4.3h0m7.5-0.4h0m33.1 0.7h0m25.4-1h0m0 2.2h0m2.8-1.8h0m2.8 0.7h0m-74.4 2.6h0m9.5 0.4h0m16-0.7h0m1.4 1.1h0m11.1-0.9h0m28.2 0.1h0m-63.9 2.7h0m9.6 0.4h0m1.7 0.8h0m20.9-0.6h0m5.5-0.5h0m3.6 1.1h0m4.1-0.9h0m1.9-1.1h0m8.1 2.1h0m-38.5 3.3h0m3.6-0.3h0m0.7-1h0m2.9-1h0m10 0.6h0m18.8-0.7h0m5.7 2.3h0m2.1-1.7h0m2-0.7h0m7.9 0.3h0m1.7 0.7h0m-73 2h0m2 0.3h0m1.2 0.3h0m2.6 2.1h0m11-2.8h0m1.4 1.2h0m5.3 1.4h0m0.8-2.4h0m2.8 1.4h0m8.7-1.5h0m11.8 1.2h0m1.6-0.9h0m9.4 0.7h0m5.5 1.2h0m1.7 0.5h0m6.5-1.8h0m0.7-0.9h0m-68.6 4.1h0m5.3 0h0m7.3-1.1h0m1.4 1h0m12 0.2h0m0.6-0.3h0m6.7-0.7h0m2 0h0m1.5 2.3h0m12.1-0.5h0m3.2-2.1h0m-55.4 5.5h0m2.4-1.6h0m21.4 1.5h0m33.8-0.9h0m8.1 0.7h0m4.8-0.8h0m4.8-1.2h0m-65.2 4.9h0m3-2.1h0m6.9 0.5h0m7.1 0.1h0m18.8 0.8h0m9.4 0h0m14.5 0.7h0m2 0.2h0m0.7-2.4h0m-70.4 4.1h0m3.7 1.4h0m5.4-2.3h0m6.3 1.9h0m4.8 0.8h0m2.8-2.6h0m-23.4 4.7h0m21-0.9h0m7.9 1h0m7.2 0.9h0m1.5-2.4h0m11.7 2.1h0m4.1-1.3h0m1.2 0.9h0m11.8-1.7h0m5.3 0.6h0m-69.1 2.6h0m1 0.3h0m11.2 1.5h0m1.1 0.1h0m2.2-1.9h0m12.3 1.4h0m12.8-0.6h0m-46.6 3.7h0m12.2-2.3h0m0.7 2.6h0m2.9-2.4h0m1.2 0.2h0m4.4 0.1h0m11.3 0.3h0m7.4 1.8h0m4.7-1.7h0m2-0.6h0m6.9 2.2h0m1.1 0.3h0m-54.1 1.4h0m60.8-0.1h0" stroke="#b088d0" stroke-width="2.0" stroke-linecap="square" opacity="0.5"/>
<path d="M275.9 589.4h0m-36.7 2.8h0m1.4 0.2h0m2.2-2.9h0m1.4 2.1h0m7-1.2h0m9.6-0.5h0m3.2-0.3h0m5 1.4h0m8.3 0.5h0m6.6-1.6h0m9.2 2.5h0m1.3-0.8h0m1 0.1h0m0.5-1.2h0m2.9 1.3h0m2.2-0.4h0m5.7-0.5h0m0.4-1.2h0m1.9 0.4h0m-74.5 4.3h0m6.1-0.7h0m11.9-1.1h0m4.2 2.7h0m2.8-0.3h0m3.4 0.3h0m3.7-2.5h0m0.6 2.5h0m4.1-1.4h0m3.7 1.1h0m2.9-0.6h0m1.1 0.8h0m0.6-0.2h0m0.5-0.3h0m1.9-1.9h0m0.3 1.7h0m0.7-0.8h0m0.8-0.4h0m1.6 1.2h0m0.1 0.4h0m5.9-1h0m0.2 0.7h0m13.3-1h0m2.4 1.4h0m1.1-2.5h0m0.9 1.8h0m0.5-0.6h0m-76.9 3h0m3 0.7h0m1.2 0.3h0m5.1 0.5h0m1.7-1.9h0m8.3 1h0m4.2-0.9h0m0.9 0h0m1.7 0.3h0m1.3 0.7h0m6.1-1.8h0m2.2 1.2h0m0.4 0.2h0m0.3-1.2h0m5.5 1.1h0m1.9 1.4h0m0.8-2.2h0m1.3-0.5h0m0.4 0.7h0m0.2 0.9h0m1.7 0.6h0m1.4-1.3h0m0.4 1.7h0m0.6-1.2h0m2.1-1.4h0m0.1 0.6h0m8.2 1.2h0m0.8 1h0m1.6-2.7h0m3.2 1.9h0m1.5-1.8h0m3.4 2h0m0.7 0.4h0m4.4-2.3h0m-72.8 3.3h0m11.3 1h0m0.7-0.8h0m2.3 0.5h0m0-1.3h0m4.6 0.6h0m1.2 2.2h0m5-1.5h0m7.4 0.1h0m1.2-0.6h0m11 0.2h0m0.7 1.8h0m3.2-0.6h0m5.7-1.3h0m2.3 0.7h0m6.8 0.7h0m0.7-2.2h0m-70.1 4.9h0m5.9-0.6h0m1.5 0.6h0m10.9-1.3h0m10.9-0.4h0m3 0h0m2.5 1.4h0m12-0.2h0m3.6-0.6h0m1.1 0.6h0m3.6 1.4h0m1.2-2.5h0m2.1 1.2h0m2.8 1.2h0m3.1-1.1h0m0-1h0m0.6 0.3h0m0.7-1h0m0 2.5h0m0.9-2.1h0m0.1 2.1h0m3.1-0.5h0m0.2-1.7h0m1.4 2h0m0.1 0.1h0m1.5-1.3h0m1.5 1.7h0m0.3-0.7h0m-72.6 2.1h0m1.7 0.9h0m3.9 0h0m7.1-0.3h0m3.4-1.1h0m3.8 0.7h0m3.4 1.1h0m2-1.7h0m2.7 2.1h0m2.5-2.2h0m4.8 0.8h0m3.6-0.4h0m2.7-0.1h0m1 0.1h0m2.5-0.8h0m1-0.2h0m1.7 2.2h0m0.5 0.4h0m4.6-1.8h0m0.1 1.8h0m0.7 0.2h0m1.1-1.7h0m5 1.4h0m0.7-2h0m2.7 1.9h0m0.3-1.2h0m0.2 0.1h0m2.6 0.6h0m-65.7 2.1h0m7.3 1.6h0m14.7-2h0m9.7 1.4h0m7.9-0.5h0m0.7 0.1h0m1.2 0.4h0m0.4-1.3h0m0.8 0.2h0m1.4 0.2h0m0.7-1.1h0m2.1 0.8h0m0.3 0.4h0m0.4-0.3h0m2.3-0.3h0m0.6 0.1h0m0.1 0.2h0m0.1 0h0m0.2 1.3h0m1.6-2h0m7.9-0.1h0m0.4-0.2h0m0.6 1.4h0m0 1h0m0.3-0.5h0m11.6 0.2h0m1.9-0.6h0m-68.9 2.9h0m2-1.4h0m9 1.3h0m3 0.5h0m3-1.5h0m0.8 2.4h0m5.3-2.2h0m5.5 2.3h0m5.2-2.1h0m3.2 0.6h0m1.2 0.8h0m1.7-2.2h0m0.4 2.1h0m1.5-2h0m5.5 1.6h0m5.8 0.6h0m1.1-0.7h0m1.5-0.8h0m1.9 1.2h0m1.7-1.9h0m1.4 0.6h0m1.3 1.9h0m1.3-1.7h0m0.2 0.6h0m4.7 0.3h0m1.9-0.6h0m-73.5 2.4h0m2.4 0.8h0m1 0.2h0m3.9 1.2h0m11.2-2.4h0m1 2.6h0m6.4-1.6h0m1.5-0.8h0m2.6 2.3h0m0.6 0h0m0.9-2.8h0m2.7 0.3h0m7.5-0.3h0m0.1 1.7h0m2.4-0.2h0m0.2 0h0m0.7 0.2h0m0.3-1.3h0m7.4 0.3h0m1.2-0.4h0m1.7 0.5h0m1 1.6h0m0.3-0.2h0m0.3-0.1h0m0.3 0.4h0m4.1 0h0m6.6-0.8h0m2.5 0.4h0m-75 1h0m0.2 0.3h0m2.7-0.4h0m1.4 0.9h0m1.2-0.4h0m0.1 0.2h0m4.8-0.1h0m2.9 0.2h0m3.3 0h0m9.5 0h0m1.2-0.5h0m0.6 0.4h0m0.6 2h0m1.6-2.8h0m5.1 0.8h0m8.9-0.1h0m0.3 0.6h0m0.4-0.8h0m3.1 1.9h0m0.9-0.6h0m2.2 0.8h0m3.4 0.2h0m1.7-2.8h0m3.5 2h0m0.9-1.3h0m1.4-0.1h0m2.5 2.2h0m1.8-1.8h0m5.2-0.8h0m1.1 0h0m1.5 0.1h0m2.5 0.4h0m0.3 0h0m-77.1 4.9h0m0.1-0.1h0m0.4 0.3h0m0.3-0.7h0m1.2 0.5h0m3.7-2h0m0.4 0.7h0m0.5 0.4h0m0.2-0.9h0m1.1 0.1h0m0.3-0.3h0m0.7 0.3h0m0.6 0.8h0m1.1 1.2h0m4-0.3h0m5.1-0.3h0m0.7-2h0m4.8 1.2h0m1.4 1.1h0m3.4-2.4h0m1 0.2h0m2.2-0.4h0m1.8 1.1h0m0.7-0.7h0m1.5 2.4h0m0.6-0.8h0m4.6-1.8h0m1.1 1.8h0m2.4-1.9h0m3 1.4h0m0.7-0.2h0m0 0.6h0m1.2-1.2h0m0.5-0.1h0m2.1-0.3h0m0.1 1h0m1.5 1.6h0m15.2-2.7h0m1.6-0.1h0m0.3 2.8h0m3.3-1h0m-73.6 3.9h0m1.9-2.2h0m2.6-0.6h0m0.6 0.4h0m1.6 0.4h0m0.1 1.3h0m0.6-0.1h0m1.9 0.9h0m0.4-2.9h0m1.9 1h0m1.3 0.8h0m0.3-0.9h0m6.9 0.3h0m1-1.1h0m17.7 2.1h0m1.2-1.4h0m2.7-0.8h0m1 0.3h0m0-0.2h0m4.3 0.4h0m0.7 1.2h0m0.7-0.5h0m2.3-1.1h0m0.3 0.5h0m0.1 1h0m1 1h0m1.6 0.4h0m1.9-3h0m0.5 2.7h0m4.5-1.6h0m2.9 0.6h0m2.8-0.4h0m0.4-1.2h0m7.5 1.4h0m-75 2.3h0m5.8 1h0m2.6-1.1h0m1.8 0.7h0m8.3-0.5h0m4.5 0.2h0m7.3 0.9h0m4.3 0h0m10 0h0m1.5-0.4h0m0.5 0.1h0m1.8-1.3h0m12.5-0.2h0m0.7 0.3h0m0.7 1.3h0m1 0.4h0m6.2-2h0m-66.5 4.8h0m2.6 0.5h0m1.4-1.9h0m0 2.2h0m1.4-1.3h0m2.7 0.6h0m7-0.2h0m1.5-0.3h0m1.2-0.2h0m5.8-1.2h0m13.8 1.3h0m0.2 0.2h0m1.4 0.7h0m0-2.1h0m1.6 1.7h0m3.4-1.8h0m0.6 1.3h0m2.5-1h0m0.9 1h0m0.5 1.2h0m1.3 0.2h0m0.5-1.5h0m1.8 1.4h0m1.4-1h0m18.2-0.8h0m0.4 1.3h0m-77.2 2.4h0m4.4 0h0m2.2-1.3h0m0.1 1h0m3.6-0.9h0m0.5-0.1h0m0.1 2.6h0m3.2-1.7h0m1.8-0.1h0m7.3 1.5h0m0.6-2.1h0m2.2-0.5h0m0.7 2.1h0m2.3 0.5h0m1.4-0.7h0m4.1-0.9h0m3.4 0.1h0m3.4-0.6h0m2.6-0.2h0m0.2 2.2h0m0.5-1.4h0m0.7 0h0m1.1-0.3h0m0.1 0.3h0m0.3-0.2h0m2 0.2h0m0.1-0.4h0m0 1.8h0m0.7-1.5h0m1 1.4h0m0.8-0.3h0m2.9-1.6h0m2.6 2h0m0.7-0.2h0m1.3-1.6h0m6 2.1h0m0.2-0.8h0m3.9-1.2h0m2.3 1.1h0m0.5 0.5h0m2.7-0.1h0m1.4-2h0m-75.5 3.4h0m0.4 1.2h0m1.3-1.9h0m10.4 2.7h0m0.1-0.4h0m10-0.5h0m2.1-0.3h0m0.6-0.9h0m8.4 1.4h0m1.3-1.7h0m9.5 0.7h0m0.4 0.8h0m0.5 0h0m6.1-0.3h0m1.3-1.5h0m7.4 0.2h0m2.4 0.9h0m2.1 1.2h0m3.4-1.6h0m0.2 1.7h0m-68.6 1.2h0m1.3 1h0m7 1.2h0m5.8-2.6h0m9.4 0.3h0m5 0.4h0m4.2-0.4h0m2.2 0.5h0m3.7 0.5h0m3.7 0.7h0m2-0.7h0m0.1 0.8h0m0-0.8h0m1.9-1.6h0m0.3 1.6h0m0.7 0.8h0m6.6-0.5h0m0.7 1h0m0-2.5h0m2.3 1.8h0m0.8-0.3h0m2.4 1h0m1.5-2.9h0m0.3 1.1h0m6.7-0.3h0m0.1 0.9h0m2.1-0.1h0m1.2-0.4h0m0.7 0.9h0m3.6-0.2h0m0.4 0.5h0m0.1-0.1h0m-77.3 1.6h0m1.3-0.7h0m1.6 2.7h0m1.8-1.5h0m10.5-1.1h0m1.3 1.8h0m4.1-0.9h0m7.3 1.7h0m0-1.3h0m0.2 0.8h0m2.3-0.6h0m3.9-0.2h0m3.7-0.9h0m3.6 0.7h0m1.2-0.4h0m0.5 0.4h0m1 1.1h0m3.4-2.3h0m0.3 2.4h0m0.2 0.4h0m0-0.3h0m1.7-1.8h0m4.1-0.5h0m0 2.5h0m5.3-1.9h0m2.1 1.9h0m1.3-1.7h0m7-0.5h0m0 2.2h0m0.1 0h0m1.5-0.4h0m1.9-2.4h0m2.6 2.4h0m0.5-0.6h0m0.7 0.1h0m-70.4 3.9h0m0.5-2.2h0m3.6-0.6h0m9.5 0.7h0m0.5 0.1h0m0.4 1.1h0m8.8-1.9h0m1.5 1.7h0m1.6 0.8h0m0.2 0.1h0m5.2-0.9h0m0.8 0.4h0m1.4-1.4h0m2.7 1.4h0m1-0.6h0m0.4-1h0m0.4 1.7h0m0.1 0.3h0m0.7-0.1h0m0.1-0.5h0m2 0.5h0m0.9-2.2h0m0 2.3h0m6.5-0.1h0m0.3-1.8h0m0.1 0.8h0m0.4-1.3h0m3.1 1.5h0m2.8 0.9h0m3.6 0.2h0m4.1-2.6h0m1.7-0.1h0m0.4 1h0m0.5-1.1h0m2.1 0.1h0m-70 5.7h0m8.8-1.3h0m2.7 0.9h0m8-1.3h0m0.5-0.3h0m0.2 1.9h0m1-1.7h0m0.9 0.3h0m0.7-0.1h0m0.2 0.6h0m0 0.6h0m0.1-0.4h0m0-0.2h0m1.8-0.7h0m1.8 0.4h0m0.7 0.5h0m0.3-1.8h0m2.4 0.2h0m1.4-0.2h0m3.2 0.5h0m4.9 1.6h0m5.3-2.1h0m0.8 1h0m4.8 1.3h0m0.7 0.4h0m6.9-1.4h0m4.8-0.5h0m1.1-1h0m3.1 2.7h0m2.9-0.7h0m3.2 0.2h0m-64.2 1.7h0m37.2-0.8h0m6 0.5h0m20.1 0h0" stroke="#4830a8" stroke-width="1.4" stroke-linecap="square"/>
<path d="M275.9 589.4h0m-31.7 2.2h0m19.8-2h0m13.3 1.9h0m18.6-1h0m2.9 1.3h0m8.3-2.1h0m-50.4 5.6h0m2.8-0.3h0m7.1-2.2h0m8.4 2.2h0m4 0.2h0m12.4-1.3h0m13.5-0.3h0m4.9 0.1h0m-73.9 3.7h0m23.1-0.7h0m10 0.3h0m0.3-1.2h0m8.2 0.3h0m1.3-0.5h0m3.7 0.9h0m12.2 1.9h0m1.6-2.7h0m-48.3 4.5h0m3-0.3h0m4.6-0.7h0m13.6 0.8h0m31.6-1.3h0m-62.7 4.9h0m10.9-1.3h0m10.9-0.4h0m3 0h0m22.8 2.6h0m1.2-2.5h0m4.9 2.4h0m3.1-2.1h0m1.3 1.8h0m1 0h0m4.7-0.2h0m-56.5 2.5h0m3.4-1.1h0m3.8 0.7h0m5.4-0.6h0m13.6 0.3h0m6.2-0.8h0m2.7 2h0m5.1-1.4h0m0.1 1.8h0m10.5-1.4h0m0.2 0.1h0m2.6 0.6h0m-65.7 2.1h0m41.9-0.3h0m2.9-0.7h0m2.1 0.8h0m14.5 0.5h0m0 1h0m13.8-0.9h0m-68.9 2.9h0m11-0.1h0m6.8 1.4h0m10.8 0.1h0m5.2-2.1h0m3.2 0.6h0m1.2 0.8h0m9.1-0.5h0m6.9-0.1h0m6.5-0.9h0m2.6 0.2h0m6.8 0.3h0m-43.5 4.7h0m14.4-1.3h0m9.6-1.2h0m1.7 0.5h0m1 1.6h0m0.3-0.2h0m0.3-0.1h0m11-0.4h0m2.5 0.4h0m-69.5 1.4h0m24.6-0.6h0m5.1 0.8h0m15.8 1.8h0m3.4 0.2h0m11.8-1.8h0m-66 4.8h0m5.6-1.5h0m0.7-0.5h0m2.7 0.9h0m10.2 0.6h0m10.3-2.1h0m5 0.9h0m0.7-0.7h0m1.5 2.4h0m0.6-0.8h0m4.6-1.8h0m3.5-0.1h0m3 1.4h0m0.7 0.4h0m1.2-1.2h0m0.5-0.1h0m20.5-0.5h0m-68.1 3.5h0m3.2-0.2h0m1.7 1.7h0m2.9-2.1h0m30.3 0.8h0m2.7-0.8h0m1 0.3h0m4.3 0.2h0m0.7 1.2h0m3.3-1.1h0m1.1 2h0m14.2-1.3h0m-61.3 3.5h0m17.2-0.7h0m7.3 0.9h0m14.3 0h0m3.8-1.6h0m13.2 0.1h0m0.7 1.3h0m1 0.4h0m6.2-2h0m-61.1 4.3h0m11.2 0.1h0m1.2-0.2h0m5.8-1.2h0m17 1.8h0m7.9 0.7h0m1.8-1.3h0m1.8 1.4h0m-52.8 1.9h0m6.4-1.3h0m0.1 2.6h0m3.2-1.7h0m1.8-0.1h0m7.3 1.5h0m0.6-2.1h0m5.2 2.1h0m5.5-1.6h0m9.6 1.5h0m0.5-1.4h0m0.7 0h0m3.5 0h0m0.8-0.1h0m1 1.4h0m3.7-1.9h0m3.3 1.8h0m1.3-1.6h0m12.4 1.2h0m-69.2 1.1h0m23.2 0.6h0m26.2 0.9h0m1.3-1.5h0m7.4 0.2h0m4.5 2.1h0m3.4-1.6h0m-60.1 5.1h0m15.2-2.3h0m9.2 0h0m2.2 0.5h0m9.4 0.5h0m2.3 0h0m10.3 0.6h0m0.8-0.3h0m2.4 1h0m1.8-1.8h0m14.4 0.8h0m-76.8 2h0m1.3-0.7h0m3.4 1.2h0m38.6 0h0m4.7 1.2h0m0.2 0.4h0m5.8-2.6h0m7.4 2.5h0m1.3-1.7h0m8.6 1.3h0m5-0.6h0m-55.6 2h0m12.3 1.7h0m10.3-0.4h0m1.8 0.1h0m10.6-1.6h0m14.1-0.5h0m1.7-0.1h0m0.4 1h0m-67.4 4.7h0m8.8-1.3h0m2.7 0.9h0m8-1.3h0m0.5-0.3h0m2.8 0.4h0m0.2 0.6h0m0.1 0.2h0m0-0.2h0m4.6-1.6h0m7 0.5h0m4.9 1.6h0m10.9 0.2h0m0.7 0.4h0m11.7-1.9h0m10.3 1.2h0m-64.2 1.7h0m43.2-0.3h0" stroke="#2c1478" stroke-width="1.0" stroke-linecap="square"/>
</g></g>
<rect x="229.9" y="588.6" width="80.49999999999997" height="62.60000000000002" fill="none" stroke="#111" stroke-width="1.6"/>
<line x1="437.0" y1="516.1949999999999" x2="437.0" y2="642.0" stroke="#000" stroke-width="1.5"/>
<line x1="437.0" y1="642.0" x2="574.2" y2="642.0" stroke="#000" stroke-width="1.5"/>
<line x1="433.2" y1="642.0" x2="437.0" y2="642.0" stroke="#000" stroke-width="1.4"/>
<text x="433.4" y="646.1" font-size="11.4" text-anchor="end" font-family="Liberation Sans, sans-serif" textLength="7.5" lengthAdjust="spacingAndGlyphs" fill="#000" stroke="#000" stroke-width="0.22">0</text>
<line x1="433.2" y1="600.265" x2="437.0" y2="600.265" stroke="#000" stroke-width="1.4"/>
<text x="433.4" y="604.365" font-size="11.4" text-anchor="end" font-family="Liberation Sans, sans-serif" textLength="15" lengthAdjust="spacingAndGlyphs" fill="#000" stroke="#000" stroke-width="0.22">50</text>
<line x1="433.2" y1="558.53" x2="437.0" y2="558.53" stroke="#000" stroke-width="1.4"/>
<text x="433.4" y="562.63" font-size="11.4" text-anchor="end" font-family="Liberation Sans, sans-serif" textLength="17.5" lengthAdjust="spacingAndGlyphs" fill="#000" stroke="#000" stroke-width="0.22">100</text>
<line x1="433.2" y1="516.795" x2="437.0" y2="516.795" stroke="#000" stroke-width="1.4"/>
<text x="433.4" y="520.895" font-size="11.4" text-anchor="end" font-family="Liberation Sans, sans-serif" textLength="17.5" lengthAdjust="spacingAndGlyphs" fill="#000" stroke="#000" stroke-width="0.22">150</text>
<rect x="449.2" y="557.94571" width="21.100000000000023" height="84.05429000000004" fill="#ff0000"/>
<line x1="459.75" y1="555.1912" x2="459.75" y2="558.44571" stroke="#000" stroke-width="1.5"/>
<line x1="454.55" y1="555.1912" x2="464.95" y2="555.1912" stroke="#000" stroke-width="1.5"/>
<rect x="473.2" y="590.2486" width="20.69999999999999" height="51.75139999999999" fill="#0000ca"/>
<line x1="483.54999999999995" y1="586.49245" x2="483.54999999999995" y2="590.7486" stroke="#000" stroke-width="1.5"/>
<line x1="478.34999999999997" y1="586.49245" x2="488.74999999999994" y2="586.49245" stroke="#000" stroke-width="1.5"/>
<rect x="517.0" y="557.94571" width="20.700000000000045" height="84.05429000000004" fill="#ff0000"/>
<line x1="527.35" y1="551.0177" x2="527.35" y2="558.44571" stroke="#000" stroke-width="1.5"/>
<line x1="522.15" y1="551.0177" x2="532.5500000000001" y2="551.0177" stroke="#000" stroke-width="1.5"/>
<rect x="541.2" y="601.9344" width="20.799999999999955" height="40.06560000000002" fill="#0000ca"/>
<line x1="551.6" y1="597.34355" x2="551.6" y2="602.4344" stroke="#000" stroke-width="1.5"/>
<line x1="546.4" y1="597.34355" x2="556.8000000000001" y2="597.34355" stroke="#000" stroke-width="1.5"/>
<line x1="471.4" y1="642.0" x2="471.4" y2="645.9" stroke="#000" stroke-width="1.3"/>
<line x1="539.7" y1="642.0" x2="539.7" y2="645.9" stroke="#000" stroke-width="1.3"/>
<line x1="460.3" y1="539.2" x2="485.7" y2="539.2" stroke="#000" stroke-width="1.4"/>
<text x="473.3" y="532.2" font-size="12" text-anchor="middle" font-family="Liberation Sans, sans-serif" font-weight="bold" fill="#000" >*</text>
<line x1="527.5" y1="539.2" x2="553.8" y2="539.2" stroke="#000" stroke-width="1.4"/>
<text x="541.4" y="532.2" font-size="12" text-anchor="middle" font-family="Liberation Sans, sans-serif" font-weight="bold" fill="#000" >*</text>
<rect x="524.9" y="492.0" width="15.099999999999932" height="5.999999999999955" fill="#ff0000"/>
<text x="546.5" y="498.6" font-size="12.6" text-anchor="start" font-family="Liberation Sans, sans-serif" textLength="32.7" lengthAdjust="spacingAndGlyphs" fill="#000" stroke="#000" stroke-width="0.22">si-NC</text>
<rect x="524.9" y="506.09999999999997" width="15.099999999999932" height="5.899999999999989" fill="#0000ca"/>
<text x="546.5" y="512.6" font-size="12.6" text-anchor="start" font-family="Liberation Sans, sans-serif" textLength="33.6" lengthAdjust="spacingAndGlyphs" fill="#000" stroke="#000" stroke-width="0.22">si-circ</text>
<text x="470.7" y="667.8" font-size="12.4" text-anchor="middle" font-family="Liberation Sans, sans-serif" textLength="41.8" lengthAdjust="spacingAndGlyphs" fill="#000" stroke="#000" stroke-width="0.22">SW620</text>
<text x="540.5" y="667.8" font-size="12.4" text-anchor="middle" font-family="Liberation Sans, sans-serif" textLength="26.6" lengthAdjust="spacingAndGlyphs" fill="#000" stroke="#000" stroke-width="0.22">RKO</text>
<text transform="translate(406.8,579.6) rotate(-90)" font-size="11.9" text-anchor="middle" font-family="Liberation Sans, sans-serif" textLength="125.5" lengthAdjust="spacingAndGlyphs" fill="#000" stroke="#000" stroke-width="0.22">Migration (% of control)</text>
<text x="92.3" y="698.0" font-size="23.6" text-anchor="start" font-family="Liberation Sans, sans-serif" font-weight="bold" fill="#000" >F</text>
<text x="182.4" y="700.6" font-size="12.2" text-anchor="middle" font-family="Liberation Sans, sans-serif" textLength="32.2" lengthAdjust="spacingAndGlyphs" fill="#000" stroke="#000" stroke-width="0.22">si-NC</text>
<text x="272.2" y="700.6" font-size="12.2" text-anchor="middle" font-family="Liberation Sans, sans-serif" textLength="33.6" lengthAdjust="spacingAndGlyphs" fill="#000" stroke="#000" stroke-width="0.22">si-circ</text>
<text x="108.8" y="749.9" font-size="12.6" text-anchor="middle" font-family="Liberation Sans, sans-serif" textLength="42.2" lengthAdjust="spacingAndGlyphs" fill="#000" stroke="#000" stroke-width="0.22">SW620</text>
<text x="107.5" y="836" font-size="12.6" text-anchor="middle" font-family="Liberation Sans, sans-serif" textLength="27.3" lengthAdjust="spacingAndGlyphs" fill="#000" stroke="#000" stroke-width="0.22">RKO</text>
<filter id="fF0" filterUnits="userSpaceOnUse" x="139.0" y="715.3" width="80.4" height="63.10000000000002" color-interpolation-filters="sRGB">
<feTurbulence type="fractalNoise" baseFrequency="0.16" numOctaves="3" seed="11" result="n1"/>
<feColorMatrix in="n1" type="matrix" values="1 0 0 0 0  1 0 0 0 0  1 0 0 0 0  0 0 0 0 1" result="g1"/>
<feTurbulence type="fractalNoise" baseFrequency="0.6" numOctaves="2" seed="21" result="n2"/>
<feColorMatrix in="n2" type="matrix" values="1 0 0 0 0  1 0 0 0 0  1 0 0 0 0  0 0 0 0 1" result="g2"/>
<feComposite in="g1" in2="g2" operator="arithmetic" k1="0" k2="0.65" k3="0.35" k4="0" result="m"/>
<feColorMatrix in="m" type="matrix" values="0 0 0 0 0.55  0 0 0 0 0.24  0 0 0 0 0.76  14 0 0 0 -7.088"/>
<feGaussianBlur stdDeviation="0.3"/>
</filter>
<rect x="139.0" y="715.3" width="80.4" height="63.10000000000002" fill="#e4e0dc"/>
<rect x="139.0" y="715.3" width="80.4" height="63.10000000000002" fill="#000" filter="url(#fF0)"/>
<rect x="139.0" y="715.3" width="80.4" height="63.10000000000002" fill="none" stroke="#111" stroke-width="1.6"/>
<filter id="fF1" filterUnits="userSpaceOnUse" x="228.7" y="715.3" width="80.40000000000003" height="63.10000000000002" color-interpolation-filters="sRGB">
<feTurbulence type="fractalNoise" baseFrequency="0.165" numOctaves="3" seed="12" result="n1"/>
<feColorMatrix in="n1" type="matrix" values="1 0 0 0 0  1 0 0 0 0  1 0 0 0 0  0 0 0 0 1" result="g1"/>
<feTurbulence type="fractalNoise" baseFrequency="0.6" numOctaves="2" seed="22" result="n2"/>
<feColorMatrix in="n2" type="matrix" values="1 0 0 0 0  1 0 0 0 0  1 0 0 0 0  0 0 0 0 1" result="g2"/>
<feComposite in="g1" in2="g2" operator="arithmetic" k1="0" k2="0.65" k3="0.35" k4="0" result="m"/>
<feColorMatrix in="m" type="matrix" values="0 0 0 0 0.62  0 0 0 0 0.32  0 0 0 0 0.76  14 0 0 0 -7.550"/>
<feGaussianBlur stdDeviation="0.3"/>
</filter>
<rect x="228.7" y="715.3" width="80.40000000000003" height="63.10000000000002" fill="#e6e2de"/>
<rect x="228.7" y="715.3" width="80.40000000000003" height="63.10000000000002" fill="#000" filter="url(#fF1)"/>
<rect x="228.7" y="715.3" width="80.40000000000003" height="63.10000000000002" fill="none" stroke="#111" stroke-width="1.6"/>
<filter id="fF2" filterUnits="userSpaceOnUse" x="137.3" y="797.2" width="80.69999999999999" height="63.299999999999955" color-interpolation-filters="sRGB">
<feTurbulence type="fractalNoise" baseFrequency="0.13" numOctaves="3" seed="13" result="n1"/>
<feColorMatrix in="n1" type="matrix" values="1 0 0 0 0  1 0 0 0 0  1 0 0 0 0  0 0 0 0 1" result="g1"/>
<feTurbulence type="fractalNoise" baseFrequency="0.7" numOctaves="2" seed="23" result="n2"/>
<feColorMatrix in="n2" type="matrix" values="1 0 0 0 0  1 0 0 0 0  1 0 0 0 0  0 0 0 0 1" result="g2"/>
<feComposite in="g1" in2="g2" operator="arithmetic" k1="0" k2="0.72" k3="0.28" k4="0" result="m"/>
<feColorMatrix in="m" type="matrix" values="0 0 0 0 0.4  0 0 0 0 0.17  0 0 0 0 0.78  12 0 0 0 -4.660"/>
<feGaussianBlur stdDeviation="0.3"/>
</filter>
<rect x="137.3" y="797.2" width="80.69999999999999" height="63.299999999999955" fill="#d2d8de"/>
<rect x="137.3" y="797.2" width="80.69999999999999" height="63.299999999999955" fill="#000" filter="url(#fF2)"/>
<filter id="sF2" filterUnits="userSpaceOnUse" x="137.3" y="797.2" width="80.69999999999999" height="63.299999999999955" color-interpolation-filters="sRGB">
<feTurbulence type="fractalNoise" baseFrequency="0.75" numOctaves="1" seed="42"/>
<feColorMatrix type="matrix" values="0 0 0 0 0.824  0 0 0 0 0.847  0 0 0 0 0.871  14 0 0 0 -8.880"/>
<feGaussianBlur stdDeviation="0.25"/>
</filter>
<rect x="137.3" y="797.2" width="80.69999999999999" height="63.299999999999955" fill="#000" filter="url(#sF2)"/>
<filter id="dF2" filterUnits="userSpaceOnUse" x="137.3" y="797.2" width="80.69999999999999" height="63.299999999999955">
<feTurbulence type="fractalNoise" baseFrequency="0.3" numOctaves="2" seed="62" result="t"/>
<feDisplacementMap in="SourceGraphic" in2="t" scale="3.5" xChannelSelector="R" yChannelSelector="G"/>
<feGaussianBlur stdDeviation="0.3"/>
</filter>
<g clip-path="url(#cF2)"><g filter="url(#dF2)" fill="#d2d8de"><circle cx="150.9" cy="819.5" r="3.1"/><circle cx="193.6" cy="807.9" r="4.0"/><circle cx="206.8" cy="799.8" r="4.3"/><circle cx="167.9" cy="802.1" r="3.5"/><circle cx="189.4" cy="804.1" r="2.6"/><circle cx="192.8" cy="812.0" r="2.6"/><circle cx="183.5" cy="837.1" r="4.2"/><circle cx="142.9" cy="836.0" r="1.7"/><circle cx="179.6" cy="854.0" r="2.1"/><circle cx="173.1" cy="803.6" r="3.4"/><circle cx="157.3" cy="857.6" r="2.0"/><circle cx="151.0" cy="800.2" r="3.9"/><circle cx="215.3" cy="830.9" r="4.5"/><circle cx="180.5" cy="853.9" r="2.4"/><circle cx="200.6" cy="828.6" r="2.4"/><circle cx="213.0" cy="797.9" r="3.2"/><circle cx="145.4" cy="808.1" r="2.5"/><circle cx="139.9" cy="857.6" r="4.2"/><circle cx="186.2" cy="828.3" r="2.7"/><circle cx="157.3" cy="809.8" r="1.9"/><circle cx="137.9" cy="833.7" r="2.6"/><circle cx="192.4" cy="831.8" r="2.3"/><circle cx="214.6" cy="817.4" r="4.1"/><circle cx="200.4" cy="816.4" r="3.5"/><circle cx="196.6" cy="851.7" r="3.4"/><circle cx="177.5" cy="828.8" r="3.9"/></g></g>
<clipPath id="cF2"><rect x="137.3" y="797.2" width="80.69999999999999" height="63.299999999999955"/></clipPath>
<rect x="137.3" y="797.2" width="80.69999999999999" height="63.299999999999955" fill="none" stroke="#111" stroke-width="1.6"/>
<filter id="fF3" filterUnits="userSpaceOnUse" x="228.4" y="797.2" width="80.6" height="63.09999999999991" color-interpolation-filters="sRGB">
<feTurbulence type="fractalNoise" baseFrequency="0.075" numOctaves="3" seed="14" result="n1"/>
<feColorMatrix in="n1" type="matrix" values="1 0 0 0 0  1 0 0 0 0  1 0 0 0 0  0 0 0 0 1" result="g1"/>
<feTurbulence type="fractalNoise" baseFrequency="0.7" numOctaves="2" seed="24" result="n2"/>
<feColorMatrix in="n2" type="matrix" values="1 0 0 0 0  1 0 0 0 0  1 0 0 0 0  0 0 0 0 1" result="g2"/>
<feComposite in="g1" in2="g2" operator="arithmetic" k1="0" k2="0.68" k3="0.32" k4="0" result="m"/>
<feColorMatrix in="m" type="matrix" values="0 0 0 0 0.42  0 0 0 0 0.2  0 0 0 0 0.78  12 0 0 0 -5.500"/>
<feGaussianBlur stdDeviation="0.3"/>
</filter>
<rect x="228.4" y="797.2" width="80.6" height="63.09999999999991" fill="#d6dee4"/>
<rect x="228.4" y="797.2" width="80.6" height="63.09999999999991" fill="#000" filter="url(#fF3)"/>
<filter id="sF3" filterUnits="userSpaceOnUse" x="228.4" y="797.2" width="80.6" height="63.09999999999991" color-interpolation-filters="sRGB">
<feTurbulence type="fractalNoise" baseFrequency="0.75" numOctaves="1" seed="43"/>
<feColorMatrix type="matrix" values="0 0 0 0 0.839  0 0 0 0 0.871  0 0 0 0 0.894  14 0 0 0 -8.320"/>
<feGaussianBlur stdDeviation="0.25"/>
</filter>
<rect x="228.4" y="797.2" width="80.6" height="63.09999999999991" fill="#000" filter="url(#sF3)"/>
<filter id="dF3" filterUnits="userSpaceOnUse" x="228.4" y="797.2" width="80.6" height="63.09999999999991">
<feTurbulence type="fractalNoise" baseFrequency="0.3" numOctaves="2" seed="63" result="t"/>
<feDisplacementMap in="SourceGraphic" in2="t" scale="5" xChannelSelector="R" yChannelSelector="G"/>
<feGaussianBlur stdDeviation="0.3"/>
</filter>
<g clip-path="url(#cF3)"><g filter="url(#dF3)" fill="#d6dee4"><circle cx="256.9" cy="809.3" r="3.2"/><circle cx="300.5" cy="798.4" r="3.7"/><circle cx="284.8" cy="799.0" r="5.7"/><circle cx="273.3" cy="853.9" r="2.6"/><circle cx="287.1" cy="849.7" r="4.2"/><circle cx="280.2" cy="820.7" r="6.5"/><circle cx="276.5" cy="827.1" r="5.5"/><circle cx="262.4" cy="837.8" r="5.8"/><circle cx="299.2" cy="805.7" r="5.3"/></g></g>
<clipPath id="cF3"><rect x="228.4" y="797.2" width="80.6" height="63.09999999999991"/></clipPath>
<rect x="228.4" y="797.2" width="80.6" height="63.09999999999991" fill="none" stroke="#111" stroke-width="1.6"/>
<line x1="437.5" y1="727.605" x2="437.5" y2="853.5" stroke="#000" stroke-width="1.5"/>
<line x1="437.5" y1="853.5" x2="573.7" y2="853.5" stroke="#000" stroke-width="1.5"/>
<line x1="433.7" y1="853.5" x2="437.5" y2="853.5" stroke="#000" stroke-width="1.4"/>
<text x="433.6" y="857.6" font-size="11.4" text-anchor="end" font-family="Liberation Sans, sans-serif" textLength="7.5" lengthAdjust="spacingAndGlyphs" fill="#000" stroke="#000" stroke-width="0.22">0</text>
<line x1="433.7" y1="811.735" x2="437.5" y2="811.735" stroke="#000" stroke-width="1.4"/>
<text x="433.6" y="815.835" font-size="11.4" text-anchor="end" font-family="Liberation Sans, sans-serif" textLength="15" lengthAdjust="spacingAndGlyphs" fill="#000" stroke="#000" stroke-width="0.22">50</text>
<line x1="433.7" y1="769.97" x2="437.5" y2="769.97" stroke="#000" stroke-width="1.4"/>
<text x="433.6" y="774.07" font-size="11.4" text-anchor="end" font-family="Liberation Sans, sans-serif" textLength="17.5" lengthAdjust="spacingAndGlyphs" fill="#000" stroke="#000" stroke-width="0.22">100</text>
<line x1="433.7" y1="728.205" x2="437.5" y2="728.205" stroke="#000" stroke-width="1.4"/>
<text x="433.6" y="732.3050000000001" font-size="11.4" text-anchor="end" font-family="Liberation Sans, sans-serif" textLength="17.5" lengthAdjust="spacingAndGlyphs" fill="#000" stroke="#000" stroke-width="0.22">150</text>
<rect x="449.2" y="769.97" width="20.5" height="83.52999999999997" fill="#ff0000"/>
<line x1="459.45" y1="763.2876" x2="459.45" y2="770.47" stroke="#000" stroke-width="1.5"/>
<line x1="454.25" y1="763.2876" x2="464.65" y2="763.2876" stroke="#000" stroke-width="1.5"/>
<rect x="473.2" y="822.17625" width="20.400000000000034" height="31.323750000000018" fill="#0000ca"/>
<line x1="483.4" y1="817.5821" x2="483.4" y2="822.67625" stroke="#000" stroke-width="1.5"/>
<line x1="478.2" y1="817.5821" x2="488.59999999999997" y2="817.5821" stroke="#000" stroke-width="1.5"/>
<rect x="517.0" y="769.97" width="20.399999999999977" height="83.52999999999997" fill="#ff0000"/>
<line x1="527.2" y1="765.7935" x2="527.2" y2="770.47" stroke="#000" stroke-width="1.5"/>
<line x1="522.0" y1="765.7935" x2="532.4000000000001" y2="765.7935" stroke="#000" stroke-width="1.5"/>
<rect x="541.2" y="817.99975" width="20.399999999999977" height="35.50025000000005" fill="#0000ca"/>
<line x1="551.4000000000001" y1="812.98795" x2="551.4000000000001" y2="818.49975" stroke="#000" stroke-width="1.5"/>
<line x1="546.2" y1="812.98795" x2="556.6000000000001" y2="812.98795" stroke="#000" stroke-width="1.5"/>
<line x1="471.6" y1="853.5" x2="471.6" y2="857.7" stroke="#000" stroke-width="1.3"/>
<line x1="539.1" y1="853.5" x2="539.1" y2="857.7" stroke="#000" stroke-width="1.3"/>
<line x1="459.5" y1="750.4" x2="485.7" y2="750.4" stroke="#000" stroke-width="1.4"/>
<text x="472.3" y="743.6" font-size="12" text-anchor="middle" font-family="Liberation Sans, sans-serif" font-weight="bold" fill="#000" >*</text>
<line x1="527.2" y1="750.4" x2="553.5" y2="750.4" stroke="#000" stroke-width="1.4"/>
<text x="540.0" y="743.6" font-size="12" text-anchor="middle" font-family="Liberation Sans, sans-serif" font-weight="bold" fill="#000" >*</text>
<rect x="527.5" y="703.5" width="14.9" height="5.899999999999932" fill="#ff0000"/>
<text x="548.5" y="710.0" font-size="12.6" text-anchor="start" font-family="Liberation Sans, sans-serif" textLength="32.7" lengthAdjust="spacingAndGlyphs" fill="#000" stroke="#000" stroke-width="0.22">si-NC</text>
<rect x="527.5" y="717.5" width="14.9" height="5.899999999999932" fill="#0000ca"/>
<text x="548.5" y="724.0" font-size="12.6" text-anchor="start" font-family="Liberation Sans, sans-serif" textLength="33.6" lengthAdjust="spacingAndGlyphs" fill="#000" stroke="#000" stroke-width="0.22">si-circ</text>
<text x="472.3" y="878.4" font-size="12.4" text-anchor="middle" font-family="Liberation Sans, sans-serif" textLength="41.6" lengthAdjust="spacingAndGlyphs" fill="#000" stroke="#000" stroke-width="0.22">SW620</text>
<text x="541.0" y="878.4" font-size="12.4" text-anchor="middle" font-family="Liberation Sans, sans-serif" textLength="26.9" lengthAdjust="spacingAndGlyphs" fill="#000" stroke="#000" stroke-width="0.22">RKO</text>
<text transform="translate(405.7,797.5) rotate(-90)" font-size="11.8" text-anchor="middle" font-family="Liberation Sans, sans-serif" textLength="119.5" lengthAdjust="spacingAndGlyphs" fill="#000" stroke="#000" stroke-width="0.22">Invasion (% of control)</text>
</svg></body></html>
